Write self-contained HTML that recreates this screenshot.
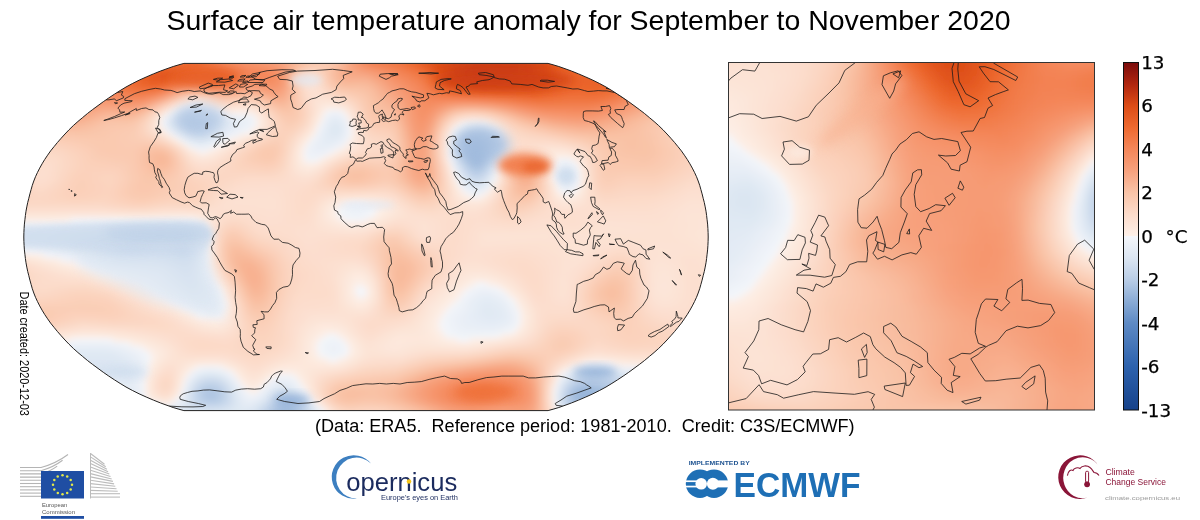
<!DOCTYPE html>
<html><head><meta charset="utf-8"><style>
html,body{margin:0;padding:0;background:#fff;width:1200px;height:520px;overflow:hidden}
svg{position:absolute;left:0;top:0}
.t{font-family:"Liberation Sans",Arial,sans-serif}
.d{font-family:"DejaVu Sans",sans-serif}
</style></head><body>
<svg width="1200" height="520" viewBox="0 0 1200 520">
<defs>
<filter id="gb" x="-5%" y="-5%" width="110%" height="110%"><feGaussianBlur stdDeviation="3"/></filter>
<clipPath id="rob"><path d="M183.9,63.4 L178.9,64.8 L173.2,66.5 L167,68.7 L160.4,71.1 L153.4,73.9 L146.2,77 L139.1,80.2 L132.3,83.6 L126,87 L120.1,90.6 L114.4,94.2 L108.8,97.9 L103.3,101.7 L98,105.6 L92.7,109.5 L87.6,113.4 L82.7,117.5 L77.9,121.5 L73.3,125.6 L69,129.8 L65,134 L61.2,138.2 L57.5,142.4 L54,146.7 L50.6,150.9 L47.6,155.2 L44.7,159.5 L42.1,163.8 L39.7,168.1 L37.5,172.4 L35.5,176.7 L33.8,181 L32.3,185.3 L31.1,189.6 L29.9,193.9 L28.8,198.3 L27.7,202.6 L26.8,206.9 L26,211.2 L25.4,215.5 L24.9,219.8 L24.4,224.1 L24.1,228.4 L23.9,232.7 L23.8,237 L23.9,241.3 L24.1,245.6 L24.4,249.9 L24.9,254.2 L25.4,258.5 L26,262.8 L26.8,267.1 L27.7,271.4 L28.8,275.7 L29.9,280.1 L31.1,284.4 L32.3,288.7 L33.8,293 L35.5,297.3 L37.5,301.6 L39.7,305.9 L42.1,310.2 L44.7,314.5 L47.6,318.8 L50.6,323.1 L54,327.3 L57.5,331.6 L61.2,335.8 L65,340 L69,344.2 L73.3,348.4 L77.9,352.5 L82.7,356.5 L87.6,360.6 L92.7,364.5 L98,368.4 L103.3,372.3 L108.8,376.1 L114.4,379.8 L120.1,383.4 L126,387 L132.3,390.4 L139.1,393.8 L146.2,397 L153.4,400.1 L160.4,402.9 L167,405.3 L173.2,407.5 L178.9,409.2 L183.9,410.6 L548.1,410.6 L553.1,409.2 L558.8,407.5 L565,405.3 L571.6,402.9 L578.6,400.1 L585.8,397 L592.9,393.8 L599.7,390.4 L606,387 L611.9,383.4 L617.6,379.8 L623.2,376.1 L628.7,372.3 L634,368.4 L639.3,364.5 L644.4,360.6 L649.3,356.5 L654.1,352.5 L658.7,348.4 L663,344.2 L667,340 L670.8,335.8 L674.5,331.6 L678,327.3 L681.4,323.1 L684.4,318.8 L687.3,314.5 L689.9,310.2 L692.3,305.9 L694.5,301.6 L696.5,297.3 L698.2,293 L699.7,288.7 L700.9,284.4 L702.1,280.1 L703.2,275.7 L704.3,271.4 L705.2,267.1 L706,262.8 L706.6,258.5 L707.1,254.2 L707.6,249.9 L707.9,245.6 L708.1,241.3 L708.2,237 L708.1,232.7 L707.9,228.4 L707.6,224.1 L707.1,219.8 L706.6,215.5 L706,211.2 L705.2,206.9 L704.3,202.6 L703.2,198.3 L702.1,193.9 L700.9,189.6 L699.7,185.3 L698.2,181 L696.5,176.7 L694.5,172.4 L692.3,168.1 L689.9,163.8 L687.3,159.5 L684.4,155.2 L681.4,150.9 L678,146.7 L674.5,142.4 L670.8,138.2 L667,134 L663,129.8 L658.7,125.6 L654.1,121.5 L649.3,117.5 L644.4,113.4 L639.3,109.5 L634,105.6 L628.7,101.7 L623.2,97.9 L617.6,94.2 L611.9,90.6 L606,87 L599.7,83.6 L592.9,80.2 L585.8,77 L578.6,73.9 L571.6,71.1 L565,68.7 L558.8,66.5 L553.1,64.8 L548.1,63.4Z"/></clipPath>
<clipPath id="eu"><rect x="728.5" y="62.5" width="366" height="347.5"/></clipPath>
<filter id="b3" x="-50%" y="-50%" width="200%" height="200%"><feGaussianBlur stdDeviation="3"/></filter>
<filter id="b4" x="-50%" y="-50%" width="200%" height="200%"><feGaussianBlur stdDeviation="4"/></filter>
<filter id="b5" x="-50%" y="-50%" width="200%" height="200%"><feGaussianBlur stdDeviation="5"/></filter>
<filter id="b6" x="-50%" y="-50%" width="200%" height="200%"><feGaussianBlur stdDeviation="6"/></filter>
<linearGradient id="cbg" x1="0" y1="0" x2="0" y2="1"><stop offset="0" stop-color="#7a0c0c"/>
<stop offset="0.0625" stop-color="#b0260f"/>
<stop offset="0.125" stop-color="#dd4d17"/>
<stop offset="0.1875" stop-color="#ee6a30"/>
<stop offset="0.25" stop-color="#f4875a"/>
<stop offset="0.3125" stop-color="#f7a27e"/>
<stop offset="0.375" stop-color="#f9c4a8"/>
<stop offset="0.4375" stop-color="#fcdccb"/>
<stop offset="0.4999" stop-color="#fdf0e8"/>
<stop offset="0.5001" stop-color="#f4f6fa"/>
<stop offset="0.5625" stop-color="#dce6f2"/>
<stop offset="0.625" stop-color="#b9cde6"/>
<stop offset="0.6875" stop-color="#8aabd5"/>
<stop offset="0.75" stop-color="#5e8ac4"/>
<stop offset="0.875" stop-color="#2d62ad"/>
<stop offset="1" stop-color="#17428a"/></linearGradient>
</defs>
<text class="t" x="166.5" y="29.8" font-size="28.45" fill="#000">Surface air temperature anomaly for September to November 2020</text>
<g clip-path="url(#rob)">
<rect x="0" y="50" width="720" height="370" fill="#fbd5c0"/>
<g filter="url(#gb)"><defs><linearGradient id="w0" gradientUnits="userSpaceOnUse" x1="18" x2="714" y1="0" y2="0"><stop offset=".000" stop-color="#f4875a"/><stop offset=".168" stop-color="#f4875b"/><stop offset=".198" stop-color="#f38050"/><stop offset=".233" stop-color="#ef6e35"/><stop offset=".250" stop-color="#ee692f"/><stop offset=".263" stop-color="#ef6e35"/><stop offset=".293" stop-color="#f48558"/><stop offset=".306" stop-color="#f58d62"/><stop offset=".353" stop-color="#f69971"/><stop offset=".375" stop-color="#f7a17c"/><stop offset=".418" stop-color="#f9c4a8"/><stop offset=".440" stop-color="#facbb2"/><stop offset=".453" stop-color="#fac8ae"/><stop offset=".461" stop-color="#f9c1a5"/><stop offset=".487" stop-color="#f6976f"/><stop offset=".504" stop-color="#f38355"/><stop offset=".513" stop-color="#f27e4e"/><stop offset=".547" stop-color="#f07641"/><stop offset=".565" stop-color="#ee6a30"/><stop offset=".591" stop-color="#e1541d"/><stop offset=".603" stop-color="#dc4c17"/><stop offset=".655" stop-color="#cf4114"/><stop offset=".724" stop-color="#d04115"/><stop offset=".759" stop-color="#dc4c17"/><stop offset=".780" stop-color="#eb642b"/><stop offset=".789" stop-color="#ee6c32"/><stop offset=".802" stop-color="#f0723c"/><stop offset=".823" stop-color="#f17743"/><stop offset=".866" stop-color="#f48759"/><stop offset=".879" stop-color="#f4885c"/><stop offset=".918" stop-color="#f48759"/><stop offset="1" stop-color="#f4875a"/></linearGradient><linearGradient id="w1" gradientUnits="userSpaceOnUse" x1="18" x2="714" y1="0" y2="0"><stop offset=".000" stop-color="#f4875a"/><stop offset=".168" stop-color="#f4875b"/><stop offset=".198" stop-color="#f38050"/><stop offset=".233" stop-color="#ef6e35"/><stop offset=".250" stop-color="#ee692f"/><stop offset=".263" stop-color="#ef6e35"/><stop offset=".293" stop-color="#f48558"/><stop offset=".306" stop-color="#f58d62"/><stop offset=".353" stop-color="#f69971"/><stop offset=".375" stop-color="#f7a17c"/><stop offset=".418" stop-color="#f9c4a8"/><stop offset=".440" stop-color="#facbb2"/><stop offset=".453" stop-color="#fac8ae"/><stop offset=".461" stop-color="#f9c1a5"/><stop offset=".487" stop-color="#f6976f"/><stop offset=".504" stop-color="#f38355"/><stop offset=".513" stop-color="#f27e4e"/><stop offset=".547" stop-color="#f07641"/><stop offset=".565" stop-color="#ee6a30"/><stop offset=".591" stop-color="#e1541d"/><stop offset=".603" stop-color="#dc4c17"/><stop offset=".655" stop-color="#cf4114"/><stop offset=".724" stop-color="#d04115"/><stop offset=".759" stop-color="#dc4c17"/><stop offset=".780" stop-color="#eb642b"/><stop offset=".789" stop-color="#ee6c32"/><stop offset=".802" stop-color="#f0723c"/><stop offset=".823" stop-color="#f17743"/><stop offset=".866" stop-color="#f48759"/><stop offset=".879" stop-color="#f4885c"/><stop offset=".918" stop-color="#f48759"/><stop offset="1" stop-color="#f4875a"/></linearGradient><linearGradient id="w2" gradientUnits="userSpaceOnUse" x1="18" x2="714" y1="0" y2="0"><stop offset=".000" stop-color="#f38252"/><stop offset=".099" stop-color="#f38152"/><stop offset=".164" stop-color="#f17946"/><stop offset=".198" stop-color="#ee692f"/><stop offset=".207" stop-color="#eb652c"/><stop offset=".233" stop-color="#e96229"/><stop offset=".250" stop-color="#ec672d"/><stop offset=".259" stop-color="#ee6a30"/><stop offset=".323" stop-color="#f4875b"/><stop offset=".353" stop-color="#f58e63"/><stop offset=".371" stop-color="#f6956d"/><stop offset=".384" stop-color="#f7a27e"/><stop offset=".401" stop-color="#f9bfa1"/><stop offset=".409" stop-color="#fac9af"/><stop offset=".418" stop-color="#facfb8"/><stop offset=".427" stop-color="#fbd0ba"/><stop offset=".444" stop-color="#fac9b0"/><stop offset=".478" stop-color="#f7a581"/><stop offset=".500" stop-color="#f5946b"/><stop offset=".552" stop-color="#f17a48"/><stop offset=".573" stop-color="#ef6c34"/><stop offset=".603" stop-color="#dd4e18"/><stop offset=".612" stop-color="#d94916"/><stop offset=".634" stop-color="#cf4114"/><stop offset=".655" stop-color="#ca3c14"/><stop offset=".716" stop-color="#cd3e14"/><stop offset=".737" stop-color="#d14215"/><stop offset=".763" stop-color="#dd4d17"/><stop offset=".776" stop-color="#e65c24"/><stop offset=".789" stop-color="#ec662d"/><stop offset=".810" stop-color="#ef6d34"/><stop offset=".828" stop-color="#ef6e36"/><stop offset=".875" stop-color="#f27d4b"/><stop offset=".914" stop-color="#f38355"/><stop offset=".966" stop-color="#f2804f"/><stop offset="1" stop-color="#f38151"/></linearGradient><linearGradient id="w3" gradientUnits="userSpaceOnUse" x1="18" x2="714" y1="0" y2="0"><stop offset=".000" stop-color="#f27e4e"/><stop offset=".073" stop-color="#f38050"/><stop offset=".099" stop-color="#f27e4d"/><stop offset=".155" stop-color="#f0733c"/><stop offset=".172" stop-color="#ee6c32"/><stop offset=".203" stop-color="#e55a22"/><stop offset=".220" stop-color="#e45921"/><stop offset=".250" stop-color="#ee6a30"/><stop offset=".259" stop-color="#ef6f37"/><stop offset=".293" stop-color="#f17742"/><stop offset=".332" stop-color="#f48558"/><stop offset=".358" stop-color="#f4895d"/><stop offset=".366" stop-color="#f58d62"/><stop offset=".379" stop-color="#f69972"/><stop offset=".388" stop-color="#f7a886"/><stop offset=".401" stop-color="#f9c5a9"/><stop offset=".409" stop-color="#fbd0ba"/><stop offset=".414" stop-color="#fbd4c0"/><stop offset=".422" stop-color="#fbd7c4"/><stop offset=".435" stop-color="#fbd2bc"/><stop offset=".461" stop-color="#f8b494"/><stop offset=".474" stop-color="#f7a987"/><stop offset=".513" stop-color="#f69871"/><stop offset=".565" stop-color="#f17a48"/><stop offset=".582" stop-color="#ef6d35"/><stop offset=".603" stop-color="#e0521b"/><stop offset=".612" stop-color="#da4a16"/><stop offset=".634" stop-color="#ce4014"/><stop offset=".651" stop-color="#c93b13"/><stop offset=".681" stop-color="#c83a13"/><stop offset=".716" stop-color="#cd3e14"/><stop offset=".737" stop-color="#d14215"/><stop offset=".763" stop-color="#dd4d17"/><stop offset=".784" stop-color="#e86028"/><stop offset=".797" stop-color="#ec662c"/><stop offset=".845" stop-color="#ee6a30"/><stop offset=".888" stop-color="#f27b49"/><stop offset=".909" stop-color="#f38252"/><stop offset=".927" stop-color="#f38253"/><stop offset=".970" stop-color="#f27b49"/><stop offset="1" stop-color="#f27e4d"/></linearGradient><linearGradient id="w4" gradientUnits="userSpaceOnUse" x1="18" x2="714" y1="0" y2="0"><stop offset=".000" stop-color="#f27d4c"/><stop offset=".086" stop-color="#f27e4d"/><stop offset=".116" stop-color="#f17946"/><stop offset=".142" stop-color="#f0733c"/><stop offset=".164" stop-color="#ee6b31"/><stop offset=".198" stop-color="#e3561f"/><stop offset=".216" stop-color="#e2561f"/><stop offset=".237" stop-color="#ed682e"/><stop offset=".250" stop-color="#f0733d"/><stop offset=".263" stop-color="#f17946"/><stop offset=".289" stop-color="#f17844"/><stop offset=".302" stop-color="#f17a47"/><stop offset=".332" stop-color="#f48659"/><stop offset=".358" stop-color="#f4885b"/><stop offset=".366" stop-color="#f48b5f"/><stop offset=".379" stop-color="#f69870"/><stop offset=".388" stop-color="#f7a986"/><stop offset=".401" stop-color="#fac8ae"/><stop offset=".409" stop-color="#fbd5c1"/><stop offset=".418" stop-color="#fcdccb"/><stop offset=".422" stop-color="#fcddcc"/><stop offset=".431" stop-color="#fcd9c6"/><stop offset=".440" stop-color="#fbd0ba"/><stop offset=".457" stop-color="#f8b99a"/><stop offset=".466" stop-color="#f8b08f"/><stop offset=".474" stop-color="#f8ac8b"/><stop offset=".500" stop-color="#f7a987"/><stop offset=".539" stop-color="#f58e63"/><stop offset=".565" stop-color="#f38151"/><stop offset=".582" stop-color="#f0743f"/><stop offset=".591" stop-color="#ee6a30"/><stop offset=".608" stop-color="#df511b"/><stop offset=".616" stop-color="#d94916"/><stop offset=".634" stop-color="#cf4114"/><stop offset=".655" stop-color="#c93b13"/><stop offset=".698" stop-color="#cc3d14"/><stop offset=".746" stop-color="#d54616"/><stop offset=".763" stop-color="#dd4d17"/><stop offset=".776" stop-color="#e45921"/><stop offset=".793" stop-color="#ea632a"/><stop offset=".832" stop-color="#ea632a"/><stop offset=".858" stop-color="#ed692f"/><stop offset=".901" stop-color="#f27f4f"/><stop offset=".914" stop-color="#f38354"/><stop offset=".922" stop-color="#f38355"/><stop offset=".970" stop-color="#f17b48"/><stop offset="1" stop-color="#f27e4d"/></linearGradient><linearGradient id="w5" gradientUnits="userSpaceOnUse" x1="18" x2="714" y1="0" y2="0"><stop offset=".000" stop-color="#f27d4c"/><stop offset=".095" stop-color="#f27d4c"/><stop offset=".142" stop-color="#f0733d"/><stop offset=".164" stop-color="#ee6a30"/><stop offset=".194" stop-color="#e45921"/><stop offset=".211" stop-color="#e45921"/><stop offset=".224" stop-color="#ea632a"/><stop offset=".250" stop-color="#f38151"/><stop offset=".259" stop-color="#f48557"/><stop offset=".267" stop-color="#f48558"/><stop offset=".297" stop-color="#f27f4e"/><stop offset=".328" stop-color="#f48b5f"/><stop offset=".341" stop-color="#f58c61"/><stop offset=".358" stop-color="#f48a5e"/><stop offset=".371" stop-color="#f58f64"/><stop offset=".379" stop-color="#f69871"/><stop offset=".384" stop-color="#f7a07b"/><stop offset=".397" stop-color="#f9c1a5"/><stop offset=".405" stop-color="#fbd2bc"/><stop offset=".414" stop-color="#fcddcc"/><stop offset=".422" stop-color="#fce0d0"/><stop offset=".427" stop-color="#fcdecf"/><stop offset=".435" stop-color="#fbd8c5"/><stop offset=".461" stop-color="#f8b798"/><stop offset=".474" stop-color="#f8b191"/><stop offset=".496" stop-color="#f8b393"/><stop offset=".504" stop-color="#f8b090"/><stop offset=".543" stop-color="#f59167"/><stop offset=".569" stop-color="#f38456"/><stop offset=".578" stop-color="#f27e4d"/><stop offset=".595" stop-color="#ee6a30"/><stop offset=".612" stop-color="#e0511b"/><stop offset=".621" stop-color="#d94a16"/><stop offset=".638" stop-color="#d14215"/><stop offset=".659" stop-color="#cc3e14"/><stop offset=".681" stop-color="#cd3e14"/><stop offset=".728" stop-color="#d34415"/><stop offset=".759" stop-color="#dc4c17"/><stop offset=".780" stop-color="#e65d25"/><stop offset=".797" stop-color="#ea632a"/><stop offset=".841" stop-color="#ea6229"/><stop offset=".862" stop-color="#ed692f"/><stop offset=".901" stop-color="#f38152"/><stop offset=".918" stop-color="#f48659"/><stop offset=".935" stop-color="#f48557"/><stop offset=".970" stop-color="#f27d4b"/><stop offset="1" stop-color="#f38050"/></linearGradient><linearGradient id="w6" gradientUnits="userSpaceOnUse" x1="18" x2="714" y1="0" y2="0"><stop offset=".000" stop-color="#f27f4e"/><stop offset=".078" stop-color="#f38050"/><stop offset=".108" stop-color="#f27e4d"/><stop offset=".142" stop-color="#f07641"/><stop offset=".181" stop-color="#ea642a"/><stop offset=".194" stop-color="#e85f27"/><stop offset=".207" stop-color="#e96128"/><stop offset=".220" stop-color="#ee6c32"/><stop offset=".241" stop-color="#f4895c"/><stop offset=".254" stop-color="#f5936b"/><stop offset=".267" stop-color="#f5946b"/><stop offset=".289" stop-color="#f48a5e"/><stop offset=".297" stop-color="#f4895c"/><stop offset=".332" stop-color="#f5946c"/><stop offset=".362" stop-color="#f58f65"/><stop offset=".371" stop-color="#f59269"/><stop offset=".375" stop-color="#f6956d"/><stop offset=".384" stop-color="#f7a27d"/><stop offset=".397" stop-color="#f9c3a7"/><stop offset=".409" stop-color="#fcd9c7"/><stop offset=".414" stop-color="#fcdece"/><stop offset=".422" stop-color="#fce1d3"/><stop offset=".435" stop-color="#fcdbc9"/><stop offset=".457" stop-color="#f9c2a5"/><stop offset=".466" stop-color="#f8ba9c"/><stop offset=".474" stop-color="#f8b899"/><stop offset=".491" stop-color="#f8ba9c"/><stop offset=".504" stop-color="#f8b899"/><stop offset=".539" stop-color="#f69972"/><stop offset=".578" stop-color="#f38354"/><stop offset=".599" stop-color="#ee6b31"/><stop offset=".621" stop-color="#de4f19"/><stop offset=".629" stop-color="#da4a16"/><stop offset=".655" stop-color="#d24315"/><stop offset=".733" stop-color="#d84816"/><stop offset=".754" stop-color="#dd4e17"/><stop offset=".784" stop-color="#e96128"/><stop offset=".797" stop-color="#ea642b"/><stop offset=".836" stop-color="#ea6229"/><stop offset=".858" stop-color="#ed682e"/><stop offset=".871" stop-color="#ef6f37"/><stop offset=".901" stop-color="#f48557"/><stop offset=".918" stop-color="#f48a5f"/><stop offset=".940" stop-color="#f4885c"/><stop offset=".970" stop-color="#f38152"/><stop offset="1" stop-color="#f48557"/></linearGradient><linearGradient id="w7" gradientUnits="userSpaceOnUse" x1="18" x2="714" y1="0" y2="0"><stop offset=".000" stop-color="#f38253"/><stop offset=".116" stop-color="#f38152"/><stop offset=".138" stop-color="#f27c4b"/><stop offset=".177" stop-color="#ee6c33"/><stop offset=".194" stop-color="#ee6a30"/><stop offset=".203" stop-color="#ef6d34"/><stop offset=".211" stop-color="#f0733d"/><stop offset=".246" stop-color="#f79f7b"/><stop offset=".259" stop-color="#f7a785"/><stop offset=".267" stop-color="#f7a582"/><stop offset=".284" stop-color="#f69a73"/><stop offset=".297" stop-color="#f6956d"/><stop offset=".306" stop-color="#f6966e"/><stop offset=".332" stop-color="#f7a07b"/><stop offset=".341" stop-color="#f79f7a"/><stop offset=".366" stop-color="#f6966e"/><stop offset=".375" stop-color="#f69a73"/><stop offset=".384" stop-color="#f7a582"/><stop offset=".397" stop-color="#f9c4a8"/><stop offset=".409" stop-color="#fcd9c7"/><stop offset=".414" stop-color="#fcdece"/><stop offset=".422" stop-color="#fce2d4"/><stop offset=".435" stop-color="#fcddcd"/><stop offset=".457" stop-color="#fac8ae"/><stop offset=".466" stop-color="#f9c3a7"/><stop offset=".491" stop-color="#f9c1a4"/><stop offset=".504" stop-color="#f9bd9f"/><stop offset=".513" stop-color="#f8b798"/><stop offset=".534" stop-color="#f7a17d"/><stop offset=".578" stop-color="#f48659"/><stop offset=".595" stop-color="#f17642"/><stop offset=".612" stop-color="#ea642a"/><stop offset=".634" stop-color="#df501a"/><stop offset=".642" stop-color="#dc4c17"/><stop offset=".677" stop-color="#d94a16"/><stop offset=".737" stop-color="#dd4d17"/><stop offset=".784" stop-color="#eb642b"/><stop offset=".832" stop-color="#eb652b"/><stop offset=".849" stop-color="#ed682e"/><stop offset=".862" stop-color="#ef6e35"/><stop offset=".897" stop-color="#f4875a"/><stop offset=".909" stop-color="#f58e63"/><stop offset=".922" stop-color="#f59066"/><stop offset=".970" stop-color="#f4885b"/><stop offset="1" stop-color="#f48b60"/></linearGradient><linearGradient id="w8" gradientUnits="userSpaceOnUse" x1="18" x2="714" y1="0" y2="0"><stop offset=".000" stop-color="#f48659"/><stop offset=".121" stop-color="#f4875a"/><stop offset=".138" stop-color="#f38355"/><stop offset=".164" stop-color="#f17945"/><stop offset=".185" stop-color="#f07641"/><stop offset=".198" stop-color="#f17b48"/><stop offset=".211" stop-color="#f48658"/><stop offset=".228" stop-color="#f69d78"/><stop offset=".241" stop-color="#f8b292"/><stop offset=".254" stop-color="#f9bfa2"/><stop offset=".267" stop-color="#f9bc9e"/><stop offset=".293" stop-color="#f7a682"/><stop offset=".306" stop-color="#f7a582"/><stop offset=".328" stop-color="#f8af8e"/><stop offset=".336" stop-color="#f8af8f"/><stop offset=".362" stop-color="#f79f7a"/><stop offset=".375" stop-color="#f79f7b"/><stop offset=".384" stop-color="#f7a987"/><stop offset=".401" stop-color="#faccb3"/><stop offset=".409" stop-color="#fcd8c6"/><stop offset=".418" stop-color="#fce0d1"/><stop offset=".427" stop-color="#fce2d4"/><stop offset=".440" stop-color="#fcddcd"/><stop offset=".466" stop-color="#facbb2"/><stop offset=".496" stop-color="#f9c5a9"/><stop offset=".509" stop-color="#f9bea1"/><stop offset=".539" stop-color="#f7a37f"/><stop offset=".582" stop-color="#f48659"/><stop offset=".616" stop-color="#ee6b32"/><stop offset=".638" stop-color="#e75f26"/><stop offset=".659" stop-color="#e35820"/><stop offset=".741" stop-color="#e45821"/><stop offset=".793" stop-color="#ee6a30"/><stop offset=".832" stop-color="#ee692f"/><stop offset=".845" stop-color="#ee6c32"/><stop offset=".862" stop-color="#f0733d"/><stop offset=".901" stop-color="#f58f65"/><stop offset=".914" stop-color="#f6956c"/><stop offset=".931" stop-color="#f6966e"/><stop offset=".966" stop-color="#f59066"/><stop offset="1" stop-color="#f5936a"/></linearGradient><linearGradient id="w9" gradientUnits="userSpaceOnUse" x1="18" x2="714" y1="0" y2="0"><stop offset=".000" stop-color="#f48b5f"/><stop offset=".086" stop-color="#f48a5e"/><stop offset=".112" stop-color="#f58e63"/><stop offset=".129" stop-color="#f58d63"/><stop offset=".164" stop-color="#f38253"/><stop offset=".181" stop-color="#f38253"/><stop offset=".194" stop-color="#f4895c"/><stop offset=".207" stop-color="#f6956c"/><stop offset=".216" stop-color="#f7a07b"/><stop offset=".237" stop-color="#f9c6ab"/><stop offset=".246" stop-color="#faceb7"/><stop offset=".254" stop-color="#fbd2bd"/><stop offset=".267" stop-color="#facfb8"/><stop offset=".293" stop-color="#f8ba9c"/><stop offset=".302" stop-color="#f8b899"/><stop offset=".328" stop-color="#f9c2a5"/><stop offset=".336" stop-color="#f9c1a4"/><stop offset=".341" stop-color="#f9bfa2"/><stop offset=".366" stop-color="#f7a885"/><stop offset=".375" stop-color="#f7a784"/><stop offset=".384" stop-color="#f8ae8d"/><stop offset=".397" stop-color="#f9c5a9"/><stop offset=".414" stop-color="#fcdccb"/><stop offset=".427" stop-color="#fce2d4"/><stop offset=".444" stop-color="#fcdfcf"/><stop offset=".466" stop-color="#fbd3be"/><stop offset=".504" stop-color="#f9c4a8"/><stop offset=".556" stop-color="#f69a74"/><stop offset=".578" stop-color="#f58c60"/><stop offset=".608" stop-color="#f27c4a"/><stop offset=".642" stop-color="#ef7039"/><stop offset=".672" stop-color="#ee6b31"/><stop offset=".741" stop-color="#ea642a"/><stop offset=".767" stop-color="#ee692f"/><stop offset=".789" stop-color="#ef6f37"/><stop offset=".832" stop-color="#ef6f37"/><stop offset=".849" stop-color="#f0743e"/><stop offset=".862" stop-color="#f17a47"/><stop offset=".892" stop-color="#f59066"/><stop offset=".914" stop-color="#f69b75"/><stop offset=".940" stop-color="#f69c77"/><stop offset=".974" stop-color="#f69971"/><stop offset="1" stop-color="#f69b75"/></linearGradient><linearGradient id="w10" gradientUnits="userSpaceOnUse" x1="18" x2="714" y1="0" y2="0"><stop offset=".000" stop-color="#f59066"/><stop offset=".082" stop-color="#f58f64"/><stop offset=".125" stop-color="#f6966e"/><stop offset=".159" stop-color="#f58d62"/><stop offset=".172" stop-color="#f58c61"/><stop offset=".181" stop-color="#f59065"/><stop offset=".198" stop-color="#f79e79"/><stop offset=".207" stop-color="#f7aa88"/><stop offset=".224" stop-color="#fac9af"/><stop offset=".237" stop-color="#fcd9c7"/><stop offset=".246" stop-color="#fce0d1"/><stop offset=".254" stop-color="#fce3d5"/><stop offset=".267" stop-color="#fcdfcf"/><stop offset=".289" stop-color="#faceb7"/><stop offset=".297" stop-color="#facbb2"/><stop offset=".328" stop-color="#fad0b9"/><stop offset=".336" stop-color="#facfb8"/><stop offset=".345" stop-color="#facab0"/><stop offset=".366" stop-color="#f8b494"/><stop offset=".375" stop-color="#f8b08f"/><stop offset=".384" stop-color="#f8b494"/><stop offset=".388" stop-color="#f8b99a"/><stop offset=".409" stop-color="#fbd5c1"/><stop offset=".418" stop-color="#fcddcd"/><stop offset=".427" stop-color="#fce2d4"/><stop offset=".448" stop-color="#fce3d5"/><stop offset=".470" stop-color="#fcdac8"/><stop offset=".509" stop-color="#f9c3a6"/><stop offset=".539" stop-color="#f8ad8c"/><stop offset=".565" stop-color="#f6966f"/><stop offset=".586" stop-color="#f48a5d"/><stop offset=".595" stop-color="#f4875b"/><stop offset=".642" stop-color="#f48558"/><stop offset=".677" stop-color="#f38050"/><stop offset=".741" stop-color="#ef7038"/><stop offset=".754" stop-color="#ef7038"/><stop offset=".789" stop-color="#f07540"/><stop offset=".823" stop-color="#f07540"/><stop offset=".836" stop-color="#f17743"/><stop offset=".853" stop-color="#f27e4c"/><stop offset=".897" stop-color="#f69973"/><stop offset=".922" stop-color="#f7a481"/><stop offset=".940" stop-color="#f7a582"/><stop offset=".966" stop-color="#f7a27e"/><stop offset="1" stop-color="#f7a481"/></linearGradient><linearGradient id="w11" gradientUnits="userSpaceOnUse" x1="18" x2="714" y1="0" y2="0"><stop offset=".000" stop-color="#f6966d"/><stop offset=".026" stop-color="#f6966f"/><stop offset=".082" stop-color="#f5946b"/><stop offset=".125" stop-color="#f79e79"/><stop offset=".159" stop-color="#f6976f"/><stop offset=".177" stop-color="#f69a73"/><stop offset=".190" stop-color="#f7a683"/><stop offset=".224" stop-color="#fcdccb"/><stop offset=".237" stop-color="#fde9de"/><stop offset=".246" stop-color="#fdefe6"/><stop offset=".250" stop-color="#f4f6fa"/><stop offset=".259" stop-color="#f4f6f9"/><stop offset=".263" stop-color="#fdefe6"/><stop offset=".293" stop-color="#fcdbc9"/><stop offset=".306" stop-color="#fcd9c6"/><stop offset=".328" stop-color="#fcddcc"/><stop offset=".336" stop-color="#fcdbca"/><stop offset=".349" stop-color="#fbd1bc"/><stop offset=".366" stop-color="#f9c0a3"/><stop offset=".375" stop-color="#f8b99b"/><stop offset=".384" stop-color="#f8ba9b"/><stop offset=".388" stop-color="#f9bd9f"/><stop offset=".418" stop-color="#fcdccb"/><stop offset=".427" stop-color="#fce2d4"/><stop offset=".435" stop-color="#fde6da"/><stop offset=".453" stop-color="#fde8dd"/><stop offset=".474" stop-color="#fcdece"/><stop offset=".504" stop-color="#f9c6ab"/><stop offset=".539" stop-color="#f8b292"/><stop offset=".569" stop-color="#f6956c"/><stop offset=".582" stop-color="#f58d62"/><stop offset=".595" stop-color="#f58d61"/><stop offset=".625" stop-color="#f69770"/><stop offset=".638" stop-color="#f69a73"/><stop offset=".659" stop-color="#f69972"/><stop offset=".681" stop-color="#f5946b"/><stop offset=".728" stop-color="#f38050"/><stop offset=".750" stop-color="#f17b48"/><stop offset=".832" stop-color="#f27e4d"/><stop offset=".853" stop-color="#f48659"/><stop offset=".897" stop-color="#f7a07c"/><stop offset=".918" stop-color="#f8ac8a"/><stop offset=".935" stop-color="#f8af8e"/><stop offset="1" stop-color="#f8af8e"/></linearGradient><linearGradient id="w12" gradientUnits="userSpaceOnUse" x1="18" x2="714" y1="0" y2="0"><stop offset=".000" stop-color="#f69c75"/><stop offset=".026" stop-color="#f69d77"/><stop offset=".078" stop-color="#f69972"/><stop offset=".129" stop-color="#f7a885"/><stop offset=".159" stop-color="#f7a17c"/><stop offset=".172" stop-color="#f7a480"/><stop offset=".185" stop-color="#f8b292"/><stop offset=".211" stop-color="#fcdac9"/><stop offset=".228" stop-color="#fdefe7"/><stop offset=".233" stop-color="#f0f3f9"/><stop offset=".246" stop-color="#e5ecf5"/><stop offset=".254" stop-color="#e4ebf5"/><stop offset=".263" stop-color="#e7edf6"/><stop offset=".276" stop-color="#f1f4f9"/><stop offset=".280" stop-color="#fdefe6"/><stop offset=".297" stop-color="#fce5d8"/><stop offset=".328" stop-color="#fde6da"/><stop offset=".336" stop-color="#fce5d7"/><stop offset=".345" stop-color="#fcdfd0"/><stop offset=".366" stop-color="#fac9af"/><stop offset=".379" stop-color="#f9c0a3"/><stop offset=".388" stop-color="#f9c1a4"/><stop offset=".397" stop-color="#f9c6ab"/><stop offset=".418" stop-color="#fcdac9"/><stop offset=".435" stop-color="#fde8dd"/><stop offset=".448" stop-color="#fdeee5"/><stop offset=".461" stop-color="#fdede4"/><stop offset=".474" stop-color="#fce4d7"/><stop offset=".500" stop-color="#facab1"/><stop offset=".509" stop-color="#f9c5a9"/><stop offset=".539" stop-color="#f8b798"/><stop offset=".565" stop-color="#f69a73"/><stop offset=".582" stop-color="#f58f64"/><stop offset=".591" stop-color="#f59065"/><stop offset=".599" stop-color="#f5946b"/><stop offset=".625" stop-color="#f7aa88"/><stop offset=".634" stop-color="#f8af8e"/><stop offset=".655" stop-color="#f8b393"/><stop offset=".677" stop-color="#f8ab8a"/><stop offset=".724" stop-color="#f59066"/><stop offset=".746" stop-color="#f4885b"/><stop offset=".767" stop-color="#f38556"/><stop offset=".819" stop-color="#f38456"/><stop offset=".849" stop-color="#f58d62"/><stop offset=".905" stop-color="#f8ae8c"/><stop offset=".922" stop-color="#f8b596"/><stop offset=".944" stop-color="#f8b99b"/><stop offset="1" stop-color="#f8ba9c"/></linearGradient><linearGradient id="w13" gradientUnits="userSpaceOnUse" x1="18" x2="714" y1="0" y2="0"><stop offset=".000" stop-color="#f7a27d"/><stop offset=".030" stop-color="#f7a37f"/><stop offset=".078" stop-color="#f79f7a"/><stop offset=".091" stop-color="#f7a17d"/><stop offset=".121" stop-color="#f8af8f"/><stop offset=".129" stop-color="#f8b191"/><stop offset=".155" stop-color="#f8ad8b"/><stop offset=".168" stop-color="#f8af8e"/><stop offset=".172" stop-color="#f8b291"/><stop offset=".181" stop-color="#f9bc9e"/><stop offset=".216" stop-color="#fdede3"/><stop offset=".220" stop-color="#f2f5f9"/><stop offset=".241" stop-color="#d9e4f1"/><stop offset=".254" stop-color="#d4e0ef"/><stop offset=".293" stop-color="#f3f5fa"/><stop offset=".297" stop-color="#fdefe7"/><stop offset=".323" stop-color="#fdefe7"/><stop offset=".336" stop-color="#fdece3"/><stop offset=".349" stop-color="#fce3d5"/><stop offset=".375" stop-color="#fac8ae"/><stop offset=".388" stop-color="#f9c5a9"/><stop offset=".401" stop-color="#facab0"/><stop offset=".440" stop-color="#fdeee5"/><stop offset=".444" stop-color="#f3f5fa"/><stop offset=".457" stop-color="#eef2f8"/><stop offset=".466" stop-color="#f3f5fa"/><stop offset=".470" stop-color="#fdeee5"/><stop offset=".500" stop-color="#facbb3"/><stop offset=".509" stop-color="#f9c6ab"/><stop offset=".530" stop-color="#f9c0a3"/><stop offset=".543" stop-color="#f8b799"/><stop offset=".565" stop-color="#f69c75"/><stop offset=".573" stop-color="#f5946b"/><stop offset=".582" stop-color="#f59066"/><stop offset=".595" stop-color="#f6966e"/><stop offset=".603" stop-color="#f79f7a"/><stop offset=".629" stop-color="#f9c3a7"/><stop offset=".647" stop-color="#facbb2"/><stop offset=".659" stop-color="#facbb2"/><stop offset=".677" stop-color="#f9c5a9"/><stop offset=".716" stop-color="#f7a380"/><stop offset=".737" stop-color="#f6976f"/><stop offset=".754" stop-color="#f59167"/><stop offset=".802" stop-color="#f58c60"/><stop offset=".823" stop-color="#f58d62"/><stop offset=".845" stop-color="#f5946b"/><stop offset=".871" stop-color="#f7a07c"/><stop offset=".905" stop-color="#f8b596"/><stop offset=".927" stop-color="#f9bea1"/><stop offset=".961" stop-color="#f9c4a9"/><stop offset="1" stop-color="#f9c4a8"/></linearGradient><linearGradient id="w14" gradientUnits="userSpaceOnUse" x1="18" x2="714" y1="0" y2="0"><stop offset=".000" stop-color="#f7a987"/><stop offset=".030" stop-color="#f8ab89"/><stop offset=".060" stop-color="#f7a683"/><stop offset=".082" stop-color="#f7a683"/><stop offset=".095" stop-color="#f7aa88"/><stop offset=".125" stop-color="#f8b99b"/><stop offset=".138" stop-color="#f8ba9c"/><stop offset=".159" stop-color="#f8b798"/><stop offset=".168" stop-color="#f8ba9c"/><stop offset=".181" stop-color="#f9c7ad"/><stop offset=".207" stop-color="#fdebe0"/><stop offset=".211" stop-color="#f4f6fa"/><stop offset=".237" stop-color="#cedced"/><stop offset=".250" stop-color="#c5d5ea"/><stop offset=".263" stop-color="#cad9ec"/><stop offset=".280" stop-color="#dee8f3"/><stop offset=".293" stop-color="#e9eff6"/><stop offset=".336" stop-color="#f1f4f9"/><stop offset=".341" stop-color="#fdf0e7"/><stop offset=".349" stop-color="#fde8dd"/><stop offset=".375" stop-color="#facdb5"/><stop offset=".388" stop-color="#f9c7ad"/><stop offset=".401" stop-color="#facab1"/><stop offset=".414" stop-color="#fbd5c0"/><stop offset=".435" stop-color="#fdede4"/><stop offset=".440" stop-color="#f2f5f9"/><stop offset=".453" stop-color="#e8eef6"/><stop offset=".461" stop-color="#e9eff6"/><stop offset=".470" stop-color="#f1f4f9"/><stop offset=".474" stop-color="#fdeee6"/><stop offset=".500" stop-color="#facdb5"/><stop offset=".509" stop-color="#f9c7ad"/><stop offset=".530" stop-color="#f9c4a8"/><stop offset=".539" stop-color="#f9c0a3"/><stop offset=".547" stop-color="#f8b697"/><stop offset=".565" stop-color="#f69d77"/><stop offset=".578" stop-color="#f59369"/><stop offset=".586" stop-color="#f5936a"/><stop offset=".595" stop-color="#f69b74"/><stop offset=".599" stop-color="#f7a07c"/><stop offset=".621" stop-color="#fac9af"/><stop offset=".629" stop-color="#fbd2bd"/><stop offset=".642" stop-color="#fcdbca"/><stop offset=".651" stop-color="#fcddcd"/><stop offset=".659" stop-color="#fcddcd"/><stop offset=".672" stop-color="#fcd9c6"/><stop offset=".694" stop-color="#fac9af"/><stop offset=".724" stop-color="#f8ad8b"/><stop offset=".746" stop-color="#f79f7a"/><stop offset=".767" stop-color="#f69871"/><stop offset=".802" stop-color="#f5946b"/><stop offset=".823" stop-color="#f6966d"/><stop offset=".845" stop-color="#f69c76"/><stop offset=".905" stop-color="#f9bc9e"/><stop offset=".931" stop-color="#f9c6ab"/><stop offset=".970" stop-color="#facbb3"/><stop offset="1" stop-color="#facab0"/></linearGradient><linearGradient id="w15" gradientUnits="userSpaceOnUse" x1="18" x2="714" y1="0" y2="0"><stop offset=".000" stop-color="#f8b08f"/><stop offset=".034" stop-color="#f8b292"/><stop offset=".078" stop-color="#f8ad8c"/><stop offset=".095" stop-color="#f8b291"/><stop offset=".129" stop-color="#f9c1a5"/><stop offset=".164" stop-color="#f9c2a5"/><stop offset=".181" stop-color="#facfb7"/><stop offset=".203" stop-color="#fdebe0"/><stop offset=".207" stop-color="#f4f6fa"/><stop offset=".233" stop-color="#cad9ec"/><stop offset=".241" stop-color="#c0d2e8"/><stop offset=".254" stop-color="#bbcfe7"/><stop offset=".267" stop-color="#c4d5ea"/><stop offset=".293" stop-color="#e2eaf4"/><stop offset=".328" stop-color="#e9eff6"/><stop offset=".341" stop-color="#f1f4f9"/><stop offset=".345" stop-color="#fdefe7"/><stop offset=".375" stop-color="#fbd1ba"/><stop offset=".388" stop-color="#facab1"/><stop offset=".401" stop-color="#faccb4"/><stop offset=".409" stop-color="#fbd2bc"/><stop offset=".435" stop-color="#fdf0e8"/><stop offset=".440" stop-color="#eff2f8"/><stop offset=".448" stop-color="#e6ecf5"/><stop offset=".457" stop-color="#e2eaf4"/><stop offset=".461" stop-color="#e3ebf4"/><stop offset=".474" stop-color="#f2f4f9"/><stop offset=".478" stop-color="#fdece3"/><stop offset=".500" stop-color="#facfb8"/><stop offset=".513" stop-color="#fac8ae"/><stop offset=".539" stop-color="#f9c4a8"/><stop offset=".547" stop-color="#f8ba9c"/><stop offset=".560" stop-color="#f7a581"/><stop offset=".569" stop-color="#f69a73"/><stop offset=".578" stop-color="#f5946b"/><stop offset=".586" stop-color="#f6966e"/><stop offset=".595" stop-color="#f79f7a"/><stop offset=".612" stop-color="#f9c5aa"/><stop offset=".625" stop-color="#fcdac9"/><stop offset=".629" stop-color="#fcdfd0"/><stop offset=".638" stop-color="#fde6da"/><stop offset=".655" stop-color="#fdece2"/><stop offset=".668" stop-color="#fde9de"/><stop offset=".677" stop-color="#fce4d7"/><stop offset=".720" stop-color="#f9bfa2"/><stop offset=".737" stop-color="#f8b292"/><stop offset=".763" stop-color="#f7a581"/><stop offset=".789" stop-color="#f79e78"/><stop offset=".806" stop-color="#f69c77"/><stop offset=".832" stop-color="#f7a07b"/><stop offset=".905" stop-color="#f9c1a4"/><stop offset=".948" stop-color="#faceb7"/><stop offset=".970" stop-color="#fbd1bb"/><stop offset="1" stop-color="#facfb7"/></linearGradient><linearGradient id="w16" gradientUnits="userSpaceOnUse" x1="18" x2="714" y1="0" y2="0"><stop offset=".000" stop-color="#f8b798"/><stop offset=".034" stop-color="#f8b99b"/><stop offset=".078" stop-color="#f8b595"/><stop offset=".095" stop-color="#f8b89a"/><stop offset=".121" stop-color="#f9c4a8"/><stop offset=".134" stop-color="#f9c6ab"/><stop offset=".155" stop-color="#f9c6aa"/><stop offset=".168" stop-color="#fac9af"/><stop offset=".181" stop-color="#fbd3be"/><stop offset=".203" stop-color="#fdece3"/><stop offset=".207" stop-color="#f2f5f9"/><stop offset=".237" stop-color="#c3d4e9"/><stop offset=".246" stop-color="#bacee6"/><stop offset=".254" stop-color="#b7cce5"/><stop offset=".267" stop-color="#c0d2e8"/><stop offset=".293" stop-color="#dee7f3"/><stop offset=".306" stop-color="#e4ebf5"/><stop offset=".323" stop-color="#e7eef6"/><stop offset=".341" stop-color="#f1f4f9"/><stop offset=".345" stop-color="#fdefe7"/><stop offset=".375" stop-color="#fbd3bd"/><stop offset=".384" stop-color="#faceb6"/><stop offset=".392" stop-color="#facdb4"/><stop offset=".409" stop-color="#fbd5c0"/><stop offset=".418" stop-color="#fcdecd"/><stop offset=".431" stop-color="#fdede4"/><stop offset=".435" stop-color="#f1f4f9"/><stop offset=".453" stop-color="#dfe8f3"/><stop offset=".466" stop-color="#e3ebf4"/><stop offset=".474" stop-color="#eff2f8"/><stop offset=".478" stop-color="#fdefe6"/><stop offset=".500" stop-color="#fbd2bc"/><stop offset=".513" stop-color="#facbb2"/><stop offset=".530" stop-color="#facab1"/><stop offset=".539" stop-color="#f9c7ad"/><stop offset=".547" stop-color="#f9bea1"/><stop offset=".565" stop-color="#f7a07c"/><stop offset=".578" stop-color="#f6966d"/><stop offset=".586" stop-color="#f69871"/><stop offset=".595" stop-color="#f7a480"/><stop offset=".608" stop-color="#f9c5a9"/><stop offset=".621" stop-color="#fcdece"/><stop offset=".634" stop-color="#fdeee5"/><stop offset=".638" stop-color="#f2f5f9"/><stop offset=".651" stop-color="#eaf0f7"/><stop offset=".659" stop-color="#eaeff7"/><stop offset=".672" stop-color="#f1f4f9"/><stop offset=".677" stop-color="#fdf0e7"/><stop offset=".707" stop-color="#fbd3be"/><stop offset=".720" stop-color="#facab0"/><stop offset=".767" stop-color="#f8b08f"/><stop offset=".802" stop-color="#f7a683"/><stop offset=".832" stop-color="#f7a986"/><stop offset=".905" stop-color="#f9c4a8"/><stop offset=".953" stop-color="#fbd2bd"/><stop offset=".978" stop-color="#fbd4c0"/><stop offset="1" stop-color="#fbd2bc"/></linearGradient><linearGradient id="w17" gradientUnits="userSpaceOnUse" x1="18" x2="714" y1="0" y2="0"><stop offset=".000" stop-color="#f9bd9f"/><stop offset=".030" stop-color="#f9c0a4"/><stop offset=".082" stop-color="#f9bc9e"/><stop offset=".125" stop-color="#f9c7ad"/><stop offset=".164" stop-color="#facab1"/><stop offset=".172" stop-color="#faceb6"/><stop offset=".181" stop-color="#fbd4c0"/><stop offset=".207" stop-color="#fdefe7"/><stop offset=".211" stop-color="#eff3f8"/><stop offset=".233" stop-color="#cedced"/><stop offset=".246" stop-color="#bed1e8"/><stop offset=".259" stop-color="#bbcfe7"/><stop offset=".272" stop-color="#c5d6ea"/><stop offset=".293" stop-color="#dee7f3"/><stop offset=".336" stop-color="#f1f4f9"/><stop offset=".341" stop-color="#fdf0e8"/><stop offset=".371" stop-color="#fbd6c2"/><stop offset=".388" stop-color="#facfb8"/><stop offset=".401" stop-color="#fbd3bd"/><stop offset=".418" stop-color="#fce1d3"/><stop offset=".427" stop-color="#fdebe1"/><stop offset=".431" stop-color="#f4f6fa"/><stop offset=".448" stop-color="#e0e9f3"/><stop offset=".457" stop-color="#dde7f2"/><stop offset=".466" stop-color="#e2eaf4"/><stop offset=".478" stop-color="#f4f6fa"/><stop offset=".483" stop-color="#fdeae0"/><stop offset=".500" stop-color="#fbd5c0"/><stop offset=".513" stop-color="#faceb7"/><stop offset=".539" stop-color="#facab1"/><stop offset=".547" stop-color="#f9c2a5"/><stop offset=".565" stop-color="#f7a27e"/><stop offset=".573" stop-color="#f69973"/><stop offset=".578" stop-color="#f69870"/><stop offset=".586" stop-color="#f69b74"/><stop offset=".595" stop-color="#f7a986"/><stop offset=".612" stop-color="#fbd4c0"/><stop offset=".625" stop-color="#fdece2"/><stop offset=".629" stop-color="#f2f5f9"/><stop offset=".642" stop-color="#e2eaf4"/><stop offset=".655" stop-color="#dce6f2"/><stop offset=".668" stop-color="#e1e9f4"/><stop offset=".685" stop-color="#f4f6fa"/><stop offset=".690" stop-color="#fdece2"/><stop offset=".707" stop-color="#fcdbc9"/><stop offset=".720" stop-color="#fbd1bb"/><stop offset=".776" stop-color="#f8b99a"/><stop offset=".810" stop-color="#f8b08f"/><stop offset=".841" stop-color="#f8b393"/><stop offset=".888" stop-color="#f9c0a3"/><stop offset=".957" stop-color="#fbd5c1"/><stop offset=".974" stop-color="#fbd6c3"/><stop offset="1" stop-color="#fbd3be"/></linearGradient><linearGradient id="w18" gradientUnits="userSpaceOnUse" x1="18" x2="714" y1="0" y2="0"><stop offset=".000" stop-color="#f9c2a6"/><stop offset=".030" stop-color="#f9c6ab"/><stop offset=".091" stop-color="#f9c3a7"/><stop offset=".164" stop-color="#faccb3"/><stop offset=".177" stop-color="#fbd1bb"/><stop offset=".198" stop-color="#fce2d3"/><stop offset=".211" stop-color="#fdeee5"/><stop offset=".216" stop-color="#f1f4f9"/><stop offset=".246" stop-color="#c8d7eb"/><stop offset=".259" stop-color="#c2d3e9"/><stop offset=".267" stop-color="#c6d6eb"/><stop offset=".297" stop-color="#e4ebf5"/><stop offset=".332" stop-color="#f4f6fa"/><stop offset=".336" stop-color="#fdeee5"/><stop offset=".371" stop-color="#fbd4c0"/><stop offset=".384" stop-color="#fbd1ba"/><stop offset=".397" stop-color="#fbd4c0"/><stop offset=".414" stop-color="#fce2d3"/><stop offset=".427" stop-color="#fdefe7"/><stop offset=".431" stop-color="#f0f3f9"/><stop offset=".444" stop-color="#e2eaf4"/><stop offset=".457" stop-color="#dde7f2"/><stop offset=".466" stop-color="#e2eaf4"/><stop offset=".478" stop-color="#f3f6fa"/><stop offset=".483" stop-color="#fdebe1"/><stop offset=".500" stop-color="#fbd8c5"/><stop offset=".513" stop-color="#fbd2bc"/><stop offset=".530" stop-color="#fbd0ba"/><stop offset=".539" stop-color="#facdb5"/><stop offset=".547" stop-color="#f9c5a9"/><stop offset=".565" stop-color="#f7a581"/><stop offset=".573" stop-color="#f69b75"/><stop offset=".578" stop-color="#f69a73"/><stop offset=".586" stop-color="#f69d78"/><stop offset=".595" stop-color="#f8ad8c"/><stop offset=".603" stop-color="#f9c6aa"/><stop offset=".612" stop-color="#fcdac8"/><stop offset=".621" stop-color="#fdebe0"/><stop offset=".625" stop-color="#f1f4f9"/><stop offset=".642" stop-color="#d6e2f0"/><stop offset=".655" stop-color="#ccdbed"/><stop offset=".668" stop-color="#d3e0ef"/><stop offset=".690" stop-color="#f2f4f9"/><stop offset=".694" stop-color="#fdede3"/><stop offset=".707" stop-color="#fcdfd0"/><stop offset=".720" stop-color="#fbd7c3"/><stop offset=".793" stop-color="#f9bea1"/><stop offset=".810" stop-color="#f8ba9c"/><stop offset=".845" stop-color="#f8bb9c"/><stop offset=".897" stop-color="#f9c3a7"/><stop offset=".966" stop-color="#fbd7c4"/><stop offset="1" stop-color="#fbd3be"/></linearGradient><linearGradient id="w19" gradientUnits="userSpaceOnUse" x1="18" x2="714" y1="0" y2="0"><stop offset=".000" stop-color="#f9c6ab"/><stop offset=".030" stop-color="#facab1"/><stop offset=".091" stop-color="#f9c7ac"/><stop offset=".112" stop-color="#f9c8ad"/><stop offset=".168" stop-color="#facdb5"/><stop offset=".185" stop-color="#fbd3be"/><stop offset=".207" stop-color="#fce2d3"/><stop offset=".220" stop-color="#fdeee6"/><stop offset=".224" stop-color="#f1f4f9"/><stop offset=".250" stop-color="#d0ddee"/><stop offset=".259" stop-color="#ccdbed"/><stop offset=".267" stop-color="#cfddee"/><stop offset=".293" stop-color="#e6edf5"/><stop offset=".315" stop-color="#f3f5fa"/><stop offset=".319" stop-color="#fdf0e7"/><stop offset=".336" stop-color="#fde8dc"/><stop offset=".366" stop-color="#fbd4bf"/><stop offset=".379" stop-color="#fbd1ba"/><stop offset=".392" stop-color="#fbd5c1"/><stop offset=".414" stop-color="#fde7da"/><stop offset=".422" stop-color="#fdefe6"/><stop offset=".427" stop-color="#f1f4f9"/><stop offset=".440" stop-color="#e4ecf5"/><stop offset=".457" stop-color="#dfe8f3"/><stop offset=".470" stop-color="#e9eff6"/><stop offset=".478" stop-color="#f4f6f9"/><stop offset=".483" stop-color="#fdebe1"/><stop offset=".496" stop-color="#fcdece"/><stop offset=".504" stop-color="#fbd8c5"/><stop offset=".530" stop-color="#fbd3be"/><stop offset=".539" stop-color="#facfb8"/><stop offset=".547" stop-color="#f9c6ac"/><stop offset=".565" stop-color="#f7a784"/><stop offset=".573" stop-color="#f69d78"/><stop offset=".578" stop-color="#f69c76"/><stop offset=".586" stop-color="#f7a07b"/><stop offset=".591" stop-color="#f7a784"/><stop offset=".612" stop-color="#fcdece"/><stop offset=".621" stop-color="#fdefe7"/><stop offset=".625" stop-color="#ebf0f7"/><stop offset=".638" stop-color="#d1deee"/><stop offset=".647" stop-color="#c4d5ea"/><stop offset=".651" stop-color="#c0d2e8"/><stop offset=".659" stop-color="#bfd1e8"/><stop offset=".668" stop-color="#c6d7eb"/><stop offset=".694" stop-color="#f3f5fa"/><stop offset=".698" stop-color="#fdece2"/><stop offset=".703" stop-color="#fde7da"/><stop offset=".720" stop-color="#fcdbc9"/><stop offset=".750" stop-color="#fbd5c1"/><stop offset=".793" stop-color="#fac8ae"/><stop offset=".828" stop-color="#f9c1a4"/><stop offset=".888" stop-color="#f9c2a5"/><stop offset=".909" stop-color="#f9c6ab"/><stop offset=".953" stop-color="#fbd4c0"/><stop offset=".970" stop-color="#fbd7c4"/><stop offset="1" stop-color="#fbd3be"/></linearGradient><linearGradient id="w20" gradientUnits="userSpaceOnUse" x1="18" x2="714" y1="0" y2="0"><stop offset=".000" stop-color="#fac9b0"/><stop offset=".034" stop-color="#faceb7"/><stop offset=".052" stop-color="#faceb7"/><stop offset=".095" stop-color="#facab0"/><stop offset=".134" stop-color="#fac9af"/><stop offset=".185" stop-color="#facfb8"/><stop offset=".198" stop-color="#fbd3be"/><stop offset=".211" stop-color="#fcdccb"/><stop offset=".228" stop-color="#fdeee5"/><stop offset=".233" stop-color="#f1f4f9"/><stop offset=".246" stop-color="#e1eaf4"/><stop offset=".263" stop-color="#d9e4f1"/><stop offset=".276" stop-color="#dfe8f3"/><stop offset=".302" stop-color="#f2f5f9"/><stop offset=".306" stop-color="#fdefe7"/><stop offset=".366" stop-color="#fad0b9"/><stop offset=".375" stop-color="#facfb8"/><stop offset=".388" stop-color="#fbd5c0"/><stop offset=".409" stop-color="#fde7db"/><stop offset=".418" stop-color="#fdefe7"/><stop offset=".422" stop-color="#f1f4f9"/><stop offset=".444" stop-color="#e2eaf4"/><stop offset=".461" stop-color="#e5ecf5"/><stop offset=".474" stop-color="#f1f4f9"/><stop offset=".478" stop-color="#fdefe6"/><stop offset=".491" stop-color="#fce2d4"/><stop offset=".504" stop-color="#fcdbc9"/><stop offset=".530" stop-color="#fbd6c2"/><stop offset=".539" stop-color="#fbd1bb"/><stop offset=".547" stop-color="#f9c8ae"/><stop offset=".569" stop-color="#f7a37f"/><stop offset=".578" stop-color="#f79e78"/><stop offset=".586" stop-color="#f7a27e"/><stop offset=".591" stop-color="#f7aa88"/><stop offset=".616" stop-color="#fdeadf"/><stop offset=".621" stop-color="#f1f4f9"/><stop offset=".642" stop-color="#c0d2e9"/><stop offset=".651" stop-color="#b5cae4"/><stop offset=".659" stop-color="#b2c8e4"/><stop offset=".668" stop-color="#bccfe7"/><stop offset=".694" stop-color="#f0f3f9"/><stop offset=".698" stop-color="#fdeee5"/><stop offset=".711" stop-color="#fce1d2"/><stop offset=".724" stop-color="#fcdccb"/><stop offset=".767" stop-color="#fcd8c6"/><stop offset=".823" stop-color="#f9c8ad"/><stop offset=".853" stop-color="#f9c3a6"/><stop offset=".888" stop-color="#f9c2a5"/><stop offset=".909" stop-color="#f9c5aa"/><stop offset=".966" stop-color="#fbd6c2"/><stop offset=".978" stop-color="#fbd6c2"/><stop offset=".991" stop-color="#fbd2bc"/><stop offset="1" stop-color="#fbd2bc"/></linearGradient><linearGradient id="w21" gradientUnits="userSpaceOnUse" x1="18" x2="714" y1="0" y2="0"><stop offset=".000" stop-color="#faccb4"/><stop offset=".047" stop-color="#fbd2bd"/><stop offset=".116" stop-color="#fac9af"/><stop offset=".164" stop-color="#facbb3"/><stop offset=".198" stop-color="#facbb2"/><stop offset=".211" stop-color="#fbd1bb"/><stop offset=".233" stop-color="#fde9dd"/><stop offset=".237" stop-color="#fdeee5"/><stop offset=".241" stop-color="#f1f4f9"/><stop offset=".254" stop-color="#e5ecf5"/><stop offset=".267" stop-color="#e3ebf4"/><stop offset=".293" stop-color="#f3f6fa"/><stop offset=".297" stop-color="#fdeee5"/><stop offset=".302" stop-color="#fdebe1"/><stop offset=".353" stop-color="#fad0b9"/><stop offset=".371" stop-color="#faccb4"/><stop offset=".388" stop-color="#fbd6c2"/><stop offset=".414" stop-color="#fdefe7"/><stop offset=".418" stop-color="#f1f4f9"/><stop offset=".427" stop-color="#eaeff7"/><stop offset=".440" stop-color="#e5ecf5"/><stop offset=".453" stop-color="#e6edf5"/><stop offset=".470" stop-color="#f1f4f9"/><stop offset=".474" stop-color="#fdefe7"/><stop offset=".496" stop-color="#fcdfd0"/><stop offset=".509" stop-color="#fcdbc9"/><stop offset=".526" stop-color="#fcd8c6"/><stop offset=".539" stop-color="#fbd2bc"/><stop offset=".543" stop-color="#faceb7"/><stop offset=".552" stop-color="#f9c3a6"/><stop offset=".569" stop-color="#f7a481"/><stop offset=".578" stop-color="#f79f7a"/><stop offset=".586" stop-color="#f7a581"/><stop offset=".591" stop-color="#f8ac8b"/><stop offset=".616" stop-color="#fdece2"/><stop offset=".621" stop-color="#eef2f8"/><stop offset=".634" stop-color="#cddced"/><stop offset=".647" stop-color="#b1c7e3"/><stop offset=".655" stop-color="#a7c0e0"/><stop offset=".659" stop-color="#a8c0e0"/><stop offset=".668" stop-color="#b3c9e4"/><stop offset=".685" stop-color="#dde7f2"/><stop offset=".694" stop-color="#eef2f8"/><stop offset=".698" stop-color="#fdefe7"/><stop offset=".707" stop-color="#fce5d8"/><stop offset=".720" stop-color="#fcdece"/><stop offset=".733" stop-color="#fcddcc"/><stop offset=".759" stop-color="#fcdfd0"/><stop offset=".780" stop-color="#fcddcc"/><stop offset=".836" stop-color="#fac8ae"/><stop offset=".875" stop-color="#f9c2a5"/><stop offset=".901" stop-color="#f9c3a6"/><stop offset=".953" stop-color="#fbd2bd"/><stop offset=".970" stop-color="#fbd5c1"/><stop offset="1" stop-color="#fbd1bb"/></linearGradient><linearGradient id="w22" gradientUnits="userSpaceOnUse" x1="18" x2="714" y1="0" y2="0"><stop offset=".000" stop-color="#facfb7"/><stop offset=".009" stop-color="#facfb7"/><stop offset=".034" stop-color="#fbd5c1"/><stop offset=".056" stop-color="#fbd5c1"/><stop offset=".121" stop-color="#fac9af"/><stop offset=".164" stop-color="#facbb2"/><stop offset=".194" stop-color="#f9c4a8"/><stop offset=".203" stop-color="#f9c4a8"/><stop offset=".211" stop-color="#f9c7ad"/><stop offset=".220" stop-color="#facfb8"/><stop offset=".246" stop-color="#fdeee5"/><stop offset=".250" stop-color="#f2f5f9"/><stop offset=".263" stop-color="#ecf0f7"/><stop offset=".280" stop-color="#f1f4f9"/><stop offset=".284" stop-color="#fdf0e8"/><stop offset=".306" stop-color="#fce3d5"/><stop offset=".345" stop-color="#facfb7"/><stop offset=".353" stop-color="#facbb2"/><stop offset=".366" stop-color="#facab0"/><stop offset=".375" stop-color="#faccb4"/><stop offset=".388" stop-color="#fbd8c4"/><stop offset=".409" stop-color="#fdeee6"/><stop offset=".414" stop-color="#f2f4f9"/><stop offset=".422" stop-color="#ebf0f7"/><stop offset=".435" stop-color="#e7edf6"/><stop offset=".444" stop-color="#e8eef6"/><stop offset=".461" stop-color="#f1f4f9"/><stop offset=".466" stop-color="#f9f3f1"/><stop offset=".470" stop-color="#fdede4"/><stop offset=".491" stop-color="#fce0d1"/><stop offset=".500" stop-color="#fcddcc"/><stop offset=".522" stop-color="#fcdac8"/><stop offset=".539" stop-color="#fbd2bd"/><stop offset=".552" stop-color="#f9c3a7"/><stop offset=".565" stop-color="#f8ac8a"/><stop offset=".573" stop-color="#f7a27e"/><stop offset=".578" stop-color="#f7a07c"/><stop offset=".582" stop-color="#f7a27d"/><stop offset=".586" stop-color="#f7a683"/><stop offset=".595" stop-color="#f8b899"/><stop offset=".616" stop-color="#fdece3"/><stop offset=".621" stop-color="#edf2f8"/><stop offset=".647" stop-color="#abc3e1"/><stop offset=".655" stop-color="#a0bbdd"/><stop offset=".659" stop-color="#a0bbdd"/><stop offset=".668" stop-color="#acc4e1"/><stop offset=".685" stop-color="#dbe5f2"/><stop offset=".694" stop-color="#edf1f8"/><stop offset=".698" stop-color="#fdefe7"/><stop offset=".707" stop-color="#fce5d7"/><stop offset=".720" stop-color="#fcddcd"/><stop offset=".733" stop-color="#fcddcc"/><stop offset=".767" stop-color="#fce4d6"/><stop offset=".789" stop-color="#fce1d3"/><stop offset=".802" stop-color="#fcdccc"/><stop offset=".832" stop-color="#faccb4"/><stop offset=".849" stop-color="#f9c7ac"/><stop offset=".879" stop-color="#f9c2a5"/><stop offset=".909" stop-color="#f9c4a8"/><stop offset=".966" stop-color="#fbd4bf"/><stop offset="1" stop-color="#fbd0ba"/></linearGradient><linearGradient id="w23" gradientUnits="userSpaceOnUse" x1="18" x2="714" y1="0" y2="0"><stop offset=".000" stop-color="#fbd1bb"/><stop offset=".009" stop-color="#fbd1bb"/><stop offset=".022" stop-color="#fbd6c2"/><stop offset=".039" stop-color="#fcd8c6"/><stop offset=".056" stop-color="#fbd8c5"/><stop offset=".125" stop-color="#fac9b0"/><stop offset=".168" stop-color="#fac9b0"/><stop offset=".198" stop-color="#f9bd9f"/><stop offset=".207" stop-color="#f9bd9f"/><stop offset=".220" stop-color="#f9c7ad"/><stop offset=".246" stop-color="#fde7db"/><stop offset=".259" stop-color="#fdefe7"/><stop offset=".263" stop-color="#f4f6fa"/><stop offset=".267" stop-color="#f4f6fa"/><stop offset=".272" stop-color="#fdf0e7"/><stop offset=".284" stop-color="#fdeae0"/><stop offset=".345" stop-color="#facbb2"/><stop offset=".362" stop-color="#f9c8ad"/><stop offset=".375" stop-color="#faccb4"/><stop offset=".384" stop-color="#fbd4bf"/><stop offset=".409" stop-color="#fdf0e8"/><stop offset=".414" stop-color="#f0f3f9"/><stop offset=".422" stop-color="#ebf0f7"/><stop offset=".435" stop-color="#eaeff7"/><stop offset=".453" stop-color="#f3f5fa"/><stop offset=".457" stop-color="#fdefe6"/><stop offset=".470" stop-color="#fde7db"/><stop offset=".500" stop-color="#fcdbc9"/><stop offset=".526" stop-color="#fbd8c5"/><stop offset=".539" stop-color="#fbd1bc"/><stop offset=".552" stop-color="#f9c3a6"/><stop offset=".565" stop-color="#f8ac8a"/><stop offset=".573" stop-color="#f7a27e"/><stop offset=".578" stop-color="#f7a17d"/><stop offset=".582" stop-color="#f7a27e"/><stop offset=".591" stop-color="#f8ae8d"/><stop offset=".599" stop-color="#f9c5a9"/><stop offset=".616" stop-color="#fdece2"/><stop offset=".621" stop-color="#eef2f8"/><stop offset=".642" stop-color="#b3c9e4"/><stop offset=".651" stop-color="#a1bcdd"/><stop offset=".655" stop-color="#9db9dc"/><stop offset=".664" stop-color="#a0bbdd"/><stop offset=".672" stop-color="#b4cae4"/><stop offset=".685" stop-color="#dae5f1"/><stop offset=".694" stop-color="#eef2f8"/><stop offset=".698" stop-color="#fdeee6"/><stop offset=".707" stop-color="#fce3d5"/><stop offset=".716" stop-color="#fcddcc"/><stop offset=".724" stop-color="#fcdac8"/><stop offset=".767" stop-color="#fde7dc"/><stop offset=".784" stop-color="#fde9de"/><stop offset=".806" stop-color="#fce0d1"/><stop offset=".836" stop-color="#faccb4"/><stop offset=".853" stop-color="#f9c7ac"/><stop offset=".875" stop-color="#f9c3a7"/><stop offset=".901" stop-color="#f9c3a6"/><stop offset=".914" stop-color="#f9c5a9"/><stop offset=".966" stop-color="#fbd3be"/><stop offset="1" stop-color="#fbd0ba"/></linearGradient><linearGradient id="w24" gradientUnits="userSpaceOnUse" x1="18" x2="714" y1="0" y2="0"><stop offset=".000" stop-color="#fbd3be"/><stop offset=".009" stop-color="#fbd3be"/><stop offset=".034" stop-color="#fcdbc9"/><stop offset=".056" stop-color="#fcdac8"/><stop offset=".116" stop-color="#faccb3"/><stop offset=".164" stop-color="#facab1"/><stop offset=".172" stop-color="#f9c8ae"/><stop offset=".194" stop-color="#f8bb9d"/><stop offset=".207" stop-color="#f8b899"/><stop offset=".211" stop-color="#f8ba9b"/><stop offset=".220" stop-color="#f9c2a6"/><stop offset=".237" stop-color="#fbd8c5"/><stop offset=".250" stop-color="#fce5d8"/><stop offset=".267" stop-color="#fdeae0"/><stop offset=".280" stop-color="#fde7db"/><stop offset=".332" stop-color="#facfb7"/><stop offset=".358" stop-color="#f9c8ad"/><stop offset=".366" stop-color="#fac9af"/><stop offset=".379" stop-color="#fbd1ba"/><stop offset=".409" stop-color="#fdf0e8"/><stop offset=".414" stop-color="#f1f4f9"/><stop offset=".422" stop-color="#edf1f8"/><stop offset=".440" stop-color="#f1f4f9"/><stop offset=".444" stop-color="#faf2ee"/><stop offset=".448" stop-color="#fdede4"/><stop offset=".483" stop-color="#fcdbc9"/><stop offset=".500" stop-color="#fbd7c3"/><stop offset=".522" stop-color="#fbd6c3"/><stop offset=".534" stop-color="#fbd3bd"/><stop offset=".547" stop-color="#f9c7ad"/><stop offset=".569" stop-color="#f7a683"/><stop offset=".578" stop-color="#f7a17d"/><stop offset=".582" stop-color="#f7a27e"/><stop offset=".586" stop-color="#f7a784"/><stop offset=".595" stop-color="#f8b899"/><stop offset=".616" stop-color="#fdeae0"/><stop offset=".621" stop-color="#f0f3f9"/><stop offset=".629" stop-color="#dae5f1"/><stop offset=".647" stop-color="#aac2e0"/><stop offset=".651" stop-color="#a1bcdd"/><stop offset=".659" stop-color="#9cb8dc"/><stop offset=".668" stop-color="#a8c1e0"/><stop offset=".685" stop-color="#dbe5f2"/><stop offset=".694" stop-color="#eff3f8"/><stop offset=".698" stop-color="#fdede3"/><stop offset=".707" stop-color="#fce1d2"/><stop offset=".716" stop-color="#fcd9c7"/><stop offset=".728" stop-color="#fbd6c2"/><stop offset=".737" stop-color="#fcd9c6"/><stop offset=".772" stop-color="#fdece3"/><stop offset=".789" stop-color="#fdeee5"/><stop offset=".806" stop-color="#fce5d8"/><stop offset=".832" stop-color="#fad0b9"/><stop offset=".853" stop-color="#f9c8ad"/><stop offset=".866" stop-color="#f9c6aa"/><stop offset=".905" stop-color="#f9c4a8"/><stop offset=".966" stop-color="#fbd3be"/><stop offset="1" stop-color="#fbd1bb"/></linearGradient><linearGradient id="w25" gradientUnits="userSpaceOnUse" x1="18" x2="714" y1="0" y2="0"><stop offset=".000" stop-color="#fbd5c0"/><stop offset=".009" stop-color="#fbd5c0"/><stop offset=".017" stop-color="#fcd9c7"/><stop offset=".034" stop-color="#fcddcc"/><stop offset=".052" stop-color="#fcdccb"/><stop offset=".103" stop-color="#facfb8"/><stop offset=".168" stop-color="#fac9b0"/><stop offset=".194" stop-color="#f8bb9c"/><stop offset=".207" stop-color="#f8b798"/><stop offset=".216" stop-color="#f8bb9d"/><stop offset=".246" stop-color="#fcddcc"/><stop offset=".254" stop-color="#fce3d5"/><stop offset=".263" stop-color="#fce5d9"/><stop offset=".280" stop-color="#fce3d5"/><stop offset=".336" stop-color="#facdb5"/><stop offset=".362" stop-color="#facab0"/><stop offset=".375" stop-color="#facfb8"/><stop offset=".409" stop-color="#fdefe6"/><stop offset=".414" stop-color="#f3f5fa"/><stop offset=".422" stop-color="#f0f4f9"/><stop offset=".431" stop-color="#f3f5fa"/><stop offset=".435" stop-color="#fdefe7"/><stop offset=".466" stop-color="#fcdcca"/><stop offset=".478" stop-color="#fbd5c1"/><stop offset=".491" stop-color="#fbd2bc"/><stop offset=".522" stop-color="#fbd3be"/><stop offset=".534" stop-color="#fbd0ba"/><stop offset=".547" stop-color="#f9c6ab"/><stop offset=".565" stop-color="#f8ab89"/><stop offset=".573" stop-color="#f7a27e"/><stop offset=".578" stop-color="#f7a17d"/><stop offset=".586" stop-color="#f7a683"/><stop offset=".595" stop-color="#f8b797"/><stop offset=".616" stop-color="#fde8dd"/><stop offset=".621" stop-color="#f3f5fa"/><stop offset=".647" stop-color="#aec5e2"/><stop offset=".651" stop-color="#a5bedf"/><stop offset=".659" stop-color="#9fbadc"/><stop offset=".664" stop-color="#a2bcde"/><stop offset=".668" stop-color="#aac2e1"/><stop offset=".685" stop-color="#dde7f2"/><stop offset=".694" stop-color="#f1f4f9"/><stop offset=".698" stop-color="#fdebe0"/><stop offset=".711" stop-color="#fcd9c6"/><stop offset=".716" stop-color="#fbd5c1"/><stop offset=".724" stop-color="#fbd1bb"/><stop offset=".733" stop-color="#fbd2bc"/><stop offset=".746" stop-color="#fcdac7"/><stop offset=".772" stop-color="#fdefe7"/><stop offset=".776" stop-color="#f2f5f9"/><stop offset=".784" stop-color="#eff3f8"/><stop offset=".793" stop-color="#f1f4f9"/><stop offset=".797" stop-color="#faf2ef"/><stop offset=".802" stop-color="#fdede4"/><stop offset=".828" stop-color="#fbd4c0"/><stop offset=".836" stop-color="#faceb7"/><stop offset=".853" stop-color="#fac8ae"/><stop offset=".905" stop-color="#f9c5aa"/><stop offset=".974" stop-color="#fbd4c0"/><stop offset="1" stop-color="#fbd2bd"/></linearGradient><linearGradient id="w26" gradientUnits="userSpaceOnUse" x1="18" x2="714" y1="0" y2="0"><stop offset=".000" stop-color="#fbd6c2"/><stop offset=".009" stop-color="#fbd6c2"/><stop offset=".026" stop-color="#fcddcd"/><stop offset=".043" stop-color="#fcdece"/><stop offset=".099" stop-color="#fbd1ba"/><stop offset=".155" stop-color="#facdb5"/><stop offset=".172" stop-color="#f9c8ae"/><stop offset=".194" stop-color="#f9bc9e"/><stop offset=".207" stop-color="#f8b99a"/><stop offset=".216" stop-color="#f9bd9f"/><stop offset=".224" stop-color="#f9c5a9"/><stop offset=".246" stop-color="#fcdac8"/><stop offset=".259" stop-color="#fce0d1"/><stop offset=".276" stop-color="#fce0d1"/><stop offset=".315" stop-color="#fbd4bf"/><stop offset=".358" stop-color="#faccb4"/><stop offset=".375" stop-color="#fbd1bb"/><stop offset=".405" stop-color="#fdeadf"/><stop offset=".422" stop-color="#fdefe7"/><stop offset=".431" stop-color="#fdece3"/><stop offset=".461" stop-color="#fbd6c3"/><stop offset=".478" stop-color="#faceb6"/><stop offset=".491" stop-color="#faccb3"/><stop offset=".517" stop-color="#facfb8"/><stop offset=".534" stop-color="#facdb6"/><stop offset=".547" stop-color="#f9c4a8"/><stop offset=".569" stop-color="#f7a683"/><stop offset=".578" stop-color="#f7a17d"/><stop offset=".586" stop-color="#f7a683"/><stop offset=".595" stop-color="#f8b596"/><stop offset=".621" stop-color="#fdeee6"/><stop offset=".625" stop-color="#ecf0f7"/><stop offset=".647" stop-color="#b4cae4"/><stop offset=".651" stop-color="#abc3e1"/><stop offset=".659" stop-color="#a4bede"/><stop offset=".664" stop-color="#a7c0e0"/><stop offset=".668" stop-color="#afc6e2"/><stop offset=".690" stop-color="#eaeff7"/><stop offset=".694" stop-color="#faf2ee"/><stop offset=".698" stop-color="#fde8dc"/><stop offset=".707" stop-color="#fcdac8"/><stop offset=".716" stop-color="#fad0b9"/><stop offset=".724" stop-color="#facbb3"/><stop offset=".733" stop-color="#faccb3"/><stop offset=".746" stop-color="#fbd4c0"/><stop offset=".767" stop-color="#fdede4"/><stop offset=".772" stop-color="#f3f5fa"/><stop offset=".784" stop-color="#e9eff6"/><stop offset=".793" stop-color="#ebf0f7"/><stop offset=".802" stop-color="#f3f5fa"/><stop offset=".806" stop-color="#fdede4"/><stop offset=".828" stop-color="#fbd5c1"/><stop offset=".836" stop-color="#facfb7"/><stop offset=".849" stop-color="#facab0"/><stop offset=".901" stop-color="#f9c7ac"/><stop offset=".922" stop-color="#facab0"/><stop offset=".970" stop-color="#fbd5c1"/><stop offset="1" stop-color="#fbd4bf"/></linearGradient><linearGradient id="w27" gradientUnits="userSpaceOnUse" x1="18" x2="714" y1="0" y2="0"><stop offset=".000" stop-color="#fbd7c4"/><stop offset=".009" stop-color="#fbd7c4"/><stop offset=".022" stop-color="#fcddcd"/><stop offset=".043" stop-color="#fcdfcf"/><stop offset=".095" stop-color="#fbd1bb"/><stop offset=".147" stop-color="#facfb9"/><stop offset=".164" stop-color="#facbb3"/><stop offset=".194" stop-color="#f9bea1"/><stop offset=".207" stop-color="#f9bd9f"/><stop offset=".216" stop-color="#f9c0a3"/><stop offset=".246" stop-color="#fbd7c4"/><stop offset=".259" stop-color="#fcddcd"/><stop offset=".267" stop-color="#fcdece"/><stop offset=".319" stop-color="#fbd4bf"/><stop offset=".362" stop-color="#fbd0ba"/><stop offset=".375" stop-color="#fbd4bf"/><stop offset=".405" stop-color="#fde8dc"/><stop offset=".418" stop-color="#fdebe1"/><stop offset=".431" stop-color="#fde7db"/><stop offset=".457" stop-color="#fbd3bd"/><stop offset=".478" stop-color="#f9c8ad"/><stop offset=".496" stop-color="#f9c7ac"/><stop offset=".522" stop-color="#faccb4"/><stop offset=".539" stop-color="#fac9b0"/><stop offset=".547" stop-color="#f9c3a6"/><stop offset=".569" stop-color="#f7a683"/><stop offset=".578" stop-color="#f7a27d"/><stop offset=".586" stop-color="#f7a683"/><stop offset=".595" stop-color="#f8b494"/><stop offset=".621" stop-color="#fdebe1"/><stop offset=".625" stop-color="#f0f3f9"/><stop offset=".647" stop-color="#bccfe7"/><stop offset=".655" stop-color="#aec5e2"/><stop offset=".659" stop-color="#acc4e1"/><stop offset=".668" stop-color="#b6cbe5"/><stop offset=".690" stop-color="#edf1f8"/><stop offset=".694" stop-color="#fdede4"/><stop offset=".711" stop-color="#fad0b9"/><stop offset=".720" stop-color="#f9c8ad"/><stop offset=".728" stop-color="#f9c5a9"/><stop offset=".737" stop-color="#f9c7ad"/><stop offset=".746" stop-color="#facfb8"/><stop offset=".767" stop-color="#fdede4"/><stop offset=".772" stop-color="#f1f4f9"/><stop offset=".780" stop-color="#e8eef6"/><stop offset=".789" stop-color="#e5ecf5"/><stop offset=".802" stop-color="#eef2f8"/><stop offset=".806" stop-color="#f6f5f6"/><stop offset=".810" stop-color="#fdebe1"/><stop offset=".819" stop-color="#fce0d1"/><stop offset=".832" stop-color="#fbd2bc"/><stop offset=".845" stop-color="#facbb2"/><stop offset=".901" stop-color="#fac9af"/><stop offset=".931" stop-color="#facdb5"/><stop offset=".970" stop-color="#fbd6c3"/><stop offset="1" stop-color="#fbd6c2"/></linearGradient><linearGradient id="w28" gradientUnits="userSpaceOnUse" x1="18" x2="714" y1="0" y2="0"><stop offset=".000" stop-color="#fbd7c4"/><stop offset=".009" stop-color="#fbd7c4"/><stop offset=".022" stop-color="#fcdece"/><stop offset=".039" stop-color="#fcdfd0"/><stop offset=".086" stop-color="#fbd2bc"/><stop offset=".138" stop-color="#fbd2bd"/><stop offset=".194" stop-color="#f9c2a5"/><stop offset=".207" stop-color="#f9c1a4"/><stop offset=".224" stop-color="#fac8ae"/><stop offset=".254" stop-color="#fcd9c7"/><stop offset=".272" stop-color="#fcdbc9"/><stop offset=".306" stop-color="#fbd6c2"/><stop offset=".362" stop-color="#fbd4c0"/><stop offset=".379" stop-color="#fcd9c6"/><stop offset=".401" stop-color="#fce3d6"/><stop offset=".418" stop-color="#fde7db"/><stop offset=".435" stop-color="#fcdfd0"/><stop offset=".461" stop-color="#facab1"/><stop offset=".478" stop-color="#f9c3a7"/><stop offset=".496" stop-color="#f9c3a6"/><stop offset=".526" stop-color="#facab1"/><stop offset=".539" stop-color="#fac8ae"/><stop offset=".547" stop-color="#f9c2a6"/><stop offset=".565" stop-color="#f8ac8a"/><stop offset=".578" stop-color="#f7a37f"/><stop offset=".586" stop-color="#f7a684"/><stop offset=".595" stop-color="#f8b393"/><stop offset=".625" stop-color="#fdf0e8"/><stop offset=".629" stop-color="#ebf0f7"/><stop offset=".647" stop-color="#c4d5ea"/><stop offset=".655" stop-color="#b8cde6"/><stop offset=".659" stop-color="#b6cbe5"/><stop offset=".668" stop-color="#bed1e8"/><stop offset=".672" stop-color="#c6d7eb"/><stop offset=".690" stop-color="#f1f4f9"/><stop offset=".694" stop-color="#fdeadf"/><stop offset=".711" stop-color="#faccb3"/><stop offset=".720" stop-color="#f9c2a6"/><stop offset=".728" stop-color="#f9bea0"/><stop offset=".737" stop-color="#f9c1a4"/><stop offset=".746" stop-color="#facab1"/><stop offset=".767" stop-color="#fdede3"/><stop offset=".772" stop-color="#f1f4f9"/><stop offset=".780" stop-color="#e5ecf5"/><stop offset=".789" stop-color="#e1eaf4"/><stop offset=".797" stop-color="#e6edf5"/><stop offset=".806" stop-color="#f1f4f9"/><stop offset=".810" stop-color="#fdede3"/><stop offset=".828" stop-color="#fbd6c3"/><stop offset=".836" stop-color="#facfb8"/><stop offset=".849" stop-color="#facbb2"/><stop offset=".918" stop-color="#facdb4"/><stop offset=".974" stop-color="#fcd8c6"/><stop offset="1" stop-color="#fcd8c6"/></linearGradient><linearGradient id="w29" gradientUnits="userSpaceOnUse" x1="18" x2="714" y1="0" y2="0"><stop offset=".000" stop-color="#fbd8c4"/><stop offset=".009" stop-color="#fbd8c4"/><stop offset=".017" stop-color="#fcddcc"/><stop offset=".034" stop-color="#fcdfd0"/><stop offset=".047" stop-color="#fcddcd"/><stop offset=".082" stop-color="#fbd2bc"/><stop offset=".095" stop-color="#fbd0ba"/><stop offset=".125" stop-color="#fbd4c0"/><stop offset=".138" stop-color="#fbd4bf"/><stop offset=".185" stop-color="#f9c6aa"/><stop offset=".203" stop-color="#f9c5a9"/><stop offset=".216" stop-color="#f9c7ad"/><stop offset=".241" stop-color="#fbd2bd"/><stop offset=".263" stop-color="#fbd8c5"/><stop offset=".297" stop-color="#fbd7c3"/><stop offset=".328" stop-color="#fcd9c7"/><stop offset=".366" stop-color="#fcd9c6"/><stop offset=".414" stop-color="#fce3d6"/><stop offset=".431" stop-color="#fcdece"/><stop offset=".457" stop-color="#facab1"/><stop offset=".474" stop-color="#f9c2a5"/><stop offset=".491" stop-color="#f9c0a3"/><stop offset=".517" stop-color="#fac8ae"/><stop offset=".530" stop-color="#facab1"/><stop offset=".539" stop-color="#fac8ae"/><stop offset=".547" stop-color="#f9c3a7"/><stop offset=".569" stop-color="#f7aa88"/><stop offset=".578" stop-color="#f7a582"/><stop offset=".586" stop-color="#f7a886"/><stop offset=".595" stop-color="#f8b494"/><stop offset=".625" stop-color="#fdece3"/><stop offset=".629" stop-color="#f0f3f9"/><stop offset=".651" stop-color="#c6d6eb"/><stop offset=".659" stop-color="#c0d2e9"/><stop offset=".668" stop-color="#c7d7eb"/><stop offset=".685" stop-color="#ecf0f7"/><stop offset=".690" stop-color="#fdefe7"/><stop offset=".711" stop-color="#fac8ae"/><stop offset=".720" stop-color="#f9bd9f"/><stop offset=".728" stop-color="#f8b899"/><stop offset=".737" stop-color="#f8bb9d"/><stop offset=".746" stop-color="#f9c6ab"/><stop offset=".767" stop-color="#fdece2"/><stop offset=".772" stop-color="#f1f4f9"/><stop offset=".780" stop-color="#e5ecf5"/><stop offset=".789" stop-color="#e0e9f3"/><stop offset=".793" stop-color="#e1eaf4"/><stop offset=".806" stop-color="#f0f3f9"/><stop offset=".810" stop-color="#fdeee5"/><stop offset=".828" stop-color="#fbd7c3"/><stop offset=".836" stop-color="#facfb9"/><stop offset=".845" stop-color="#faccb4"/><stop offset=".875" stop-color="#facfb8"/><stop offset=".914" stop-color="#faceb7"/><stop offset=".978" stop-color="#fcdac9"/><stop offset="1" stop-color="#fcdac9"/></linearGradient><linearGradient id="w30" gradientUnits="userSpaceOnUse" x1="18" x2="714" y1="0" y2="0"><stop offset=".000" stop-color="#fbd7c4"/><stop offset=".009" stop-color="#fbd7c4"/><stop offset=".022" stop-color="#fcddcd"/><stop offset=".034" stop-color="#fcdecf"/><stop offset=".052" stop-color="#fcdbca"/><stop offset=".078" stop-color="#fbd2bc"/><stop offset=".091" stop-color="#fad0b9"/><stop offset=".129" stop-color="#fbd5c1"/><stop offset=".142" stop-color="#fbd3be"/><stop offset=".181" stop-color="#f9c7ac"/><stop offset=".198" stop-color="#f9c7ac"/><stop offset=".263" stop-color="#fbd6c2"/><stop offset=".302" stop-color="#fcd8c5"/><stop offset=".336" stop-color="#fcdccc"/><stop offset=".375" stop-color="#fcdccb"/><stop offset=".414" stop-color="#fce0d1"/><stop offset=".427" stop-color="#fcddcc"/><stop offset=".457" stop-color="#facab1"/><stop offset=".478" stop-color="#f9c3a6"/><stop offset=".491" stop-color="#f9c3a6"/><stop offset=".522" stop-color="#facbb2"/><stop offset=".534" stop-color="#facbb3"/><stop offset=".547" stop-color="#f9c5aa"/><stop offset=".569" stop-color="#f8ae8d"/><stop offset=".578" stop-color="#f7a987"/><stop offset=".582" stop-color="#f7aa87"/><stop offset=".595" stop-color="#f8b696"/><stop offset=".629" stop-color="#fdf0e8"/><stop offset=".634" stop-color="#ecf1f7"/><stop offset=".651" stop-color="#d0deee"/><stop offset=".659" stop-color="#cbdaec"/><stop offset=".668" stop-color="#d1deee"/><stop offset=".685" stop-color="#f1f4f9"/><stop offset=".690" stop-color="#fdebe1"/><stop offset=".707" stop-color="#faccb4"/><stop offset=".720" stop-color="#f8ba9b"/><stop offset=".728" stop-color="#f8b495"/><stop offset=".737" stop-color="#f8b899"/><stop offset=".750" stop-color="#facab1"/><stop offset=".767" stop-color="#fdeae0"/><stop offset=".772" stop-color="#f3f5fa"/><stop offset=".780" stop-color="#e6edf5"/><stop offset=".789" stop-color="#e1e9f4"/><stop offset=".797" stop-color="#e5ecf5"/><stop offset=".806" stop-color="#f0f4f9"/><stop offset=".810" stop-color="#fdeee5"/><stop offset=".828" stop-color="#fbd7c4"/><stop offset=".836" stop-color="#fbd0ba"/><stop offset=".845" stop-color="#faceb6"/><stop offset=".875" stop-color="#fbd1bb"/><stop offset=".914" stop-color="#fbd1ba"/><stop offset=".974" stop-color="#fcdccb"/><stop offset="1" stop-color="#fcdccb"/></linearGradient><linearGradient id="w31" gradientUnits="userSpaceOnUse" x1="18" x2="714" y1="0" y2="0"><stop offset=".000" stop-color="#fbd6c3"/><stop offset=".009" stop-color="#fbd6c3"/><stop offset=".017" stop-color="#fcdbc9"/><stop offset=".030" stop-color="#fcddcd"/><stop offset=".043" stop-color="#fcdccb"/><stop offset=".069" stop-color="#fbd3be"/><stop offset=".091" stop-color="#facfb8"/><stop offset=".134" stop-color="#fbd4c0"/><stop offset=".172" stop-color="#fac8ae"/><stop offset=".194" stop-color="#f9c8ad"/><stop offset=".328" stop-color="#fcdece"/><stop offset=".405" stop-color="#fcdecf"/><stop offset=".418" stop-color="#fcddcd"/><stop offset=".457" stop-color="#facdb5"/><stop offset=".478" stop-color="#fac8ae"/><stop offset=".491" stop-color="#fac8ae"/><stop offset=".526" stop-color="#facfb9"/><stop offset=".534" stop-color="#facfb8"/><stop offset=".552" stop-color="#f9c6ab"/><stop offset=".565" stop-color="#f8b899"/><stop offset=".573" stop-color="#f8b191"/><stop offset=".582" stop-color="#f8af8e"/><stop offset=".591" stop-color="#f8b495"/><stop offset=".603" stop-color="#f9c6ab"/><stop offset=".629" stop-color="#fdede3"/><stop offset=".634" stop-color="#f1f4f9"/><stop offset=".647" stop-color="#dfe8f3"/><stop offset=".659" stop-color="#d7e2f0"/><stop offset=".668" stop-color="#dce6f2"/><stop offset=".681" stop-color="#eef2f8"/><stop offset=".685" stop-color="#fdeee5"/><stop offset=".707" stop-color="#facab1"/><stop offset=".720" stop-color="#f8b99a"/><stop offset=".728" stop-color="#f8b494"/><stop offset=".737" stop-color="#f8b798"/><stop offset=".750" stop-color="#facab0"/><stop offset=".772" stop-color="#fdefe7"/><stop offset=".776" stop-color="#eef2f8"/><stop offset=".784" stop-color="#e5ecf5"/><stop offset=".789" stop-color="#e4ebf5"/><stop offset=".797" stop-color="#e8eef6"/><stop offset=".806" stop-color="#f2f5f9"/><stop offset=".810" stop-color="#fdede3"/><stop offset=".828" stop-color="#fcd8c5"/><stop offset=".836" stop-color="#fbd2bc"/><stop offset=".849" stop-color="#facfb8"/><stop offset=".875" stop-color="#fbd3be"/><stop offset=".918" stop-color="#fbd3be"/><stop offset=".974" stop-color="#fcddcd"/><stop offset="1" stop-color="#fcdecd"/></linearGradient><linearGradient id="w32" gradientUnits="userSpaceOnUse" x1="18" x2="714" y1="0" y2="0"><stop offset=".000" stop-color="#fbd5c1"/><stop offset=".009" stop-color="#fbd5c1"/><stop offset=".022" stop-color="#fcdac9"/><stop offset=".034" stop-color="#fcdbca"/><stop offset=".086" stop-color="#facfb8"/><stop offset=".134" stop-color="#fbd4bf"/><stop offset=".168" stop-color="#fac9af"/><stop offset=".185" stop-color="#f9c7ad"/><stop offset=".259" stop-color="#fbd2bc"/><stop offset=".315" stop-color="#fcdece"/><stop offset=".366" stop-color="#fcdfd0"/><stop offset=".405" stop-color="#fcddcd"/><stop offset=".474" stop-color="#fbd0ba"/><stop offset=".500" stop-color="#fbd1bb"/><stop offset=".522" stop-color="#fbd5c1"/><stop offset=".534" stop-color="#fbd4bf"/><stop offset=".552" stop-color="#facbb2"/><stop offset=".573" stop-color="#f8b99a"/><stop offset=".582" stop-color="#f8b697"/><stop offset=".591" stop-color="#f8ba9c"/><stop offset=".603" stop-color="#fac8ae"/><stop offset=".634" stop-color="#fdefe6"/><stop offset=".638" stop-color="#f0f3f9"/><stop offset=".655" stop-color="#e1eaf4"/><stop offset=".664" stop-color="#e2eaf4"/><stop offset=".677" stop-color="#eef2f8"/><stop offset=".681" stop-color="#fdefe7"/><stop offset=".707" stop-color="#fac9af"/><stop offset=".720" stop-color="#f8ba9c"/><stop offset=".728" stop-color="#f8b797"/><stop offset=".737" stop-color="#f8ba9c"/><stop offset=".746" stop-color="#f9c5a9"/><stop offset=".772" stop-color="#fdede3"/><stop offset=".776" stop-color="#f2f5f9"/><stop offset=".789" stop-color="#e8eef6"/><stop offset=".802" stop-color="#f0f3f9"/><stop offset=".806" stop-color="#fdf0e7"/><stop offset=".828" stop-color="#fcd9c6"/><stop offset=".836" stop-color="#fbd3be"/><stop offset=".845" stop-color="#fbd1bc"/><stop offset=".871" stop-color="#fbd5c1"/><stop offset=".914" stop-color="#fbd5c1"/><stop offset=".966" stop-color="#fcdece"/><stop offset="1" stop-color="#fcdfcf"/></linearGradient><linearGradient id="w33" gradientUnits="userSpaceOnUse" x1="18" x2="714" y1="0" y2="0"><stop offset=".000" stop-color="#fbd5c0"/><stop offset=".034" stop-color="#fcd9c7"/><stop offset=".086" stop-color="#facfb8"/><stop offset=".129" stop-color="#fbd3bf"/><stop offset=".168" stop-color="#fac9af"/><stop offset=".185" stop-color="#fac8ae"/><stop offset=".216" stop-color="#facdb6"/><stop offset=".254" stop-color="#fbd1ba"/><stop offset=".293" stop-color="#fcdccb"/><stop offset=".323" stop-color="#fce0d1"/><stop offset=".371" stop-color="#fce0d1"/><stop offset=".422" stop-color="#fcdac8"/><stop offset=".478" stop-color="#fcdac7"/><stop offset=".522" stop-color="#fcdccb"/><stop offset=".539" stop-color="#fcd8c6"/><stop offset=".573" stop-color="#f9c1a4"/><stop offset=".582" stop-color="#f9bea1"/><stop offset=".591" stop-color="#f9c1a4"/><stop offset=".603" stop-color="#facbb2"/><stop offset=".638" stop-color="#fdefe7"/><stop offset=".642" stop-color="#f1f4f9"/><stop offset=".659" stop-color="#e9eff6"/><stop offset=".672" stop-color="#f1f4f9"/><stop offset=".677" stop-color="#fdefe6"/><stop offset=".703" stop-color="#faceb6"/><stop offset=".711" stop-color="#f9c5a9"/><stop offset=".724" stop-color="#f8bb9d"/><stop offset=".737" stop-color="#f9bfa1"/><stop offset=".750" stop-color="#faccb4"/><stop offset=".759" stop-color="#fcd9c7"/><stop offset=".776" stop-color="#fdeee5"/><stop offset=".780" stop-color="#f2f5f9"/><stop offset=".789" stop-color="#eef2f8"/><stop offset=".797" stop-color="#f1f4f9"/><stop offset=".802" stop-color="#faf2ee"/><stop offset=".806" stop-color="#fdede3"/><stop offset=".819" stop-color="#fce1d2"/><stop offset=".832" stop-color="#fbd7c4"/><stop offset=".845" stop-color="#fbd4bf"/><stop offset=".875" stop-color="#fbd7c4"/><stop offset=".914" stop-color="#fbd7c4"/><stop offset=".966" stop-color="#fcdfd0"/><stop offset="1" stop-color="#fcdfd0"/></linearGradient><linearGradient id="w34" gradientUnits="userSpaceOnUse" x1="18" x2="714" y1="0" y2="0"><stop offset=".000" stop-color="#fbd4c0"/><stop offset=".034" stop-color="#fbd8c5"/><stop offset=".082" stop-color="#fbd0ba"/><stop offset=".129" stop-color="#fbd4bf"/><stop offset=".164" stop-color="#facbb2"/><stop offset=".185" stop-color="#facab0"/><stop offset=".216" stop-color="#facfb8"/><stop offset=".259" stop-color="#fbd2bc"/><stop offset=".293" stop-color="#fcddcd"/><stop offset=".310" stop-color="#fce0d1"/><stop offset=".366" stop-color="#fce1d2"/><stop offset=".418" stop-color="#fcdac8"/><stop offset=".470" stop-color="#fce2d4"/><stop offset=".509" stop-color="#fce3d5"/><stop offset=".534" stop-color="#fcdfd0"/><stop offset=".547" stop-color="#fcd9c7"/><stop offset=".569" stop-color="#facab1"/><stop offset=".586" stop-color="#f9c6ab"/><stop offset=".603" stop-color="#faceb7"/><stop offset=".629" stop-color="#fce5d8"/><stop offset=".647" stop-color="#fdf0e8"/><stop offset=".651" stop-color="#f2f5f9"/><stop offset=".664" stop-color="#f3f5fa"/><stop offset=".668" stop-color="#fdefe7"/><stop offset=".690" stop-color="#fcdccc"/><stop offset=".707" stop-color="#facab0"/><stop offset=".724" stop-color="#f9c1a4"/><stop offset=".733" stop-color="#f9c2a6"/><stop offset=".741" stop-color="#f9c7ad"/><stop offset=".750" stop-color="#facfb8"/><stop offset=".772" stop-color="#fde7db"/><stop offset=".780" stop-color="#fdede4"/><stop offset=".789" stop-color="#fdf0e8"/><stop offset=".802" stop-color="#fdece2"/><stop offset=".823" stop-color="#fcdecd"/><stop offset=".841" stop-color="#fbd7c3"/><stop offset=".875" stop-color="#fcd9c7"/><stop offset=".914" stop-color="#fcdac7"/><stop offset=".970" stop-color="#fce1d2"/><stop offset="1" stop-color="#fce0d1"/></linearGradient><linearGradient id="w35" gradientUnits="userSpaceOnUse" x1="18" x2="714" y1="0" y2="0"><stop offset=".000" stop-color="#fbd5c1"/><stop offset=".026" stop-color="#fbd8c5"/><stop offset=".082" stop-color="#fbd3bd"/><stop offset=".125" stop-color="#fbd5c1"/><stop offset=".177" stop-color="#faccb3"/><stop offset=".216" stop-color="#fbd2bc"/><stop offset=".246" stop-color="#fbd2bc"/><stop offset=".259" stop-color="#fbd4bf"/><stop offset=".293" stop-color="#fcdfcf"/><stop offset=".310" stop-color="#fce1d2"/><stop offset=".371" stop-color="#fce1d2"/><stop offset=".414" stop-color="#fcdac8"/><stop offset=".427" stop-color="#fcdccb"/><stop offset=".461" stop-color="#fde8dc"/><stop offset=".496" stop-color="#fdeae0"/><stop offset=".517" stop-color="#fde8dd"/><stop offset=".539" stop-color="#fce2d4"/><stop offset=".573" stop-color="#faceb7"/><stop offset=".586" stop-color="#faccb4"/><stop offset=".603" stop-color="#fbd2bc"/><stop offset=".638" stop-color="#fde7dc"/><stop offset=".655" stop-color="#fdece3"/><stop offset=".668" stop-color="#fdeadf"/><stop offset=".677" stop-color="#fce4d7"/><stop offset=".707" stop-color="#facbb2"/><stop offset=".724" stop-color="#f9c6ab"/><stop offset=".737" stop-color="#facab0"/><stop offset=".772" stop-color="#fce4d7"/><stop offset=".789" stop-color="#fdebe0"/><stop offset=".797" stop-color="#fde9df"/><stop offset=".828" stop-color="#fcdccb"/><stop offset=".841" stop-color="#fcd9c7"/><stop offset=".905" stop-color="#fcdbc9"/><stop offset=".966" stop-color="#fce1d3"/><stop offset="1" stop-color="#fce1d2"/></linearGradient><linearGradient id="w36" gradientUnits="userSpaceOnUse" x1="18" x2="714" y1="0" y2="0"><stop offset=".000" stop-color="#fbd8c5"/><stop offset=".121" stop-color="#fbd8c5"/><stop offset=".168" stop-color="#fbd0ba"/><stop offset=".181" stop-color="#fbd1ba"/><stop offset=".216" stop-color="#fbd6c2"/><stop offset=".250" stop-color="#fbd6c2"/><stop offset=".302" stop-color="#fce1d2"/><stop offset=".371" stop-color="#fce1d2"/><stop offset=".414" stop-color="#fcdbc9"/><stop offset=".427" stop-color="#fcdecd"/><stop offset=".457" stop-color="#fdece2"/><stop offset=".470" stop-color="#fdefe7"/><stop offset=".474" stop-color="#f4f6fa"/><stop offset=".496" stop-color="#f4f6fa"/><stop offset=".500" stop-color="#fbf1ec"/><stop offset=".504" stop-color="#fdefe7"/><stop offset=".526" stop-color="#fdeae0"/><stop offset=".578" stop-color="#fbd3bd"/><stop offset=".595" stop-color="#fbd3bd"/><stop offset=".634" stop-color="#fce3d5"/><stop offset=".659" stop-color="#fde7db"/><stop offset=".672" stop-color="#fce3d5"/><stop offset=".698" stop-color="#fbd1bb"/><stop offset=".716" stop-color="#facbb2"/><stop offset=".733" stop-color="#facdb5"/><stop offset=".759" stop-color="#fcdbca"/><stop offset=".784" stop-color="#fce6d9"/><stop offset=".802" stop-color="#fce4d7"/><stop offset=".841" stop-color="#fcdcca"/><stop offset=".914" stop-color="#fcddcc"/><stop offset=".970" stop-color="#fce3d5"/><stop offset="1" stop-color="#fce1d3"/></linearGradient><linearGradient id="w37" gradientUnits="userSpaceOnUse" x1="18" x2="714" y1="0" y2="0"><stop offset=".000" stop-color="#fcdccb"/><stop offset=".116" stop-color="#fcdccc"/><stop offset=".164" stop-color="#fbd7c4"/><stop offset=".181" stop-color="#fbd7c4"/><stop offset=".207" stop-color="#fcdbca"/><stop offset=".250" stop-color="#fcdcca"/><stop offset=".293" stop-color="#fce0d1"/><stop offset=".371" stop-color="#fce1d2"/><stop offset=".409" stop-color="#fcdbc9"/><stop offset=".427" stop-color="#fcdfcf"/><stop offset=".457" stop-color="#fdefe6"/><stop offset=".461" stop-color="#f3f6fa"/><stop offset=".478" stop-color="#eef2f8"/><stop offset=".513" stop-color="#f3f6fa"/><stop offset=".517" stop-color="#fdefe7"/><stop offset=".573" stop-color="#fcd9c6"/><stop offset=".591" stop-color="#fbd7c3"/><stop offset=".642" stop-color="#fce3d4"/><stop offset=".655" stop-color="#fce3d6"/><stop offset=".672" stop-color="#fcdfd0"/><stop offset=".703" stop-color="#fbd1ba"/><stop offset=".711" stop-color="#facfb8"/><stop offset=".724" stop-color="#fad0b9"/><stop offset=".772" stop-color="#fce0d1"/><stop offset=".784" stop-color="#fce2d4"/><stop offset=".832" stop-color="#fcdecd"/><stop offset=".901" stop-color="#fcdecd"/><stop offset=".974" stop-color="#fce3d6"/><stop offset="1" stop-color="#fce2d4"/></linearGradient><linearGradient id="w38" gradientUnits="userSpaceOnUse" x1="18" x2="714" y1="0" y2="0"><stop offset=".000" stop-color="#fce1d2"/><stop offset=".125" stop-color="#fce2d4"/><stop offset=".181" stop-color="#fce0d0"/><stop offset=".228" stop-color="#fce3d6"/><stop offset=".306" stop-color="#fcdfcf"/><stop offset=".366" stop-color="#fce1d2"/><stop offset=".409" stop-color="#fcdcca"/><stop offset=".427" stop-color="#fce0d0"/><stop offset=".448" stop-color="#fdebe1"/><stop offset=".457" stop-color="#fcf0e9"/><stop offset=".461" stop-color="#f2f5f9"/><stop offset=".487" stop-color="#ecf1f7"/><stop offset=".513" stop-color="#f3f5fa"/><stop offset=".517" stop-color="#fdf0e7"/><stop offset=".565" stop-color="#fcdece"/><stop offset=".595" stop-color="#fcdbc9"/><stop offset=".655" stop-color="#fce1d2"/><stop offset=".668" stop-color="#fcdfcf"/><stop offset=".707" stop-color="#fbd3bd"/><stop offset=".720" stop-color="#fbd3be"/><stop offset=".754" stop-color="#fcddcc"/><stop offset=".776" stop-color="#fcdfd0"/><stop offset=".909" stop-color="#fcdfcf"/><stop offset=".961" stop-color="#fce3d6"/><stop offset="1" stop-color="#fce3d5"/></linearGradient><linearGradient id="w39" gradientUnits="userSpaceOnUse" x1="18" x2="714" y1="0" y2="0"><stop offset=".000" stop-color="#fde7db"/><stop offset=".034" stop-color="#fde7da"/><stop offset=".103" stop-color="#fde9df"/><stop offset=".177" stop-color="#fde9dd"/><stop offset=".241" stop-color="#fdece2"/><stop offset=".263" stop-color="#fde7dc"/><stop offset=".297" stop-color="#fcdecd"/><stop offset=".375" stop-color="#fce0d1"/><stop offset=".397" stop-color="#fcddcc"/><stop offset=".414" stop-color="#fcddcc"/><stop offset=".427" stop-color="#fce0d1"/><stop offset=".457" stop-color="#fdefe7"/><stop offset=".461" stop-color="#f3f5fa"/><stop offset=".478" stop-color="#eef2f8"/><stop offset=".491" stop-color="#eef2f8"/><stop offset=".509" stop-color="#f3f5fa"/><stop offset=".513" stop-color="#fdefe7"/><stop offset=".547" stop-color="#fce3d4"/><stop offset=".595" stop-color="#fcdecd"/><stop offset=".655" stop-color="#fcdfd0"/><stop offset=".672" stop-color="#fcddcd"/><stop offset=".703" stop-color="#fbd6c2"/><stop offset=".763" stop-color="#fcdfcf"/><stop offset=".922" stop-color="#fce0d1"/><stop offset=".970" stop-color="#fce4d7"/><stop offset="1" stop-color="#fce3d6"/></linearGradient><linearGradient id="w40" gradientUnits="userSpaceOnUse" x1="18" x2="714" y1="0" y2="0"><stop offset=".000" stop-color="#fdeee5"/><stop offset=".034" stop-color="#fdede4"/><stop offset=".073" stop-color="#fdf0e8"/><stop offset=".078" stop-color="#f4f6fa"/><stop offset=".224" stop-color="#edf2f8"/><stop offset=".237" stop-color="#edf1f8"/><stop offset=".254" stop-color="#f2f5f9"/><stop offset=".263" stop-color="#fdeee5"/><stop offset=".276" stop-color="#fce6d9"/><stop offset=".297" stop-color="#fcdbca"/><stop offset=".315" stop-color="#fcdac8"/><stop offset=".358" stop-color="#fce0d1"/><stop offset=".397" stop-color="#fcddcd"/><stop offset=".418" stop-color="#fcdece"/><stop offset=".466" stop-color="#fdefe7"/><stop offset=".470" stop-color="#f4f6fa"/><stop offset=".496" stop-color="#f3f5fa"/><stop offset=".504" stop-color="#fdefe6"/><stop offset=".530" stop-color="#fce5d7"/><stop offset=".547" stop-color="#fce0d1"/><stop offset=".582" stop-color="#fce1d2"/><stop offset=".625" stop-color="#fcddcc"/><stop offset=".664" stop-color="#fcdfcf"/><stop offset=".707" stop-color="#fcd9c7"/><stop offset=".750" stop-color="#fcdfd0"/><stop offset=".793" stop-color="#fcdece"/><stop offset=".845" stop-color="#fce1d3"/><stop offset=".927" stop-color="#fce1d2"/><stop offset=".970" stop-color="#fce4d7"/><stop offset="1" stop-color="#fce4d7"/></linearGradient><linearGradient id="w41" gradientUnits="userSpaceOnUse" x1="18" x2="714" y1="0" y2="0"><stop offset=".000" stop-color="#eff3f8"/><stop offset=".039" stop-color="#eff3f8"/><stop offset=".095" stop-color="#e9eff6"/><stop offset=".237" stop-color="#e1e9f4"/><stop offset=".250" stop-color="#e5ecf5"/><stop offset=".267" stop-color="#f4f6fa"/><stop offset=".272" stop-color="#fdede3"/><stop offset=".289" stop-color="#fcdecd"/><stop offset=".306" stop-color="#fbd6c3"/><stop offset=".315" stop-color="#fbd7c3"/><stop offset=".332" stop-color="#fcdccb"/><stop offset=".358" stop-color="#fcdfd0"/><stop offset=".418" stop-color="#fcdfcf"/><stop offset=".478" stop-color="#fdede4"/><stop offset=".504" stop-color="#fdeae0"/><stop offset=".526" stop-color="#fce2d3"/><stop offset=".543" stop-color="#fcddcd"/><stop offset=".582" stop-color="#fce2d4"/><stop offset=".621" stop-color="#fcddcc"/><stop offset=".664" stop-color="#fcdfd0"/><stop offset=".711" stop-color="#fcddcc"/><stop offset=".750" stop-color="#fce1d2"/><stop offset=".802" stop-color="#fcdfcf"/><stop offset=".845" stop-color="#fce2d4"/><stop offset=".918" stop-color="#fce1d2"/><stop offset="1" stop-color="#fce5d8"/></linearGradient><linearGradient id="w42" gradientUnits="userSpaceOnUse" x1="18" x2="714" y1="0" y2="0"><stop offset=".000" stop-color="#e8eef6"/><stop offset=".034" stop-color="#e8eef6"/><stop offset=".177" stop-color="#d7e3f0"/><stop offset=".207" stop-color="#d7e2f0"/><stop offset=".233" stop-color="#d2dfef"/><stop offset=".246" stop-color="#d6e2f0"/><stop offset=".259" stop-color="#e2eaf4"/><stop offset=".272" stop-color="#f4f6f9"/><stop offset=".276" stop-color="#fdebe1"/><stop offset=".280" stop-color="#fce6d9"/><stop offset=".293" stop-color="#fcd8c5"/><stop offset=".306" stop-color="#fbd2bd"/><stop offset=".315" stop-color="#fbd3be"/><stop offset=".345" stop-color="#fcddcd"/><stop offset=".414" stop-color="#fcdfcf"/><stop offset=".478" stop-color="#fde8dd"/><stop offset=".500" stop-color="#fde6da"/><stop offset=".543" stop-color="#fcd9c6"/><stop offset=".582" stop-color="#fce2d4"/><stop offset=".629" stop-color="#fcdccb"/><stop offset=".664" stop-color="#fce0d1"/><stop offset=".711" stop-color="#fcdfcf"/><stop offset=".754" stop-color="#fce1d3"/><stop offset=".797" stop-color="#fce0d0"/><stop offset=".853" stop-color="#fce3d5"/><stop offset=".935" stop-color="#fce2d3"/><stop offset="1" stop-color="#fce5d9"/></linearGradient><linearGradient id="w43" gradientUnits="userSpaceOnUse" x1="18" x2="714" y1="0" y2="0"><stop offset=".000" stop-color="#e3ebf4"/><stop offset=".060" stop-color="#dfe8f3"/><stop offset=".125" stop-color="#d4e0ef"/><stop offset=".164" stop-color="#cad9ec"/><stop offset=".203" stop-color="#cad9ec"/><stop offset=".237" stop-color="#c4d5ea"/><stop offset=".250" stop-color="#ccdbed"/><stop offset=".272" stop-color="#f0f4f9"/><stop offset=".276" stop-color="#fdede3"/><stop offset=".284" stop-color="#fce0d1"/><stop offset=".297" stop-color="#fbd2bc"/><stop offset=".306" stop-color="#faceb7"/><stop offset=".315" stop-color="#facfb8"/><stop offset=".336" stop-color="#fcd9c6"/><stop offset=".353" stop-color="#fcddcc"/><stop offset=".478" stop-color="#fce3d6"/><stop offset=".500" stop-color="#fce1d3"/><stop offset=".526" stop-color="#fbd7c3"/><stop offset=".543" stop-color="#fbd4bf"/><stop offset=".582" stop-color="#fce2d4"/><stop offset=".629" stop-color="#fcdccb"/><stop offset=".668" stop-color="#fce2d3"/><stop offset=".935" stop-color="#fce2d3"/><stop offset="1" stop-color="#fce6d9"/></linearGradient><linearGradient id="w44" gradientUnits="userSpaceOnUse" x1="18" x2="714" y1="0" y2="0"><stop offset=".000" stop-color="#e1e9f4"/><stop offset=".047" stop-color="#dde7f2"/><stop offset=".125" stop-color="#cbdaec"/><stop offset=".159" stop-color="#c0d2e9"/><stop offset=".203" stop-color="#c0d2e8"/><stop offset=".237" stop-color="#b9cde6"/><stop offset=".250" stop-color="#c2d4e9"/><stop offset=".272" stop-color="#eef2f8"/><stop offset=".276" stop-color="#fdeee5"/><stop offset=".293" stop-color="#fbd3be"/><stop offset=".302" stop-color="#faccb3"/><stop offset=".306" stop-color="#facab1"/><stop offset=".315" stop-color="#facbb2"/><stop offset=".336" stop-color="#fbd6c2"/><stop offset=".349" stop-color="#fcdac8"/><stop offset=".414" stop-color="#fce0d1"/><stop offset=".491" stop-color="#fcdfcf"/><stop offset=".504" stop-color="#fcdbca"/><stop offset=".526" stop-color="#fbd1bb"/><stop offset=".539" stop-color="#facfb7"/><stop offset=".552" stop-color="#fbd2bc"/><stop offset=".569" stop-color="#fcdccb"/><stop offset=".582" stop-color="#fce0d2"/><stop offset=".595" stop-color="#fce1d2"/><stop offset=".629" stop-color="#fcdccb"/><stop offset=".672" stop-color="#fce3d5"/><stop offset=".940" stop-color="#fce2d3"/><stop offset="1" stop-color="#fde6da"/></linearGradient><linearGradient id="w45" gradientUnits="userSpaceOnUse" x1="18" x2="714" y1="0" y2="0"><stop offset=".000" stop-color="#e2eaf4"/><stop offset=".034" stop-color="#dfe8f3"/><stop offset=".065" stop-color="#d8e3f1"/><stop offset=".164" stop-color="#b9cde6"/><stop offset=".207" stop-color="#bacee6"/><stop offset=".233" stop-color="#b0c7e3"/><stop offset=".241" stop-color="#b2c8e4"/><stop offset=".250" stop-color="#bccfe7"/><stop offset=".254" stop-color="#c3d4e9"/><stop offset=".272" stop-color="#ecf1f7"/><stop offset=".276" stop-color="#fdefe6"/><stop offset=".293" stop-color="#fbd1bb"/><stop offset=".306" stop-color="#f9c7ac"/><stop offset=".319" stop-color="#fac9af"/><stop offset=".341" stop-color="#fbd4bf"/><stop offset=".353" stop-color="#fbd8c5"/><stop offset=".418" stop-color="#fce0d1"/><stop offset=".496" stop-color="#fcdbc9"/><stop offset=".530" stop-color="#faccb3"/><stop offset=".539" stop-color="#facab1"/><stop offset=".547" stop-color="#faccb4"/><stop offset=".578" stop-color="#fcddcc"/><stop offset=".591" stop-color="#fcdfd0"/><stop offset=".629" stop-color="#fcdccb"/><stop offset=".672" stop-color="#fce3d5"/><stop offset=".871" stop-color="#fce1d2"/><stop offset=".948" stop-color="#fce2d3"/><stop offset="1" stop-color="#fce6d9"/></linearGradient><linearGradient id="w46" gradientUnits="userSpaceOnUse" x1="18" x2="714" y1="0" y2="0"><stop offset=".000" stop-color="#e6edf5"/><stop offset=".060" stop-color="#dce6f2"/><stop offset=".159" stop-color="#b8cde6"/><stop offset=".177" stop-color="#b6cbe5"/><stop offset=".207" stop-color="#b9cde6"/><stop offset=".228" stop-color="#afc6e2"/><stop offset=".237" stop-color="#aec5e2"/><stop offset=".246" stop-color="#b3c9e4"/><stop offset=".254" stop-color="#c1d3e9"/><stop offset=".272" stop-color="#ecf0f7"/><stop offset=".276" stop-color="#fdefe6"/><stop offset=".293" stop-color="#facfb8"/><stop offset=".302" stop-color="#f9c6ab"/><stop offset=".310" stop-color="#f9c3a7"/><stop offset=".319" stop-color="#f9c5a9"/><stop offset=".349" stop-color="#fbd3be"/><stop offset=".414" stop-color="#fcdfd0"/><stop offset=".491" stop-color="#fcdac8"/><stop offset=".504" stop-color="#fbd6c2"/><stop offset=".526" stop-color="#facab1"/><stop offset=".543" stop-color="#f9c8ad"/><stop offset=".586" stop-color="#fcdccb"/><stop offset=".629" stop-color="#fcdccb"/><stop offset=".668" stop-color="#fce2d4"/><stop offset=".741" stop-color="#fce1d2"/><stop offset=".815" stop-color="#fce3d5"/><stop offset=".875" stop-color="#fce0d0"/><stop offset=".909" stop-color="#fce2d4"/><stop offset=".961" stop-color="#fce2d3"/><stop offset="1" stop-color="#fce5d9"/></linearGradient><linearGradient id="w47" gradientUnits="userSpaceOnUse" x1="18" x2="714" y1="0" y2="0"><stop offset=".000" stop-color="#ecf1f7"/><stop offset=".026" stop-color="#e9eef6"/><stop offset=".073" stop-color="#dde7f2"/><stop offset=".155" stop-color="#bbcfe7"/><stop offset=".177" stop-color="#b9cde6"/><stop offset=".203" stop-color="#bccfe7"/><stop offset=".216" stop-color="#b9cde6"/><stop offset=".233" stop-color="#afc6e3"/><stop offset=".241" stop-color="#b1c7e3"/><stop offset=".250" stop-color="#bacee6"/><stop offset=".259" stop-color="#cbdaec"/><stop offset=".272" stop-color="#ecf1f7"/><stop offset=".276" stop-color="#fdeee6"/><stop offset=".293" stop-color="#faceb7"/><stop offset=".302" stop-color="#f9c4a8"/><stop offset=".310" stop-color="#f9bfa2"/><stop offset=".319" stop-color="#f9c0a3"/><stop offset=".341" stop-color="#facbb3"/><stop offset=".371" stop-color="#fbd5c2"/><stop offset=".409" stop-color="#fcdecf"/><stop offset=".431" stop-color="#fcdecf"/><stop offset=".491" stop-color="#fcd9c7"/><stop offset=".530" stop-color="#f9c7ac"/><stop offset=".543" stop-color="#f9c5a9"/><stop offset=".552" stop-color="#f9c7ac"/><stop offset=".586" stop-color="#fcd8c6"/><stop offset=".664" stop-color="#fce1d3"/><stop offset=".728" stop-color="#fce0d0"/><stop offset=".815" stop-color="#fce3d5"/><stop offset=".871" stop-color="#fcddcd"/><stop offset=".909" stop-color="#fce2d4"/><stop offset=".970" stop-color="#fce2d3"/><stop offset="1" stop-color="#fce5d8"/></linearGradient><linearGradient id="w48" gradientUnits="userSpaceOnUse" x1="18" x2="714" y1="0" y2="0"><stop offset=".000" stop-color="#f4f6fa"/><stop offset=".013" stop-color="#f3f5fa"/><stop offset=".082" stop-color="#e0e8f3"/><stop offset=".151" stop-color="#c1d3e9"/><stop offset=".207" stop-color="#c0d2e8"/><stop offset=".237" stop-color="#b4cae4"/><stop offset=".241" stop-color="#b5cae5"/><stop offset=".254" stop-color="#c4d5ea"/><stop offset=".272" stop-color="#edf1f8"/><stop offset=".276" stop-color="#fdeee5"/><stop offset=".293" stop-color="#faceb6"/><stop offset=".306" stop-color="#f9bfa1"/><stop offset=".315" stop-color="#f8bb9d"/><stop offset=".328" stop-color="#f9bfa2"/><stop offset=".345" stop-color="#fac9af"/><stop offset=".379" stop-color="#fbd6c3"/><stop offset=".401" stop-color="#fcdccc"/><stop offset=".422" stop-color="#fcdecf"/><stop offset=".487" stop-color="#fcdbca"/><stop offset=".509" stop-color="#fbd3be"/><stop offset=".534" stop-color="#f9c4a8"/><stop offset=".547" stop-color="#f9c2a6"/><stop offset=".595" stop-color="#fbd7c4"/><stop offset=".659" stop-color="#fce0d2"/><stop offset=".724" stop-color="#fcdece"/><stop offset=".784" stop-color="#fce3d5"/><stop offset=".815" stop-color="#fce3d5"/><stop offset=".866" stop-color="#fcdbc9"/><stop offset=".918" stop-color="#fce3d5"/><stop offset=".978" stop-color="#fce2d3"/><stop offset="1" stop-color="#fce4d7"/></linearGradient><linearGradient id="w49" gradientUnits="userSpaceOnUse" x1="18" x2="714" y1="0" y2="0"><stop offset=".000" stop-color="#fdeadf"/><stop offset=".009" stop-color="#fdeadf"/><stop offset=".034" stop-color="#fdf0e8"/><stop offset=".039" stop-color="#f3f5fa"/><stop offset=".086" stop-color="#e5ecf5"/><stop offset=".142" stop-color="#cbdaec"/><stop offset=".164" stop-color="#c6d6eb"/><stop offset=".203" stop-color="#c7d7eb"/><stop offset=".233" stop-color="#bbcfe7"/><stop offset=".241" stop-color="#bbcfe7"/><stop offset=".250" stop-color="#c2d3e9"/><stop offset=".254" stop-color="#c8d8eb"/><stop offset=".272" stop-color="#eef2f8"/><stop offset=".276" stop-color="#fdeee4"/><stop offset=".293" stop-color="#faceb7"/><stop offset=".306" stop-color="#f9bea0"/><stop offset=".315" stop-color="#f8b99a"/><stop offset=".332" stop-color="#f9bc9e"/><stop offset=".384" stop-color="#fbd6c3"/><stop offset=".397" stop-color="#fcdac9"/><stop offset=".422" stop-color="#fcdece"/><stop offset=".491" stop-color="#fcdccb"/><stop offset=".509" stop-color="#fbd4c0"/><stop offset=".530" stop-color="#f9c6aa"/><stop offset=".547" stop-color="#f9bfa2"/><stop offset=".556" stop-color="#f9c2a5"/><stop offset=".595" stop-color="#fbd4c0"/><stop offset=".612" stop-color="#fcdac8"/><stop offset=".651" stop-color="#fce0d1"/><stop offset=".720" stop-color="#fcddcc"/><stop offset=".806" stop-color="#fce3d5"/><stop offset=".832" stop-color="#fcdfd0"/><stop offset=".853" stop-color="#fcd9c7"/><stop offset=".871" stop-color="#fbd8c5"/><stop offset=".909" stop-color="#fce2d4"/><stop offset=".978" stop-color="#fce1d2"/><stop offset="1" stop-color="#fce3d6"/></linearGradient><linearGradient id="w50" gradientUnits="userSpaceOnUse" x1="18" x2="714" y1="0" y2="0"><stop offset=".000" stop-color="#fce3d6"/><stop offset=".013" stop-color="#fce5d7"/><stop offset=".056" stop-color="#fdefe7"/><stop offset=".060" stop-color="#faf2ee"/><stop offset=".065" stop-color="#f3f5fa"/><stop offset=".147" stop-color="#d2dfef"/><stop offset=".207" stop-color="#cedced"/><stop offset=".237" stop-color="#c1d3e9"/><stop offset=".250" stop-color="#c6d7eb"/><stop offset=".272" stop-color="#eef2f8"/><stop offset=".276" stop-color="#fdeee5"/><stop offset=".297" stop-color="#fac9af"/><stop offset=".310" stop-color="#f8ba9c"/><stop offset=".323" stop-color="#f8b696"/><stop offset=".332" stop-color="#f8b798"/><stop offset=".345" stop-color="#f9bea1"/><stop offset=".384" stop-color="#fbd5c1"/><stop offset=".401" stop-color="#fcdac9"/><stop offset=".422" stop-color="#fcddcd"/><stop offset=".478" stop-color="#fce0d0"/><stop offset=".491" stop-color="#fcdecf"/><stop offset=".509" stop-color="#fbd6c3"/><stop offset=".534" stop-color="#f9c3a6"/><stop offset=".547" stop-color="#f9bd9f"/><stop offset=".560" stop-color="#f9c0a3"/><stop offset=".616" stop-color="#fcdbca"/><stop offset=".642" stop-color="#fce0d1"/><stop offset=".659" stop-color="#fce1d2"/><stop offset=".707" stop-color="#fcdccb"/><stop offset=".733" stop-color="#fcdccb"/><stop offset=".797" stop-color="#fce3d5"/><stop offset=".823" stop-color="#fce0d1"/><stop offset=".858" stop-color="#fbd5c1"/><stop offset=".866" stop-color="#fbd5c0"/><stop offset=".918" stop-color="#fce3d6"/><stop offset=".966" stop-color="#fce0d1"/><stop offset="1" stop-color="#fce3d5"/></linearGradient><linearGradient id="w51" gradientUnits="userSpaceOnUse" x1="18" x2="714" y1="0" y2="0"><stop offset=".000" stop-color="#fcdece"/><stop offset=".009" stop-color="#fcdece"/><stop offset=".082" stop-color="#fdf0e8"/><stop offset=".086" stop-color="#f3f5fa"/><stop offset=".134" stop-color="#dfe8f3"/><stop offset=".159" stop-color="#d9e4f1"/><stop offset=".198" stop-color="#d7e2f0"/><stop offset=".237" stop-color="#c7d7eb"/><stop offset=".250" stop-color="#cbdaec"/><stop offset=".272" stop-color="#eef2f8"/><stop offset=".276" stop-color="#fdeee6"/><stop offset=".293" stop-color="#fbd2bc"/><stop offset=".302" stop-color="#f9c6ab"/><stop offset=".310" stop-color="#f8bb9d"/><stop offset=".319" stop-color="#f8b595"/><stop offset=".332" stop-color="#f8b393"/><stop offset=".345" stop-color="#f8b99b"/><stop offset=".375" stop-color="#facfb9"/><stop offset=".397" stop-color="#fcd8c6"/><stop offset=".414" stop-color="#fcdccb"/><stop offset=".478" stop-color="#fce2d4"/><stop offset=".491" stop-color="#fce1d3"/><stop offset=".504" stop-color="#fcdccc"/><stop offset=".534" stop-color="#f9c3a6"/><stop offset=".547" stop-color="#f8bb9d"/><stop offset=".560" stop-color="#f9bd9f"/><stop offset=".612" stop-color="#fcdac8"/><stop offset=".642" stop-color="#fce1d3"/><stop offset=".664" stop-color="#fce1d3"/><stop offset=".707" stop-color="#fcdcca"/><stop offset=".728" stop-color="#fcdbc9"/><stop offset=".784" stop-color="#fce2d4"/><stop offset=".802" stop-color="#fce2d4"/><stop offset=".819" stop-color="#fcdfd0"/><stop offset=".858" stop-color="#fbd2bc"/><stop offset=".866" stop-color="#fbd1bb"/><stop offset=".879" stop-color="#fbd4c0"/><stop offset=".905" stop-color="#fce1d2"/><stop offset=".922" stop-color="#fce4d7"/><stop offset=".966" stop-color="#fce0d1"/><stop offset="1" stop-color="#fce2d4"/></linearGradient><linearGradient id="w52" gradientUnits="userSpaceOnUse" x1="18" x2="714" y1="0" y2="0"><stop offset=".000" stop-color="#fcdac8"/><stop offset=".009" stop-color="#fcdac8"/><stop offset=".099" stop-color="#fdf0e8"/><stop offset=".103" stop-color="#f3f5fa"/><stop offset=".134" stop-color="#e6edf5"/><stop offset=".207" stop-color="#dbe5f2"/><stop offset=".241" stop-color="#cbdaec"/><stop offset=".254" stop-color="#d3dfef"/><stop offset=".272" stop-color="#edf1f8"/><stop offset=".276" stop-color="#fdf0e8"/><stop offset=".297" stop-color="#facfb8"/><stop offset=".306" stop-color="#f9c4a8"/><stop offset=".319" stop-color="#f8b696"/><stop offset=".332" stop-color="#f8b190"/><stop offset=".345" stop-color="#f8b696"/><stop offset=".371" stop-color="#facbb3"/><stop offset=".388" stop-color="#fbd5c1"/><stop offset=".405" stop-color="#fcdac8"/><stop offset=".440" stop-color="#fcdecd"/><stop offset=".483" stop-color="#fce5d8"/><stop offset=".496" stop-color="#fce3d6"/><stop offset=".509" stop-color="#fcdccc"/><stop offset=".534" stop-color="#f9c3a6"/><stop offset=".547" stop-color="#f8ba9b"/><stop offset=".560" stop-color="#f8bb9d"/><stop offset=".621" stop-color="#fcdece"/><stop offset=".642" stop-color="#fce3d5"/><stop offset=".668" stop-color="#fce3d5"/><stop offset=".728" stop-color="#fcdac8"/><stop offset=".780" stop-color="#fce1d3"/><stop offset=".802" stop-color="#fce1d3"/><stop offset=".828" stop-color="#fcdac9"/><stop offset=".858" stop-color="#faceb7"/><stop offset=".875" stop-color="#fbd0ba"/><stop offset=".905" stop-color="#fce0d2"/><stop offset=".918" stop-color="#fce4d7"/><stop offset=".935" stop-color="#fce4d7"/><stop offset=".970" stop-color="#fce0d0"/><stop offset="1" stop-color="#fce2d3"/></linearGradient><linearGradient id="w53" gradientUnits="userSpaceOnUse" x1="18" x2="714" y1="0" y2="0"><stop offset=".000" stop-color="#fbd7c4"/><stop offset=".009" stop-color="#fbd7c4"/><stop offset=".022" stop-color="#fcdccb"/><stop offset=".091" stop-color="#fde8dc"/><stop offset=".112" stop-color="#fdefe6"/><stop offset=".116" stop-color="#faf2ee"/><stop offset=".121" stop-color="#f2f5f9"/><stop offset=".164" stop-color="#e6edf5"/><stop offset=".207" stop-color="#dfe8f3"/><stop offset=".237" stop-color="#cfddee"/><stop offset=".246" stop-color="#cfddee"/><stop offset=".254" stop-color="#d4e1ef"/><stop offset=".276" stop-color="#f2f4f9"/><stop offset=".280" stop-color="#fdece3"/><stop offset=".306" stop-color="#fac8ae"/><stop offset=".319" stop-color="#f8b899"/><stop offset=".328" stop-color="#f8b291"/><stop offset=".336" stop-color="#f8b08f"/><stop offset=".349" stop-color="#f8b697"/><stop offset=".366" stop-color="#f9c7ac"/><stop offset=".388" stop-color="#fbd4c0"/><stop offset=".401" stop-color="#fcd8c6"/><stop offset=".457" stop-color="#fce0d1"/><stop offset=".483" stop-color="#fde8dc"/><stop offset=".496" stop-color="#fde7db"/><stop offset=".504" stop-color="#fce3d5"/><stop offset=".539" stop-color="#f9bea1"/><stop offset=".547" stop-color="#f8b99a"/><stop offset=".565" stop-color="#f9bda0"/><stop offset=".582" stop-color="#facab0"/><stop offset=".616" stop-color="#fcddcd"/><stop offset=".642" stop-color="#fce5d8"/><stop offset=".668" stop-color="#fce5d9"/><stop offset=".728" stop-color="#fcdac8"/><stop offset=".746" stop-color="#fcdbc9"/><stop offset=".784" stop-color="#fce2d4"/><stop offset=".797" stop-color="#fce1d3"/><stop offset=".819" stop-color="#fcdbca"/><stop offset=".841" stop-color="#fbd1ba"/><stop offset=".858" stop-color="#facbb2"/><stop offset=".875" stop-color="#faceb6"/><stop offset=".897" stop-color="#fcdccb"/><stop offset=".914" stop-color="#fce4d6"/><stop offset=".931" stop-color="#fce5d8"/><stop offset=".966" stop-color="#fce0d0"/><stop offset="1" stop-color="#fce2d3"/></linearGradient><linearGradient id="w54" gradientUnits="userSpaceOnUse" x1="18" x2="714" y1="0" y2="0"><stop offset=".000" stop-color="#fbd6c3"/><stop offset=".099" stop-color="#fce5d8"/><stop offset=".134" stop-color="#fdf0e7"/><stop offset=".138" stop-color="#f3f6fa"/><stop offset=".207" stop-color="#e2eaf4"/><stop offset=".241" stop-color="#d1deee"/><stop offset=".254" stop-color="#d5e1f0"/><stop offset=".276" stop-color="#eef2f8"/><stop offset=".280" stop-color="#fdf0e8"/><stop offset=".315" stop-color="#f9c2a5"/><stop offset=".328" stop-color="#f8b393"/><stop offset=".341" stop-color="#f8b08f"/><stop offset=".349" stop-color="#f8b595"/><stop offset=".375" stop-color="#facdb5"/><stop offset=".388" stop-color="#fbd4c0"/><stop offset=".401" stop-color="#fcd8c6"/><stop offset=".448" stop-color="#fcdece"/><stop offset=".487" stop-color="#fdebe1"/><stop offset=".496" stop-color="#fdeae0"/><stop offset=".509" stop-color="#fce2d4"/><stop offset=".539" stop-color="#f9bea1"/><stop offset=".547" stop-color="#f8b99a"/><stop offset=".556" stop-color="#f8ba9b"/><stop offset=".565" stop-color="#f9bfa1"/><stop offset=".591" stop-color="#fbd1bc"/><stop offset=".612" stop-color="#fcddcd"/><stop offset=".629" stop-color="#fce3d6"/><stop offset=".655" stop-color="#fde9de"/><stop offset=".677" stop-color="#fde8dc"/><stop offset=".724" stop-color="#fcdcca"/><stop offset=".737" stop-color="#fcdac8"/><stop offset=".776" stop-color="#fce1d3"/><stop offset=".797" stop-color="#fce1d2"/><stop offset=".810" stop-color="#fcddcc"/><stop offset=".845" stop-color="#facbb2"/><stop offset=".862" stop-color="#f9c8ad"/><stop offset=".875" stop-color="#faccb3"/><stop offset=".892" stop-color="#fcd8c6"/><stop offset=".914" stop-color="#fce4d7"/><stop offset=".931" stop-color="#fce5d9"/><stop offset=".970" stop-color="#fcdfcf"/><stop offset="1" stop-color="#fce2d3"/></linearGradient><linearGradient id="w55" gradientUnits="userSpaceOnUse" x1="18" x2="714" y1="0" y2="0"><stop offset=".000" stop-color="#fbd6c3"/><stop offset=".009" stop-color="#fbd6c3"/><stop offset=".030" stop-color="#fcdccb"/><stop offset=".095" stop-color="#fce0d0"/><stop offset=".155" stop-color="#fdf0e8"/><stop offset=".159" stop-color="#f3f5fa"/><stop offset=".198" stop-color="#e8eef6"/><stop offset=".246" stop-color="#d3e0ef"/><stop offset=".259" stop-color="#d9e4f1"/><stop offset=".280" stop-color="#f0f3f9"/><stop offset=".284" stop-color="#fdeee6"/><stop offset=".319" stop-color="#f9c0a3"/><stop offset=".328" stop-color="#f8b596"/><stop offset=".336" stop-color="#f8b08f"/><stop offset=".341" stop-color="#f8b08f"/><stop offset=".349" stop-color="#f8b494"/><stop offset=".366" stop-color="#f9c6aa"/><stop offset=".375" stop-color="#facdb5"/><stop offset=".388" stop-color="#fbd4c0"/><stop offset=".414" stop-color="#fcdac9"/><stop offset=".448" stop-color="#fcdecd"/><stop offset=".483" stop-color="#fdece3"/><stop offset=".491" stop-color="#fdeee5"/><stop offset=".504" stop-color="#fde9de"/><stop offset=".513" stop-color="#fce1d2"/><stop offset=".539" stop-color="#f9bfa2"/><stop offset=".547" stop-color="#f8b99b"/><stop offset=".560" stop-color="#f9bda0"/><stop offset=".582" stop-color="#facfb8"/><stop offset=".608" stop-color="#fcddcd"/><stop offset=".647" stop-color="#fdeae0"/><stop offset=".659" stop-color="#fdede3"/><stop offset=".685" stop-color="#fde9df"/><stop offset=".733" stop-color="#fcdbc9"/><stop offset=".741" stop-color="#fcdac8"/><stop offset=".780" stop-color="#fce2d4"/><stop offset=".793" stop-color="#fce1d3"/><stop offset=".815" stop-color="#fcd8c6"/><stop offset=".845" stop-color="#f9c7ad"/><stop offset=".858" stop-color="#f9c5a9"/><stop offset=".875" stop-color="#facab1"/><stop offset=".897" stop-color="#fcdbca"/><stop offset=".914" stop-color="#fce4d7"/><stop offset=".931" stop-color="#fce6d9"/><stop offset=".970" stop-color="#fcdfcf"/><stop offset="1" stop-color="#fce2d3"/></linearGradient><linearGradient id="w56" gradientUnits="userSpaceOnUse" x1="18" x2="714" y1="0" y2="0"><stop offset=".000" stop-color="#fbd7c4"/><stop offset=".039" stop-color="#fcdccb"/><stop offset=".095" stop-color="#fcdcca"/><stop offset=".134" stop-color="#fce4d7"/><stop offset=".168" stop-color="#fdefe6"/><stop offset=".177" stop-color="#f3f5fa"/><stop offset=".246" stop-color="#d5e1f0"/><stop offset=".254" stop-color="#d6e2f0"/><stop offset=".267" stop-color="#dfe8f3"/><stop offset=".284" stop-color="#f1f4f9"/><stop offset=".289" stop-color="#fdeee5"/><stop offset=".323" stop-color="#f9bfa1"/><stop offset=".332" stop-color="#f8b495"/><stop offset=".341" stop-color="#f8b191"/><stop offset=".353" stop-color="#f8b899"/><stop offset=".375" stop-color="#facdb5"/><stop offset=".392" stop-color="#fbd6c3"/><stop offset=".405" stop-color="#fcdac8"/><stop offset=".453" stop-color="#fcdece"/><stop offset=".491" stop-color="#fcf0e9"/><stop offset=".504" stop-color="#fdebe1"/><stop offset=".513" stop-color="#fce3d5"/><stop offset=".530" stop-color="#facab1"/><stop offset=".539" stop-color="#f9c0a3"/><stop offset=".547" stop-color="#f8bb9c"/><stop offset=".560" stop-color="#f9c0a3"/><stop offset=".582" stop-color="#fbd2bd"/><stop offset=".595" stop-color="#fcdac9"/><stop offset=".655" stop-color="#fdf0e7"/><stop offset=".659" stop-color="#f4f6fa"/><stop offset=".672" stop-color="#f4f6fa"/><stop offset=".677" stop-color="#fdf0e8"/><stop offset=".733" stop-color="#fcdccb"/><stop offset=".746" stop-color="#fcdbc9"/><stop offset=".780" stop-color="#fce2d4"/><stop offset=".793" stop-color="#fce1d3"/><stop offset=".806" stop-color="#fcdccb"/><stop offset=".832" stop-color="#facab1"/><stop offset=".853" stop-color="#f9c2a6"/><stop offset=".862" stop-color="#f9c3a6"/><stop offset=".871" stop-color="#f9c6ab"/><stop offset=".897" stop-color="#fcdbca"/><stop offset=".918" stop-color="#fce5d9"/><stop offset=".935" stop-color="#fce5d9"/><stop offset=".970" stop-color="#fcdfcf"/><stop offset="1" stop-color="#fce2d4"/></linearGradient><linearGradient id="w57" gradientUnits="userSpaceOnUse" x1="18" x2="714" y1="0" y2="0"><stop offset=".000" stop-color="#fbd8c4"/><stop offset=".034" stop-color="#fcdbca"/><stop offset=".095" stop-color="#fbd8c4"/><stop offset=".129" stop-color="#fcdece"/><stop offset=".181" stop-color="#fdefe7"/><stop offset=".185" stop-color="#f3f6fa"/><stop offset=".250" stop-color="#d7e3f0"/><stop offset=".263" stop-color="#dbe5f2"/><stop offset=".276" stop-color="#e4ebf5"/><stop offset=".289" stop-color="#f2f5f9"/><stop offset=".293" stop-color="#fdede3"/><stop offset=".306" stop-color="#fcdccc"/><stop offset=".319" stop-color="#fac9af"/><stop offset=".332" stop-color="#f8b899"/><stop offset=".341" stop-color="#f8b393"/><stop offset=".353" stop-color="#f8b99a"/><stop offset=".371" stop-color="#facab0"/><stop offset=".388" stop-color="#fbd5c1"/><stop offset=".409" stop-color="#fcdbc9"/><stop offset=".448" stop-color="#fcddcc"/><stop offset=".461" stop-color="#fce2d3"/><stop offset=".483" stop-color="#fdefe6"/><stop offset=".487" stop-color="#f4f6fa"/><stop offset=".496" stop-color="#f3f5fa"/><stop offset=".500" stop-color="#fdf0e8"/><stop offset=".513" stop-color="#fce4d7"/><stop offset=".534" stop-color="#f9c6ab"/><stop offset=".547" stop-color="#f9bd9f"/><stop offset=".556" stop-color="#f9c0a3"/><stop offset=".591" stop-color="#fcdccb"/><stop offset=".642" stop-color="#fdeee6"/><stop offset=".647" stop-color="#faf2ed"/><stop offset=".651" stop-color="#f2f5f9"/><stop offset=".668" stop-color="#eef2f8"/><stop offset=".690" stop-color="#f4f6fa"/><stop offset=".694" stop-color="#fdefe6"/><stop offset=".724" stop-color="#fce0d1"/><stop offset=".737" stop-color="#fcdccb"/><stop offset=".746" stop-color="#fcdbc9"/><stop offset=".772" stop-color="#fce1d2"/><stop offset=".789" stop-color="#fce2d4"/><stop offset=".802" stop-color="#fcddcd"/><stop offset=".836" stop-color="#f9c6aa"/><stop offset=".853" stop-color="#f9c0a2"/><stop offset=".871" stop-color="#f9c5aa"/><stop offset=".901" stop-color="#fcdece"/><stop offset=".918" stop-color="#fce5d9"/><stop offset=".935" stop-color="#fce5d9"/><stop offset=".970" stop-color="#fcdfcf"/><stop offset="1" stop-color="#fce2d4"/></linearGradient><linearGradient id="w58" gradientUnits="userSpaceOnUse" x1="18" x2="714" y1="0" y2="0"><stop offset=".000" stop-color="#fbd8c5"/><stop offset=".039" stop-color="#fcdac8"/><stop offset=".073" stop-color="#fbd5c1"/><stop offset=".103" stop-color="#fbd5c0"/><stop offset=".129" stop-color="#fcdac7"/><stop offset=".190" stop-color="#fdefe6"/><stop offset=".194" stop-color="#f4f6fa"/><stop offset=".250" stop-color="#dae5f1"/><stop offset=".272" stop-color="#dfe8f3"/><stop offset=".293" stop-color="#f4f6fa"/><stop offset=".297" stop-color="#fdebe1"/><stop offset=".323" stop-color="#f9c7ac"/><stop offset=".336" stop-color="#f8b798"/><stop offset=".345" stop-color="#f8b696"/><stop offset=".353" stop-color="#f8ba9c"/><stop offset=".366" stop-color="#f9c7ac"/><stop offset=".388" stop-color="#fbd6c2"/><stop offset=".409" stop-color="#fcdbca"/><stop offset=".440" stop-color="#fcdbca"/><stop offset=".453" stop-color="#fcdecd"/><stop offset=".461" stop-color="#fce1d3"/><stop offset=".483" stop-color="#fdefe7"/><stop offset=".487" stop-color="#f3f5fa"/><stop offset=".500" stop-color="#f4f6fa"/><stop offset=".504" stop-color="#fdeee5"/><stop offset=".513" stop-color="#fce5d8"/><stop offset=".530" stop-color="#facdb5"/><stop offset=".539" stop-color="#f9c4a8"/><stop offset=".547" stop-color="#f9c0a3"/><stop offset=".556" stop-color="#f9c4a7"/><stop offset=".586" stop-color="#fcddcc"/><stop offset=".638" stop-color="#fdefe6"/><stop offset=".642" stop-color="#f3f5fa"/><stop offset=".668" stop-color="#eaeff7"/><stop offset=".685" stop-color="#edf1f8"/><stop offset=".698" stop-color="#f3f5fa"/><stop offset=".703" stop-color="#fdefe6"/><stop offset=".724" stop-color="#fce3d4"/><stop offset=".741" stop-color="#fcdccb"/><stop offset=".750" stop-color="#fcdcca"/><stop offset=".780" stop-color="#fce2d4"/><stop offset=".793" stop-color="#fce1d2"/><stop offset=".806" stop-color="#fcdac8"/><stop offset=".836" stop-color="#f9c4a8"/><stop offset=".849" stop-color="#f9bfa1"/><stop offset=".858" stop-color="#f9bfa1"/><stop offset=".866" stop-color="#f9c2a6"/><stop offset=".897" stop-color="#fcdbc9"/><stop offset=".914" stop-color="#fce4d7"/><stop offset=".931" stop-color="#fce6d9"/><stop offset=".970" stop-color="#fcdfcf"/><stop offset="1" stop-color="#fce2d4"/></linearGradient><linearGradient id="w59" gradientUnits="userSpaceOnUse" x1="18" x2="714" y1="0" y2="0"><stop offset=".000" stop-color="#fbd7c3"/><stop offset=".034" stop-color="#fbd8c5"/><stop offset=".086" stop-color="#fbd2bc"/><stop offset=".121" stop-color="#fbd3be"/><stop offset=".142" stop-color="#fcd9c7"/><stop offset=".198" stop-color="#fdeee6"/><stop offset=".203" stop-color="#f5f6f9"/><stop offset=".228" stop-color="#e6edf5"/><stop offset=".254" stop-color="#dde7f2"/><stop offset=".276" stop-color="#e1eaf4"/><stop offset=".293" stop-color="#f1f4f9"/><stop offset=".297" stop-color="#fdeee6"/><stop offset=".323" stop-color="#facab1"/><stop offset=".332" stop-color="#f9bfa2"/><stop offset=".341" stop-color="#f8b99a"/><stop offset=".353" stop-color="#f9bd9f"/><stop offset=".375" stop-color="#facfb8"/><stop offset=".397" stop-color="#fcdac8"/><stop offset=".409" stop-color="#fcdccb"/><stop offset=".440" stop-color="#fcdcca"/><stop offset=".457" stop-color="#fcdfcf"/><stop offset=".487" stop-color="#fdf0e8"/><stop offset=".491" stop-color="#f3f5fa"/><stop offset=".496" stop-color="#f3f5fa"/><stop offset=".500" stop-color="#fdf0e7"/><stop offset=".513" stop-color="#fce5d8"/><stop offset=".534" stop-color="#facab0"/><stop offset=".547" stop-color="#f9c4a7"/><stop offset=".560" stop-color="#facab0"/><stop offset=".586" stop-color="#fcdfd0"/><stop offset=".634" stop-color="#fdefe7"/><stop offset=".638" stop-color="#f3f5fa"/><stop offset=".668" stop-color="#e6edf5"/><stop offset=".681" stop-color="#e7eef6"/><stop offset=".703" stop-color="#f1f4f9"/><stop offset=".707" stop-color="#fdf0e8"/><stop offset=".737" stop-color="#fcdece"/><stop offset=".750" stop-color="#fcdccb"/><stop offset=".780" stop-color="#fce2d4"/><stop offset=".789" stop-color="#fce1d3"/><stop offset=".797" stop-color="#fcdecf"/><stop offset=".832" stop-color="#f9c6ab"/><stop offset=".853" stop-color="#f9bfa1"/><stop offset=".871" stop-color="#f9c5aa"/><stop offset=".901" stop-color="#fcddcd"/><stop offset=".914" stop-color="#fce3d6"/><stop offset=".931" stop-color="#fce5d8"/><stop offset=".970" stop-color="#fcdfcf"/><stop offset="1" stop-color="#fce2d4"/></linearGradient><linearGradient id="w60" gradientUnits="userSpaceOnUse" x1="18" x2="714" y1="0" y2="0"><stop offset=".000" stop-color="#fbd5c0"/><stop offset=".030" stop-color="#fbd5c1"/><stop offset=".091" stop-color="#fad0b9"/><stop offset=".129" stop-color="#fbd2bc"/><stop offset=".211" stop-color="#fdefe7"/><stop offset=".216" stop-color="#f3f5fa"/><stop offset=".246" stop-color="#e3ebf4"/><stop offset=".259" stop-color="#e0e9f3"/><stop offset=".276" stop-color="#e2eaf4"/><stop offset=".293" stop-color="#eff3f8"/><stop offset=".297" stop-color="#f7f4f4"/><stop offset=".302" stop-color="#fdebe1"/><stop offset=".323" stop-color="#facdb5"/><stop offset=".336" stop-color="#f9bfa2"/><stop offset=".345" stop-color="#f9bc9e"/><stop offset=".353" stop-color="#f9c0a3"/><stop offset=".379" stop-color="#fbd3be"/><stop offset=".392" stop-color="#fcd9c7"/><stop offset=".409" stop-color="#fcddcc"/><stop offset=".453" stop-color="#fcdecd"/><stop offset=".483" stop-color="#fdece3"/><stop offset=".491" stop-color="#fdefe6"/><stop offset=".504" stop-color="#fdebe1"/><stop offset=".517" stop-color="#fcdfd0"/><stop offset=".534" stop-color="#faccb3"/><stop offset=".547" stop-color="#f9c7ac"/><stop offset=".560" stop-color="#facdb5"/><stop offset=".582" stop-color="#fcdfd0"/><stop offset=".629" stop-color="#fdf0e7"/><stop offset=".634" stop-color="#f3f5fa"/><stop offset=".655" stop-color="#e7eef6"/><stop offset=".677" stop-color="#e3ebf4"/><stop offset=".694" stop-color="#e8eef6"/><stop offset=".711" stop-color="#f4f6fa"/><stop offset=".716" stop-color="#fdede4"/><stop offset=".741" stop-color="#fcdece"/><stop offset=".754" stop-color="#fcddcc"/><stop offset=".780" stop-color="#fce1d3"/><stop offset=".789" stop-color="#fce1d2"/><stop offset=".802" stop-color="#fcdccb"/><stop offset=".828" stop-color="#facab0"/><stop offset=".849" stop-color="#f9c1a4"/><stop offset=".862" stop-color="#f9c2a6"/><stop offset=".875" stop-color="#fac9af"/><stop offset=".901" stop-color="#fcddcc"/><stop offset=".914" stop-color="#fce2d4"/><stop offset=".931" stop-color="#fce4d7"/><stop offset=".970" stop-color="#fcdfcf"/><stop offset="1" stop-color="#fce2d3"/></linearGradient><linearGradient id="w61" gradientUnits="userSpaceOnUse" x1="18" x2="714" y1="0" y2="0"><stop offset=".000" stop-color="#fbd2bd"/><stop offset=".099" stop-color="#facfb7"/><stop offset=".134" stop-color="#fbd0ba"/><stop offset=".203" stop-color="#fde7db"/><stop offset=".220" stop-color="#fdeee6"/><stop offset=".224" stop-color="#f4f6fa"/><stop offset=".263" stop-color="#e3ebf4"/><stop offset=".280" stop-color="#e5ecf5"/><stop offset=".297" stop-color="#f3f5fa"/><stop offset=".302" stop-color="#fdece3"/><stop offset=".328" stop-color="#facbb2"/><stop offset=".336" stop-color="#f9c3a7"/><stop offset=".345" stop-color="#f9c0a3"/><stop offset=".358" stop-color="#f9c5aa"/><stop offset=".384" stop-color="#fbd6c3"/><stop offset=".401" stop-color="#fcdccc"/><stop offset=".453" stop-color="#fcdece"/><stop offset=".491" stop-color="#fdece2"/><stop offset=".504" stop-color="#fde8dd"/><stop offset=".517" stop-color="#fcdfcf"/><stop offset=".534" stop-color="#faceb7"/><stop offset=".547" stop-color="#facbb2"/><stop offset=".556" stop-color="#faceb7"/><stop offset=".586" stop-color="#fce3d6"/><stop offset=".621" stop-color="#fdefe6"/><stop offset=".625" stop-color="#f7f4f3"/><stop offset=".629" stop-color="#f2f5f9"/><stop offset=".651" stop-color="#e7eef6"/><stop offset=".672" stop-color="#e1eaf4"/><stop offset=".694" stop-color="#e5ecf5"/><stop offset=".711" stop-color="#f0f4f9"/><stop offset=".716" stop-color="#f8f3f1"/><stop offset=".720" stop-color="#fdede4"/><stop offset=".741" stop-color="#fcdfd0"/><stop offset=".759" stop-color="#fcddcd"/><stop offset=".789" stop-color="#fce0d1"/><stop offset=".802" stop-color="#fcdccb"/><stop offset=".836" stop-color="#f9c8ad"/><stop offset=".849" stop-color="#f9c4a8"/><stop offset=".866" stop-color="#f9c6ab"/><stop offset=".905" stop-color="#fcdece"/><stop offset=".918" stop-color="#fce2d4"/><stop offset=".935" stop-color="#fce3d5"/><stop offset=".970" stop-color="#fcdfcf"/><stop offset="1" stop-color="#fce1d2"/></linearGradient><linearGradient id="w62" gradientUnits="userSpaceOnUse" x1="18" x2="714" y1="0" y2="0"><stop offset=".000" stop-color="#fad0b9"/><stop offset=".034" stop-color="#faceb6"/><stop offset=".116" stop-color="#faceb6"/><stop offset=".138" stop-color="#fad0b9"/><stop offset=".220" stop-color="#fde9de"/><stop offset=".233" stop-color="#fdefe7"/><stop offset=".237" stop-color="#f3f5fa"/><stop offset=".254" stop-color="#eaf0f7"/><stop offset=".267" stop-color="#e7edf6"/><stop offset=".284" stop-color="#e9eff6"/><stop offset=".297" stop-color="#f3f6fa"/><stop offset=".302" stop-color="#fdede3"/><stop offset=".323" stop-color="#fbd2bd"/><stop offset=".336" stop-color="#f9c6ab"/><stop offset=".345" stop-color="#f9c4a8"/><stop offset=".358" stop-color="#f9c8ad"/><stop offset=".379" stop-color="#fbd5c1"/><stop offset=".401" stop-color="#fcddcd"/><stop offset=".457" stop-color="#fce0d0"/><stop offset=".487" stop-color="#fde8dc"/><stop offset=".500" stop-color="#fde7db"/><stop offset=".534" stop-color="#fbd1bb"/><stop offset=".547" stop-color="#facfb8"/><stop offset=".556" stop-color="#fbd2bc"/><stop offset=".586" stop-color="#fce5d8"/><stop offset=".616" stop-color="#fdefe7"/><stop offset=".621" stop-color="#f3f6fa"/><stop offset=".672" stop-color="#e0e9f3"/><stop offset=".694" stop-color="#e3ebf4"/><stop offset=".716" stop-color="#f1f4f9"/><stop offset=".720" stop-color="#fdefe7"/><stop offset=".746" stop-color="#fcdfcf"/><stop offset=".793" stop-color="#fcdece"/><stop offset=".832" stop-color="#faccb4"/><stop offset=".853" stop-color="#f9c7ac"/><stop offset=".871" stop-color="#facab0"/><stop offset=".901" stop-color="#fcdac9"/><stop offset=".914" stop-color="#fcdfd0"/><stop offset=".927" stop-color="#fce1d3"/><stop offset=".966" stop-color="#fcdfcf"/><stop offset="1" stop-color="#fce0d2"/></linearGradient><linearGradient id="w63" gradientUnits="userSpaceOnUse" x1="18" x2="714" y1="0" y2="0"><stop offset=".000" stop-color="#faceb6"/><stop offset=".043" stop-color="#faccb3"/><stop offset=".078" stop-color="#facfb9"/><stop offset=".125" stop-color="#facfb7"/><stop offset=".147" stop-color="#fbd1bb"/><stop offset=".220" stop-color="#fce4d7"/><stop offset=".246" stop-color="#fdf0e8"/><stop offset=".250" stop-color="#f2f5f9"/><stop offset=".272" stop-color="#ebf0f7"/><stop offset=".284" stop-color="#ecf1f7"/><stop offset=".293" stop-color="#f1f4f9"/><stop offset=".297" stop-color="#fdf0e8"/><stop offset=".310" stop-color="#fce3d6"/><stop offset=".328" stop-color="#fad0b9"/><stop offset=".336" stop-color="#fac9b0"/><stop offset=".345" stop-color="#f9c7ac"/><stop offset=".353" stop-color="#fac8ae"/><stop offset=".392" stop-color="#fcdccb"/><stop offset=".414" stop-color="#fce0d1"/><stop offset=".453" stop-color="#fce0d1"/><stop offset=".496" stop-color="#fce4d7"/><stop offset=".513" stop-color="#fcdecf"/><stop offset=".530" stop-color="#fbd6c2"/><stop offset=".547" stop-color="#fbd3be"/><stop offset=".612" stop-color="#fdf0e8"/><stop offset=".616" stop-color="#f3f5fa"/><stop offset=".672" stop-color="#e0e9f3"/><stop offset=".698" stop-color="#e3ebf4"/><stop offset=".720" stop-color="#f3f5fa"/><stop offset=".724" stop-color="#fdeee4"/><stop offset=".746" stop-color="#fce0d0"/><stop offset=".759" stop-color="#fcddcc"/><stop offset=".784" stop-color="#fcdece"/><stop offset=".802" stop-color="#fcdbca"/><stop offset=".836" stop-color="#faceb6"/><stop offset=".853" stop-color="#facab1"/><stop offset=".871" stop-color="#faccb3"/><stop offset=".905" stop-color="#fcdbca"/><stop offset=".922" stop-color="#fcdfd0"/><stop offset="1" stop-color="#fce0d0"/></linearGradient><linearGradient id="w64" gradientUnits="userSpaceOnUse" x1="18" x2="714" y1="0" y2="0"><stop offset=".000" stop-color="#facdb5"/><stop offset=".030" stop-color="#facab0"/><stop offset=".082" stop-color="#fbd1bc"/><stop offset=".134" stop-color="#fbd0ba"/><stop offset=".194" stop-color="#fcdac7"/><stop offset=".220" stop-color="#fce0d1"/><stop offset=".254" stop-color="#fdefe6"/><stop offset=".259" stop-color="#f4f6fa"/><stop offset=".276" stop-color="#eff3f8"/><stop offset=".293" stop-color="#f4f6fa"/><stop offset=".297" stop-color="#fdeee5"/><stop offset=".332" stop-color="#faceb7"/><stop offset=".345" stop-color="#facab0"/><stop offset=".358" stop-color="#faccb4"/><stop offset=".392" stop-color="#fcdccc"/><stop offset=".427" stop-color="#fce2d4"/><stop offset=".478" stop-color="#fce2d4"/><stop offset=".500" stop-color="#fce0d1"/><stop offset=".534" stop-color="#fbd7c4"/><stop offset=".552" stop-color="#fcd9c6"/><stop offset=".608" stop-color="#fdefe7"/><stop offset=".612" stop-color="#f3f5fa"/><stop offset=".651" stop-color="#e5ecf5"/><stop offset=".677" stop-color="#e0e9f3"/><stop offset=".694" stop-color="#e1eaf4"/><stop offset=".707" stop-color="#e7eef6"/><stop offset=".720" stop-color="#f2f5f9"/><stop offset=".724" stop-color="#fdefe6"/><stop offset=".746" stop-color="#fce0d1"/><stop offset=".763" stop-color="#fcdccb"/><stop offset=".797" stop-color="#fcdbca"/><stop offset=".858" stop-color="#facdb5"/><stop offset=".875" stop-color="#faceb7"/><stop offset=".914" stop-color="#fcdccb"/><stop offset=".927" stop-color="#fcdece"/><stop offset="1" stop-color="#fcdfcf"/></linearGradient><linearGradient id="w65" gradientUnits="userSpaceOnUse" x1="18" x2="714" y1="0" y2="0"><stop offset=".000" stop-color="#facdb6"/><stop offset=".030" stop-color="#facab1"/><stop offset=".091" stop-color="#fbd6c2"/><stop offset=".138" stop-color="#fbd3be"/><stop offset=".198" stop-color="#fcd8c5"/><stop offset=".224" stop-color="#fcdece"/><stop offset=".263" stop-color="#fdede4"/><stop offset=".284" stop-color="#fdf0e8"/><stop offset=".302" stop-color="#fde9de"/><stop offset=".332" stop-color="#fbd1ba"/><stop offset=".349" stop-color="#faccb4"/><stop offset=".362" stop-color="#fad0b9"/><stop offset=".384" stop-color="#fcdac8"/><stop offset=".422" stop-color="#fce3d6"/><stop offset=".457" stop-color="#fce4d7"/><stop offset=".522" stop-color="#fcdbc9"/><stop offset=".556" stop-color="#fcddcd"/><stop offset=".578" stop-color="#fce4d6"/><stop offset=".603" stop-color="#fdeee6"/><stop offset=".608" stop-color="#f5f5f8"/><stop offset=".612" stop-color="#f2f5f9"/><stop offset=".629" stop-color="#ebf0f7"/><stop offset=".677" stop-color="#e2eaf4"/><stop offset=".703" stop-color="#e5ecf5"/><stop offset=".720" stop-color="#f2f4f9"/><stop offset=".724" stop-color="#fdefe6"/><stop offset=".746" stop-color="#fce0d1"/><stop offset=".754" stop-color="#fcddcc"/><stop offset=".767" stop-color="#fcdac8"/><stop offset=".810" stop-color="#fcd8c6"/><stop offset=".862" stop-color="#facfb8"/><stop offset=".884" stop-color="#fbd1bb"/><stop offset=".905" stop-color="#fbd8c5"/><stop offset=".931" stop-color="#fcdccc"/><stop offset="1" stop-color="#fcddcd"/></linearGradient><linearGradient id="w66" gradientUnits="userSpaceOnUse" x1="18" x2="714" y1="0" y2="0"><stop offset=".000" stop-color="#fbd1ba"/><stop offset=".034" stop-color="#faceb6"/><stop offset=".082" stop-color="#fcd9c7"/><stop offset=".095" stop-color="#fcdbc9"/><stop offset=".138" stop-color="#fbd7c4"/><stop offset=".203" stop-color="#fcd8c5"/><stop offset=".220" stop-color="#fcdbc9"/><stop offset=".267" stop-color="#fde9df"/><stop offset=".284" stop-color="#fdece2"/><stop offset=".293" stop-color="#fdeae0"/><stop offset=".306" stop-color="#fce4d7"/><stop offset=".336" stop-color="#fbd0ba"/><stop offset=".349" stop-color="#faceb7"/><stop offset=".366" stop-color="#fbd3bd"/><stop offset=".397" stop-color="#fcdecf"/><stop offset=".435" stop-color="#fde7db"/><stop offset=".448" stop-color="#fde7dc"/><stop offset=".466" stop-color="#fce5d8"/><stop offset=".504" stop-color="#fcdbca"/><stop offset=".526" stop-color="#fcdccb"/><stop offset=".565" stop-color="#fce2d3"/><stop offset=".603" stop-color="#fdefe6"/><stop offset=".608" stop-color="#f4f6fa"/><stop offset=".642" stop-color="#e8eef6"/><stop offset=".681" stop-color="#e4ebf5"/><stop offset=".703" stop-color="#e7eef6"/><stop offset=".720" stop-color="#f3f5fa"/><stop offset=".724" stop-color="#fdeee5"/><stop offset=".737" stop-color="#fce5d8"/><stop offset=".754" stop-color="#fcdccb"/><stop offset=".776" stop-color="#fbd7c4"/><stop offset=".823" stop-color="#fbd8c5"/><stop offset=".862" stop-color="#fbd1ba"/><stop offset=".875" stop-color="#fbd0ba"/><stop offset=".931" stop-color="#fcdac9"/><stop offset="1" stop-color="#fcdccb"/></linearGradient><linearGradient id="w67" gradientUnits="userSpaceOnUse" x1="18" x2="714" y1="0" y2="0"><stop offset=".000" stop-color="#fbd6c2"/><stop offset=".030" stop-color="#fbd3be"/><stop offset=".095" stop-color="#fce0d1"/><stop offset=".211" stop-color="#fcdac7"/><stop offset=".241" stop-color="#fcdece"/><stop offset=".267" stop-color="#fce5d8"/><stop offset=".289" stop-color="#fde7db"/><stop offset=".306" stop-color="#fce2d4"/><stop offset=".336" stop-color="#fbd2bc"/><stop offset=".353" stop-color="#fbd0ba"/><stop offset=".422" stop-color="#fde7db"/><stop offset=".440" stop-color="#fdeae0"/><stop offset=".461" stop-color="#fde9de"/><stop offset=".504" stop-color="#fcdbca"/><stop offset=".578" stop-color="#fce6d9"/><stop offset=".603" stop-color="#fdefe6"/><stop offset=".608" stop-color="#f4f6fa"/><stop offset=".638" stop-color="#eaf0f7"/><stop offset=".668" stop-color="#e8eef6"/><stop offset=".690" stop-color="#e8eef6"/><stop offset=".716" stop-color="#f2f5f9"/><stop offset=".720" stop-color="#fdefe7"/><stop offset=".741" stop-color="#fce2d3"/><stop offset=".763" stop-color="#fbd7c4"/><stop offset=".780" stop-color="#fbd4bf"/><stop offset=".832" stop-color="#fbd8c5"/><stop offset=".875" stop-color="#fbd1ba"/><stop offset=".948" stop-color="#fcdac8"/><stop offset="1" stop-color="#fcdac8"/></linearGradient><linearGradient id="w68" gradientUnits="userSpaceOnUse" x1="18" x2="714" y1="0" y2="0"><stop offset=".000" stop-color="#fcddcd"/><stop offset=".034" stop-color="#fcdcca"/><stop offset=".091" stop-color="#fce5d9"/><stop offset=".121" stop-color="#fce5d8"/><stop offset=".211" stop-color="#fcdcca"/><stop offset=".246" stop-color="#fcddcc"/><stop offset=".280" stop-color="#fce3d5"/><stop offset=".293" stop-color="#fce3d5"/><stop offset=".310" stop-color="#fcdece"/><stop offset=".328" stop-color="#fbd6c2"/><stop offset=".349" stop-color="#fbd1bb"/><stop offset=".366" stop-color="#fbd4bf"/><stop offset=".414" stop-color="#fce5d9"/><stop offset=".444" stop-color="#fdeee5"/><stop offset=".461" stop-color="#fdece3"/><stop offset=".487" stop-color="#fce1d2"/><stop offset=".509" stop-color="#fcddcc"/><stop offset=".547" stop-color="#fce5d8"/><stop offset=".573" stop-color="#fce6d9"/><stop offset=".591" stop-color="#fde9de"/><stop offset=".608" stop-color="#fdf0e7"/><stop offset=".612" stop-color="#f3f5fa"/><stop offset=".638" stop-color="#ecf1f7"/><stop offset=".681" stop-color="#ecf1f7"/><stop offset=".711" stop-color="#f4f6fa"/><stop offset=".716" stop-color="#fdeee6"/><stop offset=".720" stop-color="#fdece2"/><stop offset=".763" stop-color="#fbd5c1"/><stop offset=".780" stop-color="#fbd1bb"/><stop offset=".793" stop-color="#fbd1bc"/><stop offset=".823" stop-color="#fbd8c5"/><stop offset=".871" stop-color="#fbd1bb"/><stop offset=".888" stop-color="#fbd1bb"/><stop offset=".944" stop-color="#fbd8c5"/><stop offset="1" stop-color="#fbd8c5"/></linearGradient><linearGradient id="w69" gradientUnits="userSpaceOnUse" x1="18" x2="714" y1="0" y2="0"><stop offset=".000" stop-color="#fce5d8"/><stop offset=".030" stop-color="#fce3d5"/><stop offset=".091" stop-color="#fdece2"/><stop offset=".116" stop-color="#fdece2"/><stop offset=".237" stop-color="#fcdbca"/><stop offset=".293" stop-color="#fcdfd0"/><stop offset=".306" stop-color="#fcddcd"/><stop offset=".336" stop-color="#fbd4bf"/><stop offset=".353" stop-color="#fbd3bd"/><stop offset=".384" stop-color="#fcdac8"/><stop offset=".440" stop-color="#fdf0e8"/><stop offset=".444" stop-color="#f3f6fa"/><stop offset=".457" stop-color="#f3f6fa"/><stop offset=".461" stop-color="#fdf0e8"/><stop offset=".491" stop-color="#fce1d3"/><stop offset=".504" stop-color="#fcdece"/><stop offset=".547" stop-color="#fde7db"/><stop offset=".573" stop-color="#fde7da"/><stop offset=".595" stop-color="#fdeadf"/><stop offset=".612" stop-color="#fdefe7"/><stop offset=".616" stop-color="#f3f6fa"/><stop offset=".642" stop-color="#eff3f8"/><stop offset=".690" stop-color="#f3f6fa"/><stop offset=".698" stop-color="#fdefe7"/><stop offset=".720" stop-color="#fde8dd"/><stop offset=".763" stop-color="#fbd3be"/><stop offset=".780" stop-color="#faceb7"/><stop offset=".797" stop-color="#fad0b9"/><stop offset=".828" stop-color="#fbd8c5"/><stop offset=".875" stop-color="#fbd1bb"/><stop offset=".944" stop-color="#fbd6c3"/><stop offset="1" stop-color="#fbd7c3"/></linearGradient><linearGradient id="w70" gradientUnits="userSpaceOnUse" x1="18" x2="714" y1="0" y2="0"><stop offset=".000" stop-color="#fdece3"/><stop offset=".034" stop-color="#fdebe1"/><stop offset=".073" stop-color="#fdf0e8"/><stop offset=".078" stop-color="#f4f6fa"/><stop offset=".134" stop-color="#f4f6fa"/><stop offset=".138" stop-color="#fdf0e7"/><stop offset=".233" stop-color="#fcdccb"/><stop offset=".259" stop-color="#fcd9c7"/><stop offset=".297" stop-color="#fcdccc"/><stop offset=".341" stop-color="#fbd4bf"/><stop offset=".358" stop-color="#fbd4bf"/><stop offset=".384" stop-color="#fcdac8"/><stop offset=".431" stop-color="#fdefe7"/><stop offset=".435" stop-color="#f3f6fa"/><stop offset=".453" stop-color="#eff3f8"/><stop offset=".466" stop-color="#f3f5fa"/><stop offset=".470" stop-color="#fdefe7"/><stop offset=".491" stop-color="#fce4d6"/><stop offset=".504" stop-color="#fce0d1"/><stop offset=".543" stop-color="#fde8dc"/><stop offset=".578" stop-color="#fde7da"/><stop offset=".595" stop-color="#fde9dd"/><stop offset=".629" stop-color="#fdf0e8"/><stop offset=".634" stop-color="#f4f6fa"/><stop offset=".647" stop-color="#f4f6fa"/><stop offset=".651" stop-color="#fdf0e8"/><stop offset=".690" stop-color="#fdebe1"/><stop offset=".716" stop-color="#fce5d8"/><stop offset=".741" stop-color="#fcdccb"/><stop offset=".767" stop-color="#fad0b9"/><stop offset=".784" stop-color="#faccb4"/><stop offset=".832" stop-color="#fcd9c6"/><stop offset=".875" stop-color="#fbd2bc"/><stop offset=".944" stop-color="#fbd6c2"/><stop offset="1" stop-color="#fbd6c2"/></linearGradient><linearGradient id="w71" gradientUnits="userSpaceOnUse" x1="18" x2="714" y1="0" y2="0"><stop offset=".000" stop-color="#eff3f8"/><stop offset=".043" stop-color="#f0f3f9"/><stop offset=".091" stop-color="#ebf0f7"/><stop offset=".125" stop-color="#ebf0f7"/><stop offset=".159" stop-color="#f3f6fa"/><stop offset=".164" stop-color="#fdf0e7"/><stop offset=".246" stop-color="#fcdac8"/><stop offset=".267" stop-color="#fcd9c6"/><stop offset=".302" stop-color="#fcdac9"/><stop offset=".345" stop-color="#fbd5c0"/><stop offset=".366" stop-color="#fbd6c2"/><stop offset=".397" stop-color="#fce0d0"/><stop offset=".427" stop-color="#fdeee5"/><stop offset=".431" stop-color="#f6f5f6"/><stop offset=".435" stop-color="#f2f5f9"/><stop offset=".448" stop-color="#edf2f8"/><stop offset=".457" stop-color="#edf1f8"/><stop offset=".470" stop-color="#f2f5f9"/><stop offset=".474" stop-color="#fdefe7"/><stop offset=".496" stop-color="#fce4d6"/><stop offset=".504" stop-color="#fce2d4"/><stop offset=".543" stop-color="#fde8dd"/><stop offset=".586" stop-color="#fce6d9"/><stop offset=".621" stop-color="#fdebe1"/><stop offset=".655" stop-color="#fdebe1"/><stop offset=".733" stop-color="#fcdbca"/><stop offset=".767" stop-color="#facfb7"/><stop offset=".780" stop-color="#faccb3"/><stop offset=".793" stop-color="#facdb5"/><stop offset=".819" stop-color="#fbd7c4"/><stop offset=".832" stop-color="#fcdac8"/><stop offset=".884" stop-color="#fbd3be"/><stop offset=".948" stop-color="#fbd6c3"/><stop offset="1" stop-color="#fbd6c3"/></linearGradient><linearGradient id="w72" gradientUnits="userSpaceOnUse" x1="18" x2="714" y1="0" y2="0"><stop offset=".000" stop-color="#e7eef6"/><stop offset=".125" stop-color="#e5ecf5"/><stop offset=".147" stop-color="#e9eff6"/><stop offset=".177" stop-color="#f4f6fa"/><stop offset=".181" stop-color="#fdefe7"/><stop offset=".241" stop-color="#fcdccb"/><stop offset=".263" stop-color="#fcd9c6"/><stop offset=".306" stop-color="#fcdac8"/><stop offset=".336" stop-color="#fbd6c2"/><stop offset=".371" stop-color="#fcd8c5"/><stop offset=".397" stop-color="#fce0d1"/><stop offset=".427" stop-color="#fdeee6"/><stop offset=".431" stop-color="#f4f6fa"/><stop offset=".448" stop-color="#ecf1f7"/><stop offset=".461" stop-color="#edf1f8"/><stop offset=".474" stop-color="#f4f6fa"/><stop offset=".478" stop-color="#fdeee5"/><stop offset=".496" stop-color="#fce5d8"/><stop offset=".504" stop-color="#fce3d5"/><stop offset=".539" stop-color="#fde7dc"/><stop offset=".578" stop-color="#fce4d6"/><stop offset=".647" stop-color="#fde6da"/><stop offset=".703" stop-color="#fcdac8"/><stop offset=".746" stop-color="#fbd4bf"/><stop offset=".776" stop-color="#facdb4"/><stop offset=".789" stop-color="#facdb5"/><stop offset=".815" stop-color="#fbd8c5"/><stop offset=".832" stop-color="#fcdccc"/><stop offset=".875" stop-color="#fbd7c3"/><stop offset="1" stop-color="#fcd8c5"/></linearGradient><linearGradient id="w73" gradientUnits="userSpaceOnUse" x1="18" x2="714" y1="0" y2="0"><stop offset=".000" stop-color="#e1eaf4"/><stop offset=".134" stop-color="#e1eaf4"/><stop offset=".185" stop-color="#f3f5fa"/><stop offset=".190" stop-color="#fdefe7"/><stop offset=".233" stop-color="#fce0d0"/><stop offset=".250" stop-color="#fcdccb"/><stop offset=".293" stop-color="#fcdccb"/><stop offset=".332" stop-color="#fbd7c4"/><stop offset=".353" stop-color="#fbd7c4"/><stop offset=".371" stop-color="#fcdac8"/><stop offset=".405" stop-color="#fce4d7"/><stop offset=".427" stop-color="#fdeee5"/><stop offset=".431" stop-color="#f6f4f5"/><stop offset=".435" stop-color="#f2f5f9"/><stop offset=".453" stop-color="#ecf1f7"/><stop offset=".461" stop-color="#edf2f8"/><stop offset=".474" stop-color="#f4f6fa"/><stop offset=".478" stop-color="#fdeee5"/><stop offset=".504" stop-color="#fce3d5"/><stop offset=".543" stop-color="#fde6da"/><stop offset=".591" stop-color="#fce0d0"/><stop offset=".642" stop-color="#fce0d1"/><stop offset=".664" stop-color="#fcddcc"/><stop offset=".698" stop-color="#fbd2bc"/><stop offset=".716" stop-color="#fad0b9"/><stop offset=".750" stop-color="#fbd0ba"/><stop offset=".780" stop-color="#faceb7"/><stop offset=".793" stop-color="#fbd2bc"/><stop offset=".815" stop-color="#fcdccb"/><stop offset=".832" stop-color="#fce0d1"/><stop offset=".875" stop-color="#fcdbc9"/><stop offset="1" stop-color="#fcdcca"/></linearGradient><linearGradient id="w74" gradientUnits="userSpaceOnUse" x1="18" x2="714" y1="0" y2="0"><stop offset=".000" stop-color="#dde7f2"/><stop offset=".138" stop-color="#dfe8f3"/><stop offset=".159" stop-color="#e4ecf5"/><stop offset=".190" stop-color="#f4f6fa"/><stop offset=".194" stop-color="#fdeee5"/><stop offset=".224" stop-color="#fce2d4"/><stop offset=".241" stop-color="#fce0d0"/><stop offset=".293" stop-color="#fcdfd0"/><stop offset=".332" stop-color="#fcd9c6"/><stop offset=".349" stop-color="#fcd9c6"/><stop offset=".401" stop-color="#fce4d6"/><stop offset=".431" stop-color="#fdefe6"/><stop offset=".435" stop-color="#f4f6fa"/><stop offset=".453" stop-color="#eff3f8"/><stop offset=".470" stop-color="#f3f6fa"/><stop offset=".474" stop-color="#fdefe6"/><stop offset=".500" stop-color="#fce3d5"/><stop offset=".517" stop-color="#fce2d3"/><stop offset=".543" stop-color="#fce3d6"/><stop offset=".595" stop-color="#fcdac8"/><stop offset=".642" stop-color="#fbd8c5"/><stop offset=".707" stop-color="#f9c8ad"/><stop offset=".776" stop-color="#fbd1bb"/><stop offset=".815" stop-color="#fce2d3"/><stop offset=".832" stop-color="#fce5d9"/><stop offset=".884" stop-color="#fce0d0"/><stop offset="1" stop-color="#fce0d1"/></linearGradient><linearGradient id="w75" gradientUnits="userSpaceOnUse" x1="18" x2="714" y1="0" y2="0"><stop offset=".000" stop-color="#dce6f2"/><stop offset=".142" stop-color="#dee7f3"/><stop offset=".159" stop-color="#e2eaf4"/><stop offset=".177" stop-color="#eaf0f7"/><stop offset=".190" stop-color="#f4f6fa"/><stop offset=".194" stop-color="#fdeee5"/><stop offset=".216" stop-color="#fce4d6"/><stop offset=".233" stop-color="#fce2d3"/><stop offset=".280" stop-color="#fce5d9"/><stop offset=".297" stop-color="#fce3d6"/><stop offset=".323" stop-color="#fcdccb"/><stop offset=".345" stop-color="#fcdac8"/><stop offset=".409" stop-color="#fde7da"/><stop offset=".444" stop-color="#fdf0e7"/><stop offset=".448" stop-color="#f4f6fa"/><stop offset=".457" stop-color="#f4f6fa"/><stop offset=".461" stop-color="#fdf0e8"/><stop offset=".496" stop-color="#fce2d3"/><stop offset=".513" stop-color="#fcdfcf"/><stop offset=".552" stop-color="#fcdfcf"/><stop offset=".586" stop-color="#fbd5c0"/><stop offset=".651" stop-color="#faccb4"/><stop offset=".703" stop-color="#f9bd9f"/><stop offset=".716" stop-color="#f9bea0"/><stop offset=".733" stop-color="#f9c4a8"/><stop offset=".767" stop-color="#fbd2bc"/><stop offset=".810" stop-color="#fde7db"/><stop offset=".832" stop-color="#fdece3"/><stop offset=".884" stop-color="#fce6d9"/><stop offset="1" stop-color="#fde6da"/></linearGradient><linearGradient id="w76" gradientUnits="userSpaceOnUse" x1="18" x2="714" y1="0" y2="0"><stop offset=".000" stop-color="#dce6f2"/><stop offset=".147" stop-color="#dee7f3"/><stop offset=".168" stop-color="#e4ebf5"/><stop offset=".185" stop-color="#f1f4f9"/><stop offset=".190" stop-color="#fdf0e7"/><stop offset=".207" stop-color="#fce4d7"/><stop offset=".216" stop-color="#fce1d3"/><stop offset=".228" stop-color="#fce2d3"/><stop offset=".259" stop-color="#fdeae0"/><stop offset=".280" stop-color="#fdece3"/><stop offset=".293" stop-color="#fdeae0"/><stop offset=".319" stop-color="#fce0d1"/><stop offset=".336" stop-color="#fcdccb"/><stop offset=".345" stop-color="#fcdccb"/><stop offset=".384" stop-color="#fde6da"/><stop offset=".414" stop-color="#fde7db"/><stop offset=".453" stop-color="#fdece2"/><stop offset=".466" stop-color="#fdeadf"/><stop offset=".496" stop-color="#fcdece"/><stop offset=".547" stop-color="#fcdac9"/><stop offset=".591" stop-color="#faccb4"/><stop offset=".638" stop-color="#f9c4a8"/><stop offset=".685" stop-color="#f8b393"/><stop offset=".703" stop-color="#f8b08f"/><stop offset=".716" stop-color="#f8b292"/><stop offset=".728" stop-color="#f8b99a"/><stop offset=".750" stop-color="#fac8ae"/><stop offset=".780" stop-color="#fcdecf"/><stop offset=".810" stop-color="#fdefe7"/><stop offset=".815" stop-color="#f3f5fa"/><stop offset=".828" stop-color="#eff3f8"/><stop offset=".853" stop-color="#f3f5fa"/><stop offset=".858" stop-color="#fdf0e8"/><stop offset=".875" stop-color="#fdede4"/><stop offset="1" stop-color="#fdede4"/></linearGradient><linearGradient id="w77" gradientUnits="userSpaceOnUse" x1="18" x2="714" y1="0" y2="0"><stop offset=".000" stop-color="#dee7f3"/><stop offset=".155" stop-color="#dfe8f3"/><stop offset=".172" stop-color="#e6edf5"/><stop offset=".185" stop-color="#f2f5f9"/><stop offset=".190" stop-color="#fdeee5"/><stop offset=".207" stop-color="#fce2d3"/><stop offset=".220" stop-color="#fcdfcf"/><stop offset=".233" stop-color="#fce3d6"/><stop offset=".254" stop-color="#fdf0e7"/><stop offset=".259" stop-color="#f3f5fa"/><stop offset=".272" stop-color="#eff3f8"/><stop offset=".293" stop-color="#f2f5f9"/><stop offset=".297" stop-color="#fdf0e8"/><stop offset=".328" stop-color="#fce0d0"/><stop offset=".345" stop-color="#fcdece"/><stop offset=".379" stop-color="#fdeadf"/><stop offset=".397" stop-color="#fde9df"/><stop offset=".418" stop-color="#fde7da"/><stop offset=".453" stop-color="#fde6da"/><stop offset=".466" stop-color="#fce4d7"/><stop offset=".500" stop-color="#fcd9c6"/><stop offset=".543" stop-color="#fbd6c2"/><stop offset=".612" stop-color="#f9bd9f"/><stop offset=".681" stop-color="#f7a683"/><stop offset=".698" stop-color="#f7a480"/><stop offset=".716" stop-color="#f7a885"/><stop offset=".737" stop-color="#f8b798"/><stop offset=".772" stop-color="#fcddcd"/><stop offset=".793" stop-color="#fdefe7"/><stop offset=".797" stop-color="#f2f5f9"/><stop offset=".823" stop-color="#e5ecf5"/><stop offset=".836" stop-color="#e5ecf5"/><stop offset=".879" stop-color="#eff2f8"/><stop offset="1" stop-color="#eef2f8"/></linearGradient><linearGradient id="w78" gradientUnits="userSpaceOnUse" x1="18" x2="714" y1="0" y2="0"><stop offset=".000" stop-color="#e1e9f4"/><stop offset=".121" stop-color="#e3eaf4"/><stop offset=".159" stop-color="#e0e9f3"/><stop offset=".177" stop-color="#eaf0f7"/><stop offset=".185" stop-color="#f4f6fa"/><stop offset=".190" stop-color="#fdece3"/><stop offset=".203" stop-color="#fce1d2"/><stop offset=".216" stop-color="#fcdccc"/><stop offset=".224" stop-color="#fcdfcf"/><stop offset=".246" stop-color="#fdefe7"/><stop offset=".250" stop-color="#f1f4f9"/><stop offset=".263" stop-color="#e7eef6"/><stop offset=".276" stop-color="#e4ecf5"/><stop offset=".293" stop-color="#e9eff6"/><stop offset=".306" stop-color="#f3f5fa"/><stop offset=".310" stop-color="#fdeee5"/><stop offset=".332" stop-color="#fce1d2"/><stop offset=".345" stop-color="#fce1d2"/><stop offset=".379" stop-color="#fdeee6"/><stop offset=".397" stop-color="#fdede3"/><stop offset=".418" stop-color="#fce6d9"/><stop offset=".466" stop-color="#fcdece"/><stop offset=".496" stop-color="#fbd5c0"/><stop offset=".543" stop-color="#fad0b9"/><stop offset=".573" stop-color="#f9c4a7"/><stop offset=".599" stop-color="#f8b596"/><stop offset=".651" stop-color="#f7a17d"/><stop offset=".681" stop-color="#f69b74"/><stop offset=".698" stop-color="#f69b74"/><stop offset=".720" stop-color="#f7a17c"/><stop offset=".737" stop-color="#f8b08f"/><stop offset=".780" stop-color="#fdece2"/><stop offset=".784" stop-color="#f4f6fa"/><stop offset=".806" stop-color="#e0e9f3"/><stop offset=".828" stop-color="#d9e4f1"/><stop offset=".875" stop-color="#e5ecf5"/><stop offset="1" stop-color="#e5ecf5"/></linearGradient><linearGradient id="w79" gradientUnits="userSpaceOnUse" x1="18" x2="714" y1="0" y2="0"><stop offset=".000" stop-color="#e4ebf5"/><stop offset=".121" stop-color="#e6ecf5"/><stop offset=".159" stop-color="#e1e9f4"/><stop offset=".168" stop-color="#e4ebf5"/><stop offset=".181" stop-color="#f0f3f9"/><stop offset=".185" stop-color="#fdefe7"/><stop offset=".190" stop-color="#fdeae0"/><stop offset=".203" stop-color="#fcdece"/><stop offset=".216" stop-color="#fcdac8"/><stop offset=".228" stop-color="#fce2d3"/><stop offset=".241" stop-color="#fdefe7"/><stop offset=".246" stop-color="#f0f3f9"/><stop offset=".259" stop-color="#e1eaf4"/><stop offset=".276" stop-color="#d9e4f1"/><stop offset=".289" stop-color="#dde7f2"/><stop offset=".310" stop-color="#f1f4f9"/><stop offset=".315" stop-color="#fdefe6"/><stop offset=".323" stop-color="#fde8dc"/><stop offset=".336" stop-color="#fce2d4"/><stop offset=".349" stop-color="#fce5d8"/><stop offset=".366" stop-color="#fdefe6"/><stop offset=".371" stop-color="#f3f5fa"/><stop offset=".379" stop-color="#f0f3f9"/><stop offset=".392" stop-color="#f2f5f9"/><stop offset=".397" stop-color="#f8f3f2"/><stop offset=".401" stop-color="#fdeee5"/><stop offset=".431" stop-color="#fce0d1"/><stop offset=".487" stop-color="#fbd1bb"/><stop offset=".543" stop-color="#facab1"/><stop offset=".560" stop-color="#f9c3a7"/><stop offset=".582" stop-color="#f8b494"/><stop offset=".616" stop-color="#f7a27e"/><stop offset=".651" stop-color="#f6966e"/><stop offset=".672" stop-color="#f59268"/><stop offset=".685" stop-color="#f59168"/><stop offset=".707" stop-color="#f6956c"/><stop offset=".724" stop-color="#f69c76"/><stop offset=".733" stop-color="#f7a480"/><stop offset=".741" stop-color="#f8b08f"/><stop offset=".754" stop-color="#fac9af"/><stop offset=".776" stop-color="#fdece3"/><stop offset=".780" stop-color="#f1f4f9"/><stop offset=".806" stop-color="#d2dfef"/><stop offset=".823" stop-color="#cad9ec"/><stop offset=".836" stop-color="#ccdbed"/><stop offset=".875" stop-color="#dce6f2"/><stop offset="1" stop-color="#dbe5f2"/></linearGradient><linearGradient id="w80" gradientUnits="userSpaceOnUse" x1="18" x2="714" y1="0" y2="0"><stop offset=".000" stop-color="#e7edf6"/><stop offset=".121" stop-color="#e9eef6"/><stop offset=".159" stop-color="#e2eaf4"/><stop offset=".168" stop-color="#e5ecf5"/><stop offset=".181" stop-color="#f1f4f9"/><stop offset=".185" stop-color="#fdeee5"/><stop offset=".194" stop-color="#fce4d7"/><stop offset=".207" stop-color="#fcd9c7"/><stop offset=".216" stop-color="#fcd8c5"/><stop offset=".224" stop-color="#fcdece"/><stop offset=".237" stop-color="#fdede3"/><stop offset=".241" stop-color="#f1f4f9"/><stop offset=".263" stop-color="#d3dfef"/><stop offset=".272" stop-color="#cddbed"/><stop offset=".280" stop-color="#ccdbed"/><stop offset=".289" stop-color="#d1deee"/><stop offset=".315" stop-color="#f0f3f9"/><stop offset=".319" stop-color="#fdefe7"/><stop offset=".328" stop-color="#fde8dd"/><stop offset=".341" stop-color="#fce5d8"/><stop offset=".358" stop-color="#fdeee5"/><stop offset=".362" stop-color="#f3f5fa"/><stop offset=".379" stop-color="#eaeff7"/><stop offset=".388" stop-color="#ebf0f7"/><stop offset=".401" stop-color="#f2f5f9"/><stop offset=".405" stop-color="#fdefe6"/><stop offset=".431" stop-color="#fcdece"/><stop offset=".457" stop-color="#fbd3bd"/><stop offset=".496" stop-color="#facab1"/><stop offset=".539" stop-color="#f9c6ab"/><stop offset=".547" stop-color="#f9c3a7"/><stop offset=".599" stop-color="#f7a17c"/><stop offset=".651" stop-color="#f58c61"/><stop offset=".672" stop-color="#f4895c"/><stop offset=".694" stop-color="#f48b5f"/><stop offset=".716" stop-color="#f59268"/><stop offset=".733" stop-color="#f79e79"/><stop offset=".746" stop-color="#f8b494"/><stop offset=".772" stop-color="#fdeadf"/><stop offset=".776" stop-color="#f2f5f9"/><stop offset=".793" stop-color="#d3dfef"/><stop offset=".802" stop-color="#c7d7eb"/><stop offset=".810" stop-color="#c0d2e8"/><stop offset=".823" stop-color="#bccfe7"/><stop offset=".836" stop-color="#bfd1e8"/><stop offset=".862" stop-color="#ccdaec"/><stop offset=".879" stop-color="#d0ddee"/><stop offset=".918" stop-color="#cddced"/><stop offset="1" stop-color="#cedced"/></linearGradient><linearGradient id="w81" gradientUnits="userSpaceOnUse" x1="18" x2="714" y1="0" y2="0"><stop offset=".000" stop-color="#eaf0f7"/><stop offset=".082" stop-color="#e9eff6"/><stop offset=".116" stop-color="#ecf0f7"/><stop offset=".159" stop-color="#e3ebf4"/><stop offset=".168" stop-color="#e6ecf5"/><stop offset=".181" stop-color="#f2f5f9"/><stop offset=".185" stop-color="#fdede4"/><stop offset=".190" stop-color="#fde8dc"/><stop offset=".203" stop-color="#fcdbc9"/><stop offset=".211" stop-color="#fbd7c3"/><stop offset=".220" stop-color="#fcdac8"/><stop offset=".237" stop-color="#fdefe7"/><stop offset=".241" stop-color="#edf1f8"/><stop offset=".263" stop-color="#c8d8eb"/><stop offset=".276" stop-color="#c0d2e8"/><stop offset=".289" stop-color="#c6d6ea"/><stop offset=".319" stop-color="#f1f4f9"/><stop offset=".323" stop-color="#fdefe7"/><stop offset=".332" stop-color="#fde9de"/><stop offset=".341" stop-color="#fde8dd"/><stop offset=".353" stop-color="#fdefe7"/><stop offset=".358" stop-color="#f1f4f9"/><stop offset=".371" stop-color="#e6edf5"/><stop offset=".379" stop-color="#e3ebf4"/><stop offset=".388" stop-color="#e4ecf5"/><stop offset=".405" stop-color="#f2f5f9"/><stop offset=".409" stop-color="#fdeee6"/><stop offset=".414" stop-color="#fdebe0"/><stop offset=".440" stop-color="#fbd6c3"/><stop offset=".461" stop-color="#facbb2"/><stop offset=".483" stop-color="#f9c7ac"/><stop offset=".526" stop-color="#f9c4a9"/><stop offset=".543" stop-color="#f9bfa2"/><stop offset=".582" stop-color="#f7a480"/><stop offset=".608" stop-color="#f6966e"/><stop offset=".638" stop-color="#f4895c"/><stop offset=".664" stop-color="#f38152"/><stop offset=".681" stop-color="#f38253"/><stop offset=".716" stop-color="#f58d62"/><stop offset=".733" stop-color="#f69a73"/><stop offset=".737" stop-color="#f79f7a"/><stop offset=".746" stop-color="#f8b190"/><stop offset=".754" stop-color="#f9c8ae"/><stop offset=".772" stop-color="#fdeee5"/><stop offset=".776" stop-color="#edf1f8"/><stop offset=".789" stop-color="#cfdded"/><stop offset=".797" stop-color="#bfd1e8"/><stop offset=".810" stop-color="#b0c7e3"/><stop offset=".819" stop-color="#adc4e2"/><stop offset=".828" stop-color="#aec5e2"/><stop offset=".871" stop-color="#c4d5ea"/><stop offset="1" stop-color="#c3d4e9"/></linearGradient><linearGradient id="w82" gradientUnits="userSpaceOnUse" x1="18" x2="714" y1="0" y2="0"><stop offset=".000" stop-color="#edf1f8"/><stop offset=".086" stop-color="#ebf0f7"/><stop offset=".121" stop-color="#eef2f8"/><stop offset=".159" stop-color="#e4ebf5"/><stop offset=".168" stop-color="#e6edf5"/><stop offset=".181" stop-color="#f2f5f9"/><stop offset=".185" stop-color="#fdede3"/><stop offset=".198" stop-color="#fcdfcf"/><stop offset=".211" stop-color="#fbd7c4"/><stop offset=".220" stop-color="#fcdbca"/><stop offset=".233" stop-color="#fdebe1"/><stop offset=".237" stop-color="#f2f4f9"/><stop offset=".263" stop-color="#bfd2e8"/><stop offset=".272" stop-color="#b7cce5"/><stop offset=".280" stop-color="#b6cbe5"/><stop offset=".293" stop-color="#c2d3e9"/><stop offset=".310" stop-color="#e0e9f3"/><stop offset=".323" stop-color="#f1f4f9"/><stop offset=".328" stop-color="#fdefe7"/><stop offset=".336" stop-color="#fdece2"/><stop offset=".345" stop-color="#fdeee4"/><stop offset=".349" stop-color="#f6f5f6"/><stop offset=".353" stop-color="#f0f3f9"/><stop offset=".366" stop-color="#e3ebf4"/><stop offset=".379" stop-color="#dce6f2"/><stop offset=".392" stop-color="#e0e9f3"/><stop offset=".409" stop-color="#f2f5f9"/><stop offset=".414" stop-color="#fdede4"/><stop offset=".440" stop-color="#fbd5c0"/><stop offset=".457" stop-color="#fac8ae"/><stop offset=".478" stop-color="#f9c3a6"/><stop offset=".509" stop-color="#f9c3a7"/><stop offset=".534" stop-color="#f9bea1"/><stop offset=".547" stop-color="#f8b899"/><stop offset=".582" stop-color="#f79f7a"/><stop offset=".599" stop-color="#f6966d"/><stop offset=".642" stop-color="#f38151"/><stop offset=".664" stop-color="#f27c49"/><stop offset=".677" stop-color="#f27d4b"/><stop offset=".711" stop-color="#f4895c"/><stop offset=".720" stop-color="#f58c61"/><stop offset=".733" stop-color="#f6976f"/><stop offset=".741" stop-color="#f7a480"/><stop offset=".746" stop-color="#f8ae8d"/><stop offset=".754" stop-color="#f9c8ad"/><stop offset=".767" stop-color="#fde7db"/><stop offset=".772" stop-color="#f3f5fa"/><stop offset=".789" stop-color="#c5d5ea"/><stop offset=".797" stop-color="#b2c8e4"/><stop offset=".806" stop-color="#a6bfdf"/><stop offset=".815" stop-color="#a0bbdd"/><stop offset=".836" stop-color="#a6c0df"/><stop offset=".871" stop-color="#bbcee7"/><stop offset="1" stop-color="#b9cde6"/></linearGradient><linearGradient id="w83" gradientUnits="userSpaceOnUse" x1="18" x2="714" y1="0" y2="0"><stop offset=".000" stop-color="#eef2f8"/><stop offset=".091" stop-color="#ecf1f7"/><stop offset=".116" stop-color="#eff2f8"/><stop offset=".159" stop-color="#e4ecf5"/><stop offset=".168" stop-color="#e6edf5"/><stop offset=".181" stop-color="#f2f4f9"/><stop offset=".185" stop-color="#fdeee5"/><stop offset=".198" stop-color="#fce0d1"/><stop offset=".211" stop-color="#fcdac8"/><stop offset=".220" stop-color="#fcdece"/><stop offset=".233" stop-color="#fdeee5"/><stop offset=".237" stop-color="#eef2f8"/><stop offset=".259" stop-color="#c0d2e9"/><stop offset=".267" stop-color="#b4c9e4"/><stop offset=".276" stop-color="#aec5e2"/><stop offset=".284" stop-color="#b2c8e3"/><stop offset=".293" stop-color="#bccfe7"/><stop offset=".310" stop-color="#dce6f2"/><stop offset=".328" stop-color="#f1f4f9"/><stop offset=".332" stop-color="#f5f5f8"/><stop offset=".336" stop-color="#fdefe7"/><stop offset=".341" stop-color="#fdf0e8"/><stop offset=".345" stop-color="#f2f5f9"/><stop offset=".371" stop-color="#d7e3f0"/><stop offset=".379" stop-color="#d2dfee"/><stop offset=".384" stop-color="#d2dfef"/><stop offset=".392" stop-color="#d9e4f1"/><stop offset=".414" stop-color="#f3f5fa"/><stop offset=".418" stop-color="#fdece2"/><stop offset=".444" stop-color="#fad0b9"/><stop offset=".461" stop-color="#f9c4a7"/><stop offset=".474" stop-color="#f9bfa2"/><stop offset=".517" stop-color="#f9c1a4"/><stop offset=".539" stop-color="#f8ba9c"/><stop offset=".595" stop-color="#f6956d"/><stop offset=".642" stop-color="#f27d4c"/><stop offset=".659" stop-color="#f17945"/><stop offset=".681" stop-color="#f27c4a"/><stop offset=".716" stop-color="#f4895d"/><stop offset=".733" stop-color="#f6956d"/><stop offset=".737" stop-color="#f69b74"/><stop offset=".746" stop-color="#f8ad8b"/><stop offset=".767" stop-color="#fde9de"/><stop offset=".772" stop-color="#f0f4f9"/><stop offset=".789" stop-color="#bed0e8"/><stop offset=".797" stop-color="#a9c1e0"/><stop offset=".802" stop-color="#a1bcdd"/><stop offset=".810" stop-color="#99b6db"/><stop offset=".823" stop-color="#99b6da"/><stop offset=".862" stop-color="#b0c6e3"/><stop offset=".879" stop-color="#b5cae4"/><stop offset=".918" stop-color="#b1c8e3"/><stop offset="1" stop-color="#b1c7e3"/></linearGradient><linearGradient id="w84" gradientUnits="userSpaceOnUse" x1="18" x2="714" y1="0" y2="0"><stop offset=".000" stop-color="#eef2f8"/><stop offset=".125" stop-color="#eef2f8"/><stop offset=".164" stop-color="#e4ecf5"/><stop offset=".181" stop-color="#f0f3f9"/><stop offset=".185" stop-color="#fdf0e8"/><stop offset=".198" stop-color="#fce4d6"/><stop offset=".207" stop-color="#fcdfcf"/><stop offset=".216" stop-color="#fce0d0"/><stop offset=".228" stop-color="#fdece2"/><stop offset=".233" stop-color="#f2f5f9"/><stop offset=".241" stop-color="#e3eaf4"/><stop offset=".259" stop-color="#bed1e8"/><stop offset=".272" stop-color="#aec5e2"/><stop offset=".280" stop-color="#adc4e2"/><stop offset=".293" stop-color="#bacee6"/><stop offset=".310" stop-color="#d9e4f1"/><stop offset=".319" stop-color="#e5ecf5"/><stop offset=".332" stop-color="#f0f3f9"/><stop offset=".345" stop-color="#edf1f8"/><stop offset=".358" stop-color="#e0e8f3"/><stop offset=".371" stop-color="#cedced"/><stop offset=".379" stop-color="#c8d7eb"/><stop offset=".384" stop-color="#c8d8eb"/><stop offset=".392" stop-color="#cedced"/><stop offset=".418" stop-color="#f3f6fa"/><stop offset=".422" stop-color="#fdebe1"/><stop offset=".444" stop-color="#fbd1bc"/><stop offset=".457" stop-color="#f9c6aa"/><stop offset=".474" stop-color="#f9bea1"/><stop offset=".509" stop-color="#f9c2a6"/><stop offset=".522" stop-color="#f9c0a4"/><stop offset=".539" stop-color="#f8ba9c"/><stop offset=".582" stop-color="#f69d77"/><stop offset=".629" stop-color="#f38354"/><stop offset=".659" stop-color="#f17946"/><stop offset=".672" stop-color="#f17b48"/><stop offset=".720" stop-color="#f58c60"/><stop offset=".733" stop-color="#f6956d"/><stop offset=".741" stop-color="#f7a17d"/><stop offset=".746" stop-color="#f8ac8a"/><stop offset=".754" stop-color="#f9c7ad"/><stop offset=".767" stop-color="#fdeadf"/><stop offset=".772" stop-color="#eff3f8"/><stop offset=".793" stop-color="#aec5e2"/><stop offset=".802" stop-color="#9eb9dc"/><stop offset=".810" stop-color="#96b4d9"/><stop offset=".823" stop-color="#97b5da"/><stop offset=".849" stop-color="#a6bfdf"/><stop offset=".879" stop-color="#b1c7e3"/><stop offset=".927" stop-color="#adc5e2"/><stop offset="1" stop-color="#adc4e2"/></linearGradient><linearGradient id="w85" gradientUnits="userSpaceOnUse" x1="18" x2="714" y1="0" y2="0"><stop offset=".000" stop-color="#ecf1f7"/><stop offset=".125" stop-color="#ecf0f7"/><stop offset=".164" stop-color="#e3ebf4"/><stop offset=".172" stop-color="#e6edf5"/><stop offset=".185" stop-color="#f0f4f9"/><stop offset=".190" stop-color="#fdf0e8"/><stop offset=".207" stop-color="#fce6d9"/><stop offset=".216" stop-color="#fde6da"/><stop offset=".224" stop-color="#fdece3"/><stop offset=".228" stop-color="#f3f6fa"/><stop offset=".241" stop-color="#e0e9f3"/><stop offset=".259" stop-color="#c0d2e9"/><stop offset=".276" stop-color="#b2c8e4"/><stop offset=".284" stop-color="#b5cae4"/><stop offset=".293" stop-color="#bdd0e7"/><stop offset=".315" stop-color="#dee7f3"/><stop offset=".332" stop-color="#ebf0f7"/><stop offset=".345" stop-color="#e7edf6"/><stop offset=".353" stop-color="#dee7f3"/><stop offset=".371" stop-color="#c4d5ea"/><stop offset=".384" stop-color="#bed0e8"/><stop offset=".397" stop-color="#c9d8ec"/><stop offset=".422" stop-color="#f3f5fa"/><stop offset=".427" stop-color="#fdebe1"/><stop offset=".448" stop-color="#fbd0ba"/><stop offset=".461" stop-color="#f9c5aa"/><stop offset=".474" stop-color="#f9c1a4"/><stop offset=".504" stop-color="#f9c5aa"/><stop offset=".530" stop-color="#f9c1a5"/><stop offset=".552" stop-color="#f8b697"/><stop offset=".599" stop-color="#f6966e"/><stop offset=".634" stop-color="#f38456"/><stop offset=".655" stop-color="#f27e4d"/><stop offset=".672" stop-color="#f2804f"/><stop offset=".703" stop-color="#f48b5f"/><stop offset=".724" stop-color="#f59066"/><stop offset=".733" stop-color="#f6966e"/><stop offset=".741" stop-color="#f7a27e"/><stop offset=".746" stop-color="#f8ac8b"/><stop offset=".754" stop-color="#f9c7ad"/><stop offset=".767" stop-color="#fde9de"/><stop offset=".772" stop-color="#f0f3f9"/><stop offset=".784" stop-color="#c8d8eb"/><stop offset=".797" stop-color="#a7c0e0"/><stop offset=".810" stop-color="#9bb7db"/><stop offset=".823" stop-color="#9cb8dc"/><stop offset=".858" stop-color="#adc4e2"/><stop offset=".879" stop-color="#b2c8e3"/><stop offset=".918" stop-color="#afc6e3"/><stop offset="1" stop-color="#afc5e2"/></linearGradient><linearGradient id="w86" gradientUnits="userSpaceOnUse" x1="18" x2="714" y1="0" y2="0"><stop offset=".000" stop-color="#e8eef6"/><stop offset=".129" stop-color="#e7edf6"/><stop offset=".164" stop-color="#e1eaf4"/><stop offset=".181" stop-color="#e7eef6"/><stop offset=".203" stop-color="#f4f6fa"/><stop offset=".207" stop-color="#fdefe7"/><stop offset=".216" stop-color="#fdf0e8"/><stop offset=".220" stop-color="#f2f5f9"/><stop offset=".237" stop-color="#e3eaf4"/><stop offset=".259" stop-color="#c7d7eb"/><stop offset=".272" stop-color="#bfd1e8"/><stop offset=".289" stop-color="#c1d3e9"/><stop offset=".319" stop-color="#e1e9f4"/><stop offset=".332" stop-color="#e6edf5"/><stop offset=".349" stop-color="#dce6f2"/><stop offset=".375" stop-color="#b5cae5"/><stop offset=".384" stop-color="#b2c8e3"/><stop offset=".392" stop-color="#b8cde6"/><stop offset=".401" stop-color="#c3d4ea"/><stop offset=".427" stop-color="#f1f4f9"/><stop offset=".431" stop-color="#fdede4"/><stop offset=".435" stop-color="#fde7db"/><stop offset=".453" stop-color="#fbd2bd"/><stop offset=".461" stop-color="#facbb2"/><stop offset=".474" stop-color="#f9c7ac"/><stop offset=".500" stop-color="#facab1"/><stop offset=".526" stop-color="#fac8ae"/><stop offset=".547" stop-color="#f9c0a3"/><stop offset=".595" stop-color="#f79f7a"/><stop offset=".616" stop-color="#f5936a"/><stop offset=".651" stop-color="#f4875a"/><stop offset=".672" stop-color="#f4895c"/><stop offset=".698" stop-color="#f59167"/><stop offset=".724" stop-color="#f6956c"/><stop offset=".733" stop-color="#f69a73"/><stop offset=".741" stop-color="#f7a481"/><stop offset=".746" stop-color="#f8ae8d"/><stop offset=".767" stop-color="#fde8dc"/><stop offset=".772" stop-color="#f2f5f9"/><stop offset=".784" stop-color="#cedced"/><stop offset=".793" stop-color="#bacee6"/><stop offset=".802" stop-color="#acc4e1"/><stop offset=".810" stop-color="#a7c0e0"/><stop offset=".866" stop-color="#b8cce5"/><stop offset="1" stop-color="#b7cbe5"/></linearGradient><linearGradient id="w87" gradientUnits="userSpaceOnUse" x1="18" x2="714" y1="0" y2="0"><stop offset=".000" stop-color="#e1e9f4"/><stop offset=".121" stop-color="#e1e9f4"/><stop offset=".168" stop-color="#dee8f3"/><stop offset=".216" stop-color="#e5ecf5"/><stop offset=".241" stop-color="#dde6f2"/><stop offset=".259" stop-color="#d3e0ef"/><stop offset=".276" stop-color="#cfddee"/><stop offset=".293" stop-color="#d2dfef"/><stop offset=".319" stop-color="#e0e9f3"/><stop offset=".332" stop-color="#e1e9f4"/><stop offset=".341" stop-color="#dde6f2"/><stop offset=".375" stop-color="#a9c2e0"/><stop offset=".384" stop-color="#a5bedf"/><stop offset=".397" stop-color="#aec5e2"/><stop offset=".435" stop-color="#f3f5fa"/><stop offset=".440" stop-color="#fdebe1"/><stop offset=".453" stop-color="#fcdccb"/><stop offset=".466" stop-color="#fbd2bc"/><stop offset=".478" stop-color="#facfb8"/><stop offset=".504" stop-color="#fbd2bd"/><stop offset=".526" stop-color="#fad0b9"/><stop offset=".565" stop-color="#f9c0a4"/><stop offset=".616" stop-color="#f79e78"/><stop offset=".634" stop-color="#f6976f"/><stop offset=".651" stop-color="#f5946b"/><stop offset=".668" stop-color="#f6956c"/><stop offset=".703" stop-color="#f69c76"/><stop offset=".720" stop-color="#f69b75"/><stop offset=".733" stop-color="#f79f7a"/><stop offset=".737" stop-color="#f7a27f"/><stop offset=".746" stop-color="#f8b190"/><stop offset=".763" stop-color="#fcdccb"/><stop offset=".772" stop-color="#fdeee5"/><stop offset=".776" stop-color="#ecf1f7"/><stop offset=".793" stop-color="#c8d7eb"/><stop offset=".797" stop-color="#c2d4e9"/><stop offset=".810" stop-color="#bccfe7"/><stop offset=".849" stop-color="#c3d4e9"/><stop offset="1" stop-color="#c3d4e9"/></linearGradient><linearGradient id="w88" gradientUnits="userSpaceOnUse" x1="18" x2="714" y1="0" y2="0"><stop offset=".000" stop-color="#dce6f2"/><stop offset=".280" stop-color="#dae5f1"/><stop offset=".323" stop-color="#e0e9f3"/><stop offset=".341" stop-color="#d8e3f1"/><stop offset=".353" stop-color="#c6d6ea"/><stop offset=".371" stop-color="#a9c1e0"/><stop offset=".384" stop-color="#9ebadc"/><stop offset=".392" stop-color="#a1bcdd"/><stop offset=".401" stop-color="#abc3e1"/><stop offset=".418" stop-color="#cadaec"/><stop offset=".427" stop-color="#dde7f2"/><stop offset=".440" stop-color="#f3f5fa"/><stop offset=".444" stop-color="#fdebe1"/><stop offset=".457" stop-color="#fcdecd"/><stop offset=".470" stop-color="#fbd6c2"/><stop offset=".513" stop-color="#fbd7c4"/><stop offset=".534" stop-color="#fbd2bd"/><stop offset=".573" stop-color="#f9c3a7"/><stop offset=".621" stop-color="#f7a37f"/><stop offset=".647" stop-color="#f69c76"/><stop offset=".659" stop-color="#f69c76"/><stop offset=".694" stop-color="#f7a27e"/><stop offset=".724" stop-color="#f7a07b"/><stop offset=".737" stop-color="#f7a683"/><stop offset=".746" stop-color="#f8b393"/><stop offset=".772" stop-color="#fdebe1"/><stop offset=".776" stop-color="#f0f3f9"/><stop offset=".793" stop-color="#d1deee"/><stop offset=".802" stop-color="#c9d9ec"/><stop offset=".810" stop-color="#c7d7eb"/><stop offset=".836" stop-color="#ccdaec"/><stop offset="1" stop-color="#cadaec"/></linearGradient><linearGradient id="w89" gradientUnits="userSpaceOnUse" x1="18" x2="714" y1="0" y2="0"><stop offset=".000" stop-color="#dce6f2"/><stop offset=".280" stop-color="#dae5f1"/><stop offset=".323" stop-color="#e0e9f3"/><stop offset=".341" stop-color="#d8e3f1"/><stop offset=".353" stop-color="#c6d6ea"/><stop offset=".371" stop-color="#a9c1e0"/><stop offset=".384" stop-color="#9ebadc"/><stop offset=".392" stop-color="#a1bcdd"/><stop offset=".401" stop-color="#abc3e1"/><stop offset=".418" stop-color="#cadaec"/><stop offset=".427" stop-color="#dde7f2"/><stop offset=".440" stop-color="#f3f5fa"/><stop offset=".444" stop-color="#fdebe1"/><stop offset=".457" stop-color="#fcdecd"/><stop offset=".470" stop-color="#fbd6c2"/><stop offset=".513" stop-color="#fbd7c4"/><stop offset=".534" stop-color="#fbd2bd"/><stop offset=".573" stop-color="#f9c3a7"/><stop offset=".621" stop-color="#f7a37f"/><stop offset=".647" stop-color="#f69c76"/><stop offset=".659" stop-color="#f69c76"/><stop offset=".694" stop-color="#f7a27e"/><stop offset=".724" stop-color="#f7a07b"/><stop offset=".737" stop-color="#f7a683"/><stop offset=".746" stop-color="#f8b393"/><stop offset=".772" stop-color="#fdebe1"/><stop offset=".776" stop-color="#f0f3f9"/><stop offset=".793" stop-color="#d1deee"/><stop offset=".802" stop-color="#c9d9ec"/><stop offset=".810" stop-color="#c7d7eb"/><stop offset=".836" stop-color="#ccdaec"/><stop offset="1" stop-color="#cadaec"/></linearGradient></defs><rect x="18" y="58" width="696" height="4.6" fill="url(#w0)"/>
<rect x="18" y="62" width="696" height="4.6" fill="url(#w1)"/>
<rect x="18" y="66" width="696" height="4.6" fill="url(#w2)"/>
<rect x="18" y="70" width="696" height="4.6" fill="url(#w3)"/>
<rect x="18" y="74" width="696" height="4.6" fill="url(#w4)"/>
<rect x="18" y="78" width="696" height="4.6" fill="url(#w5)"/>
<rect x="18" y="82" width="696" height="4.6" fill="url(#w6)"/>
<rect x="18" y="86" width="696" height="4.6" fill="url(#w7)"/>
<rect x="18" y="90" width="696" height="4.6" fill="url(#w8)"/>
<rect x="18" y="94" width="696" height="4.6" fill="url(#w9)"/>
<rect x="18" y="98" width="696" height="4.6" fill="url(#w10)"/>
<rect x="18" y="102" width="696" height="4.6" fill="url(#w11)"/>
<rect x="18" y="106" width="696" height="4.6" fill="url(#w12)"/>
<rect x="18" y="110" width="696" height="4.6" fill="url(#w13)"/>
<rect x="18" y="114" width="696" height="4.6" fill="url(#w14)"/>
<rect x="18" y="118" width="696" height="4.6" fill="url(#w15)"/>
<rect x="18" y="122" width="696" height="4.6" fill="url(#w16)"/>
<rect x="18" y="126" width="696" height="4.6" fill="url(#w17)"/>
<rect x="18" y="130" width="696" height="4.6" fill="url(#w18)"/>
<rect x="18" y="134" width="696" height="4.6" fill="url(#w19)"/>
<rect x="18" y="138" width="696" height="4.6" fill="url(#w20)"/>
<rect x="18" y="142" width="696" height="4.6" fill="url(#w21)"/>
<rect x="18" y="146" width="696" height="4.6" fill="url(#w22)"/>
<rect x="18" y="150" width="696" height="4.6" fill="url(#w23)"/>
<rect x="18" y="154" width="696" height="4.6" fill="url(#w24)"/>
<rect x="18" y="158" width="696" height="4.6" fill="url(#w25)"/>
<rect x="18" y="162" width="696" height="4.6" fill="url(#w26)"/>
<rect x="18" y="166" width="696" height="4.6" fill="url(#w27)"/>
<rect x="18" y="170" width="696" height="4.6" fill="url(#w28)"/>
<rect x="18" y="174" width="696" height="4.6" fill="url(#w29)"/>
<rect x="18" y="178" width="696" height="4.6" fill="url(#w30)"/>
<rect x="18" y="182" width="696" height="4.6" fill="url(#w31)"/>
<rect x="18" y="186" width="696" height="4.6" fill="url(#w32)"/>
<rect x="18" y="190" width="696" height="4.6" fill="url(#w33)"/>
<rect x="18" y="194" width="696" height="4.6" fill="url(#w34)"/>
<rect x="18" y="198" width="696" height="4.6" fill="url(#w35)"/>
<rect x="18" y="202" width="696" height="4.6" fill="url(#w36)"/>
<rect x="18" y="206" width="696" height="4.6" fill="url(#w37)"/>
<rect x="18" y="210" width="696" height="4.6" fill="url(#w38)"/>
<rect x="18" y="214" width="696" height="4.6" fill="url(#w39)"/>
<rect x="18" y="218" width="696" height="4.6" fill="url(#w40)"/>
<rect x="18" y="222" width="696" height="4.6" fill="url(#w41)"/>
<rect x="18" y="226" width="696" height="4.6" fill="url(#w42)"/>
<rect x="18" y="230" width="696" height="4.6" fill="url(#w43)"/>
<rect x="18" y="234" width="696" height="4.6" fill="url(#w44)"/>
<rect x="18" y="238" width="696" height="4.6" fill="url(#w45)"/>
<rect x="18" y="242" width="696" height="4.6" fill="url(#w46)"/>
<rect x="18" y="246" width="696" height="4.6" fill="url(#w47)"/>
<rect x="18" y="250" width="696" height="4.6" fill="url(#w48)"/>
<rect x="18" y="254" width="696" height="4.6" fill="url(#w49)"/>
<rect x="18" y="258" width="696" height="4.6" fill="url(#w50)"/>
<rect x="18" y="262" width="696" height="4.6" fill="url(#w51)"/>
<rect x="18" y="266" width="696" height="4.6" fill="url(#w52)"/>
<rect x="18" y="270" width="696" height="4.6" fill="url(#w53)"/>
<rect x="18" y="274" width="696" height="4.6" fill="url(#w54)"/>
<rect x="18" y="278" width="696" height="4.6" fill="url(#w55)"/>
<rect x="18" y="282" width="696" height="4.6" fill="url(#w56)"/>
<rect x="18" y="286" width="696" height="4.6" fill="url(#w57)"/>
<rect x="18" y="290" width="696" height="4.6" fill="url(#w58)"/>
<rect x="18" y="294" width="696" height="4.6" fill="url(#w59)"/>
<rect x="18" y="298" width="696" height="4.6" fill="url(#w60)"/>
<rect x="18" y="302" width="696" height="4.6" fill="url(#w61)"/>
<rect x="18" y="306" width="696" height="4.6" fill="url(#w62)"/>
<rect x="18" y="310" width="696" height="4.6" fill="url(#w63)"/>
<rect x="18" y="314" width="696" height="4.6" fill="url(#w64)"/>
<rect x="18" y="318" width="696" height="4.6" fill="url(#w65)"/>
<rect x="18" y="322" width="696" height="4.6" fill="url(#w66)"/>
<rect x="18" y="326" width="696" height="4.6" fill="url(#w67)"/>
<rect x="18" y="330" width="696" height="4.6" fill="url(#w68)"/>
<rect x="18" y="334" width="696" height="4.6" fill="url(#w69)"/>
<rect x="18" y="338" width="696" height="4.6" fill="url(#w70)"/>
<rect x="18" y="342" width="696" height="4.6" fill="url(#w71)"/>
<rect x="18" y="346" width="696" height="4.6" fill="url(#w72)"/>
<rect x="18" y="350" width="696" height="4.6" fill="url(#w73)"/>
<rect x="18" y="354" width="696" height="4.6" fill="url(#w74)"/>
<rect x="18" y="358" width="696" height="4.6" fill="url(#w75)"/>
<rect x="18" y="362" width="696" height="4.6" fill="url(#w76)"/>
<rect x="18" y="366" width="696" height="4.6" fill="url(#w77)"/>
<rect x="18" y="370" width="696" height="4.6" fill="url(#w78)"/>
<rect x="18" y="374" width="696" height="4.6" fill="url(#w79)"/>
<rect x="18" y="378" width="696" height="4.6" fill="url(#w80)"/>
<rect x="18" y="382" width="696" height="4.6" fill="url(#w81)"/>
<rect x="18" y="386" width="696" height="4.6" fill="url(#w82)"/>
<rect x="18" y="390" width="696" height="4.6" fill="url(#w83)"/>
<rect x="18" y="394" width="696" height="4.6" fill="url(#w84)"/>
<rect x="18" y="398" width="696" height="4.6" fill="url(#w85)"/>
<rect x="18" y="402" width="696" height="4.6" fill="url(#w86)"/>
<rect x="18" y="406" width="696" height="4.6" fill="url(#w87)"/>
<rect x="18" y="410" width="696" height="4.6" fill="url(#w88)"/>
<rect x="18" y="414" width="696" height="4.6" fill="url(#w89)"/></g>
<path d="M20,227 L110,223 L205,222 L214,236 L205,250 L110,250 L20,247Z" fill="#cedced" opacity="0.8" filter="url(#b3)"/>
<ellipse cx="160" cy="233" rx="55" ry="9" fill="#b9cde6" opacity="0.5" filter="url(#b4)"/>
<path d="M80,252 L205,246 L226,318 L150,300 L80,268Z" fill="#dce6f2" opacity="0.6" filter="url(#b6)"/>
<ellipse cx="505" cy="80" rx="70" ry="9" fill="#cf4014" opacity="0.75" filter="url(#b5)"/>
<ellipse cx="205" cy="78" rx="35" ry="10" fill="#e65c24" opacity="0.8" filter="url(#b5)"/>
<ellipse cx="200" cy="118" rx="25" ry="14" fill="#b0c6e3" opacity="0.7" filter="url(#b6)"/>
<ellipse cx="482" cy="145" rx="28" ry="18" fill="#a2bcde" opacity="0.8" filter="url(#b6)"/>
<ellipse cx="525" cy="165" rx="27" ry="11" fill="#f17845" opacity="0.9" filter="url(#b4)"/>
<ellipse cx="535" cy="167" rx="12" ry="6" fill="#e65c24" opacity="0.6" filter="url(#b3)"/>
<ellipse cx="566" cy="176" rx="9" ry="8" fill="#cadaec" opacity="0.8" filter="url(#b3)"/>
<ellipse cx="306" cy="80" rx="16" ry="6" fill="#e1e9f4" opacity="0.7" filter="url(#b3)"/>
<ellipse cx="367" cy="205" rx="28" ry="4" fill="#e1e9f4" opacity="0.7" filter="url(#b3)"/>
<ellipse cx="292" cy="400" rx="18" ry="6" fill="#8aabd5" opacity="0.8" filter="url(#b4)"/>
<ellipse cx="485" cy="392" rx="30" ry="7" fill="#ef7038" opacity="0.8" filter="url(#b5)"/>
<ellipse cx="595" cy="372" rx="22" ry="6" fill="#8aabd5" opacity="0.8" filter="url(#b4)"/>
<ellipse cx="120" cy="372" rx="28" ry="6" fill="#cadaec" opacity="0.7" filter="url(#b4)"/>
<path d="M124.9,98.7 134.4,93.7 141.6,91.3 149,89.5 155.4,88.3 160.6,89 164.5,90 170.9,90.4 173.8,91.3 177.1,92.6 182.1,91.3 188.6,90.4 190.9,90.7 194.2,91.5 200.3,90.9 204.1,92.6 207.2,93.7 212.2,94.2 219.2,92.7 223.1,94.6 228.7,94.6 232.2,93.7 236.1,91.5 236.6,93.5 240.9,93.3 244.8,93.7 249.6,90.9 252.4,92.7 251,95.7 247.6,97.5 243.8,97 240.1,100.2 233.7,102.1 227.5,105.6 222.5,109.5 220.8,111.8 221.9,115 225.6,115.4 230.3,118.1 235.5,119.3 233.4,123.6 234.4,127.1 237.1,126.7 239.6,121.5 244.6,117.9 247.1,112.4 248.1,108.5 251.2,104.6 256.1,105 259.4,107.1 259.5,111.5 261.8,113 266.4,109.9 268.4,108.9 268.6,113.4 269.2,117.5 272.3,119.5 274.3,121.5 275.4,125.6 272.9,126.9 267.1,129.4 259.7,129.4 254.9,131.2 249.8,134 258,131.9 259,132.9 257.2,134.4 257.3,136.5 258.5,138.2 262.4,139 262.3,139.7 257.6,141.1 253,143.3 252.9,141.3 256.3,139.7 251.8,140.3 248.7,142 245.4,143.3 243.7,145.4 244.5,147.1 242.6,147.7 236.9,149.6 235.9,151.8 234.1,153.3 232.7,154.4 231.1,157.4 230.6,158.4 230.9,161 228.7,162.3 225.6,164 223.1,165.5 219.8,167.7 217.9,170.3 217.5,172.9 218.2,175.9 218.5,179.3 217.6,182.3 216,182.8 215.1,180.8 214,177.4 214.4,174.6 213.4,172.6 211.8,172.4 209.2,171.6 205.7,171.3 202.8,172 202.6,174.4 200.4,174.1 197.9,173.3 194.2,173.3 191.1,175 187.8,177.2 186.2,181 184.9,185.3 184.2,189.6 184.7,192.9 186.1,195.7 189,197.8 192.9,197 195.8,196.1 197.3,192.9 197.7,191.6 202.1,190.7 204.3,191.1 202.6,194.4 201.2,197.6 200.2,201.5 201.5,203 206.2,202.8 209.2,204.5 208.5,207.9 207.7,213.3 210.3,217.6 212.6,217.8 215.5,216.5 218.3,217.6 220.1,218.7 222.1,216.8 223.2,214.4 225.1,213.3 228,212.7 230,211.6 231.4,210.3 230.6,213.3 233.7,212 236.4,214.2 241.2,214.2 245,214.2 248.7,214 250.6,215.5 252.3,218.7 256,222.4 261.6,224.3 265.4,224.9 268.2,228 270,233.1 271,235.9 273.8,239.2 278.6,239.2 282.4,242.4 288.1,243.2 291.9,245.2 295.4,247.5 299,248.4 300,253.1 299.5,256.8 296,260.7 293,265 292.4,269.3 292.5,274.7 291.8,279 290.1,284.4 288,286.3 283.2,287.2 278.9,289.5 276.4,292.5 276.7,298.3 274.9,302.7 272.6,305.5 270.5,309.1 268.2,311.9 264.7,311.9 261.1,311.3 264,314.9 264.1,318.8 256.8,320.7 257.2,324.4 252.9,324.8 253.3,327.3 255.5,327.8 254.9,329.3 254.6,332.9 251.7,335.8 255.8,339.6 252.7,345.3 253.8,348.8 255,349 253.3,351 257,354.3 259.5,354.5 253.5,354.9 247.9,351.4 243.3,347.3 241,341.1 240.2,336.9 240.4,333.7 240.2,329.5 237.9,326.3 237.3,322 235.5,317.1 236.3,313.4 236.7,308 235.7,302.7 235.1,297.3 235.6,290.8 235.1,282.2 234.4,276.4 231.9,274 224.9,270.4 222.1,266.1 220.2,262.8 217.4,257.5 214.3,253.1 211.9,249.9 211.6,246.3 213.5,244.3 214.2,241.7 212.2,239.2 213.9,235.3 215.9,233.3 216.8,231.4 218.8,228.4 219.4,223 218.3,221.3 217.3,219.1 215.4,217.8 213.4,219.8 211.5,219.6 208.7,219.1 206,216.3 203.9,214.2 204,212.9 201.3,209.2 199.1,208.6 195.4,207.1 192.4,205.6 189.5,202.6 187.5,202.1 184.6,203.2 181,201.9 176.6,199.8 172.2,197.6 169.2,192.9 170.1,190.7 169.1,187.5 166.2,183.2 164.3,179.3 162.2,176.7 160.9,173.5 159.7,169.6 157.7,168.5 157.4,171.3 158.6,175 159.4,178.4 160.5,181.5 161.2,184.9 162.7,187.1 161.8,187.7 161.3,186.4 159,184 158.8,181.5 156.9,179.3 155.7,177.2 156.6,175.7 154.8,172.4 154.3,169.2 154.1,167 152.8,163.8 149.5,162.5 149,158.2 149.1,155.6 148.6,152 150.3,146.7 154.1,141.3 156.4,137.5 158,133.1 161.4,132.3 159.8,129.8 157.1,127.7 158.7,124.6 158.8,120.5 159.8,117.5 158.6,114.4 157.4,112.4 154.9,111.8 153,109.9 148.9,109.5 146,107.9 141.6,108.5 136.4,110.5 136.3,108.5 130.8,111.5 127.8,113.4 121.6,115.6 114.5,117.9 108.8,119.5 103.8,120.5 107.7,119.1 114.5,116.5 120.4,113.8 124.7,112 119.9,112.2 119.6,109.9 117.9,108.1 120.6,105 124,103.2 131,101.7 132.3,100.8 128.9,100.6 124.8,100.4 124.9,98.7Z M356,159.5 354.6,157.8 352.9,156.9 350.2,157.4 350.5,154.1 349.3,153.5 350.4,149.9 350.7,146.7 350,144.5 352.3,143 356.5,143.5 360.8,143.7 363.4,143.7 364,140.7 364,137.8 362.3,135.6 358.5,134.2 358.2,132.7 361,132.3 363.3,132.5 363.7,130.4 366.3,130.8 368.5,129.4 368.9,127.7 371.2,127.1 372.8,125.6 373.7,123.6 376.4,122.6 379.6,122.3 379.7,119.5 378.7,116.5 379.4,115.2 382.4,114 382.1,116.5 383.1,116.9 382.2,119.1 381.6,119.9 383.4,121.5 385.9,120.7 388.7,121.7 392.3,120.5 395.6,120.1 397.6,120.7 399.6,119.1 398.8,115.8 400.9,114 404,115 402.1,112.2 403.8,110.5 408.7,110.5 410.8,109.5 406.8,108.5 403.9,109.1 400.2,109.5 398.2,107.9 397.9,104.6 398.9,102.1 402.1,99.8 402.3,98.5 400.4,98.3 397.9,98.9 396.8,101.1 393.9,103 392,105 391.9,107.5 394.5,109.5 393.3,111.6 391.6,114.4 391.1,117.1 388.5,118.7 386.2,118.3 385.6,116.5 384.2,113.4 382.9,111.5 382,109.9 380.6,111.5 378.4,113.2 376,113.2 374.4,111.8 373.6,108.5 373.4,105.6 375.6,104.4 378.5,102.7 380.5,100.8 383.2,98.9 384.5,97 386.3,94.8 387.5,93.3 389.5,92.4 392,90.9 395.9,90 399.7,88.8 403.8,88.8 407.7,90.6 411.5,91.8 415.8,92.4 423.6,94.9 423.4,97.4 420.3,97.9 415.5,97 411.9,96.1 415.6,98.9 416.5,100.8 420.1,102.1 421.2,100.8 424.8,100.8 428.9,97.9 426.9,93.3 430.2,93.8 433.3,94.8 439.7,93.3 442,93.8 446.4,92.7 449.3,93.1 449.5,90.9 454.2,91.8 459,93.1 461.5,93.8 460.3,90.6 456.4,88.8 456.7,86.1 457.5,84.4 460.3,85.6 463.3,87.9 468.1,94.2 470.2,94.2 466,87 468.7,86.1 470.4,84.2 477.6,83.6 476.7,81.9 482.3,80.5 489,79.7 490.7,79 493.6,77.4 499.2,78.9 504.6,79.2 510.2,81 511.8,83.9 520.2,84.4 527.9,85.3 532,84.4 538.6,87 543.1,87.9 548.4,87.9 551.3,86.5 556.5,86 567.2,87.9 572.8,89 577.9,88.8 584.6,90.6 587.9,91.5 593.6,91.1 598.2,90.6 602.9,90.9 607,90.9 615.4,92.7 626,99.8 628.3,104.6 624.9,106.5 624.1,109.5 618,109.5 614.7,109.9 616.5,113.4 620.7,115.4 621.8,117.5 622.4,119.5 624.2,123.6 623.7,125.6 622.7,127.7 617.7,123.6 610.8,117.5 608.3,114.4 610.4,113.4 610.1,110.5 610.8,108.5 609.5,105.6 605.4,106.5 600.9,106.5 602.4,110.5 598.5,111.1 592.2,110.9 586.1,110.9 583.6,111.5 583.3,113.4 583.2,117.5 584.4,120.5 588.5,121.5 594,123.6 595.6,125.6 597.8,129.8 599.9,132.9 599.1,136.1 598.7,139.2 598.1,143.5 595.5,145 592.5,145.6 591.7,148.8 592.9,150.9 591.4,153.1 595.1,156.3 597.4,160.6 594.8,162.3 592.7,162.5 591.8,159.5 590.1,156.3 588.3,155.9 585,151.6 580.1,149.9 577.4,149 579.9,153.1 577.1,149.2 575,152 573.9,154.1 576.6,156.3 578.2,156.9 580.4,155.9 583.5,156.9 581.1,159.5 580.2,161.7 583.6,166 586.3,168.1 587.6,170.3 588.3,172.4 588.8,175.7 587.5,177.8 586.5,181 585.4,184.3 583.1,186.4 579.7,187.9 577.1,189.2 572.7,190.7 571.2,192.9 569.9,190.7 567.1,190.5 564.7,192.9 564.1,195 563.5,197.2 565.9,200.4 568,202.6 570.8,204.7 572.2,209 572.4,212.2 570.2,213.8 568.1,214.8 564.9,218.3 564.4,216.5 564.6,214.4 561.8,214.4 559.6,211.2 556.6,209.7 554.6,208.2 554.9,211.2 553.7,215.5 555,217.2 556.1,219.8 556.6,221.9 558.5,222.4 560.5,224.1 562.3,227.3 562.5,231 564.1,234 562.7,234.2 559.8,232.3 557.9,230.5 556.6,227.3 556.3,224.1 555.1,221.9 552.3,219.8 552.1,217 552.7,214 552.1,211.2 550.1,205.1 548.7,201.5 545.2,203 543.2,201.9 543.1,198.3 540.9,195 538.4,191.8 536.7,188.8 534.4,189.6 531.7,190.1 528,190.7 527.5,193.9 524.9,195.5 520.4,200.4 517,203.6 517.2,207.9 516.8,212.7 516,214.8 513.8,218.7 512.3,219.6 510.4,216.5 508.9,212.2 507.1,209 505.3,204.7 503.6,200.4 502.2,196.1 501.5,191.8 501,190.1 497.5,192.2 494.3,189 496.1,187.9 493.1,186.4 490.6,184.3 488.9,182.3 484.3,182.5 479.7,182.8 475,182.3 471.8,181.2 470,178.7 466.4,179.7 461.5,177.2 458.7,173.5 455.4,172 453.6,172.4 454.9,175.7 457.1,178.9 459.2,181 460.4,184.3 463.3,184.9 466.1,184.9 469.5,182.1 470.2,183.6 472.7,186 475.7,188.6 477.2,189 475.1,192.9 474.1,196.1 471.5,198.5 469.2,200.4 463.7,202.6 458.3,206.4 450.9,209.4 448.1,209.9 446.6,205.8 445.8,201.5 443.1,197.2 439.7,192.9 438.6,189.6 437.4,185.8 435.4,183.2 433.3,180.4 430.6,176.7 429.8,173.5 428.8,176.7 427.7,177.2 425.4,172.9 427.6,177.8 429.7,181 432.2,186.4 434.7,189.6 435.7,195 438.1,198.3 440.3,203.6 444.2,207.3 447.8,212 450.2,214.6 454.8,212.9 459.6,212.7 462.7,211.6 462.7,214.4 461.3,218.7 459,224.1 456.8,227.7 453.4,232.3 449.6,234.8 445.8,238.7 443.7,242.4 441,246.7 440,251 440.9,254.2 441.7,259 442.5,261.8 442.5,267.1 441,271.9 435.3,275.3 432.1,280.1 431.8,284.8 431.8,288.7 427,291.5 426.4,294.3 425.6,298.3 423.2,300.5 420.5,304.2 416.6,307.6 412.8,309.8 408.3,310.2 402.2,311.9 399.3,310.6 398.9,307.6 397.5,302.7 396.2,298.6 394,295.1 392.9,286.5 392.1,283.3 388.5,276.8 388.1,273.6 389.2,267.1 391.5,263.9 391,257.5 389.3,250.3 389.2,247.8 386.9,245.2 384.1,241.7 383.7,237 384.2,232.7 384.6,229.5 382.5,227.3 379.3,227.5 377,227.7 374.5,223.4 370.7,223.4 367.9,224.3 364.1,226.2 362.2,226.9 358.4,225.8 355.6,226 351.8,227.5 348.9,226.2 344.2,222.1 341,218.7 340.8,215.9 338,213.8 337.7,211.6 334.5,210.1 333.8,205.8 335,202.6 335.7,197.2 335.2,195 334.3,191.8 336.3,186.4 338.2,183.6 339.2,181 341.7,177.4 344.9,176.3 347.7,173.5 348.3,170.7 349.2,167 353.4,164.2 355.5,159.9 357,161.2 360.6,161 362.4,161.4 366,159.7 369.6,158.2 374.9,157.8 380.2,157.6 383.7,156.7 385.5,157.4 384.7,158.6 385.7,160.6 384.3,163.4 386.2,165.5 388.6,166.4 393.2,167.5 394.3,169.2 397.8,170.3 400.6,171.8 402.4,170.3 402.4,167.7 404.9,166.4 407.6,166.8 411.4,168.5 415.1,169.6 418.8,170.5 422.3,169.2 424.7,169.8 428.1,169.6 429.2,167 429.3,164.9 430.2,161.7 430.3,159.7 429.7,158 427.4,157.8 424,159.3 420.3,158.4 417.6,158 414.9,157.4 413.8,155.2 412.6,152.4 411.9,150.9 414.1,150.3 416.6,149 417.4,148.8 420,148.6 423.2,146.7 426.7,146.7 429.5,148.2 433.1,149 435.7,148.8 438.1,147.7 437.9,145.4 434.8,143.7 431.8,141.6 430,140.9 431.2,138.2 431.9,135.9 430,136.1 426.7,136.7 425.4,138.8 426.3,140.1 423.2,141.3 421.2,139.4 422.9,138.2 419.1,136.9 417.6,137.8 416.3,139.7 415.2,141.3 414.3,144.5 414.6,147.5 416.5,148.8 414.8,148.8 411.9,149.6 409.6,149 407.4,149.6 405.8,149.9 407.3,152 406.6,154.1 408.4,154.8 405.9,155.9 406.1,158.4 404.6,157.6 403.2,155.6 403.4,154.1 401.5,152 399.9,149.9 399.9,147.3 398,145.6 395.3,143.9 392.6,142.4 390.7,139.9 389.1,138.8 386.9,139.7 387,141.3 389.4,143.5 391.1,146.7 393.8,147.7 396,149 398.4,150.7 397.4,150.9 395.7,149.9 395,152 396.1,153.1 394.7,155.2 393.8,155.2 393.6,152 392.3,150.5 390.4,149.2 387.7,147.7 385,145.6 384.1,144.5 383.1,142.4 381,141.6 378.9,142.8 376.3,144.3 373.7,143.5 371.3,144.3 371.6,146.9 369.5,148.4 367.4,148.8 366,151.4 365.5,152.4 366.4,153.7 364.8,156.1 362.4,158 358,158 356,159.5Z M116.6,92.7 122.8,91.5 121.4,95.1 123.7,96.4 123.4,97.9 116.3,100.8 114.6,98.9 108.9,99.8 106,99.8 M169.3,406.1 181.9,406.8 193,406.9 202.8,406.5 205.7,405.3 198.3,403.5 188.3,401.5 180.2,399.3 179.8,397.4 180.4,395.8 183.2,393.8 187.4,392.5 192,391.3 197.9,390.9 203.3,390.1 209.6,389.9 217.1,390.8 224.8,391.8 231.6,392.1 235.8,390.1 241.3,389.1 247.6,388.7 254.6,389.2 260.7,388.7 263.4,387 264.1,384.3 267.1,382.5 268.7,380.7 270.4,378.9 271.7,376.1 273.6,374.2 275.8,372.9 280.7,371 282.4,371.3 280.3,373.2 278.8,376.1 277.4,378.9 276.2,381.6 281.8,384.3 285.2,387.9 287.4,391.3 284.1,393.8 279.8,396.2 276.7,399.3 284.7,401.5 298,403.5 308.9,402.9 319.5,401.5 324,398.6 329.1,396.2 334.5,393.8 340,390.4 346.2,388.4 352.5,385.6 359.2,384.7 366,383.8 372.8,384 379.7,383.4 386.4,384 393.3,383.4 400,384 407.2,382.5 414.2,382.2 421.3,381.6 429.1,379.4 436.8,377.6 444.6,376.1 450.5,378.5 457.4,378.9 460.5,380.7 461.6,383.4 464.9,382.5 469.1,382.5 477.8,379.8 486.4,377.6 493.9,377 501.8,376.1 508.9,376.1 516,376.1 523.2,376.1 528.6,377.9 535.6,377.9 543.7,377 551.4,376.5 558.9,376.1 564.8,377.2 569.8,378.9 574.5,380.7 580.2,381.6 584.6,383.4 586.6,384.9 588.7,386.1 591.2,387.9 584.1,390.4 576.9,393 566.7,396.2 560.9,400.1 555.2,403.5 556.1,405.3 562.7,406.1 M261.7,84.1 265.7,85.6 269.9,89.1 273.1,90.6 273.6,92 276,95.1 278.1,96.6 274.1,98.9 270.9,100.8 270.6,103.6 264.3,105 261.1,102.7 260.5,101.1 258.2,100.2 254.4,99.2 260.5,97.5 263.4,95.1 260.4,93.3 259.5,90.9 254,90.6 248.9,90.9 246.5,89.7 245.9,87.9 252.1,86.1 254.9,84.4 261.7,84.1Z M206.4,87.9 211,85.6 218.4,85.5 224.9,84.9 223.4,89.7 227.7,90.9 225,92.4 219.7,92.2 208.9,93.3 204.7,92 203.7,89.7 206.4,87.9Z M199.4,87 208.3,83.1 212.4,84.4 212.3,86.1 206.4,87.9 200,88.8 199.4,87Z M255.9,79.4 262.9,79.9 269.8,77.3 277.3,74.7 285.1,72.1 295.5,70.7 293,69.9 281.9,69.7 267.1,70.7 259.1,72.5 259.7,73.9 250.9,76.2 255.9,79.4Z M247.6,82.5 263,82.5 264.8,79.9 255.9,79.4 250.2,80 247.6,82.5Z M239.4,87 243.4,87 247.7,84.4 245.3,83.6 240.5,84.4 239.4,87Z M229.2,87.9 233.7,88.8 238.4,85.3 235.8,83.9 229.2,87.9Z M216.3,81.9 224.8,82.2 232.6,80.5 228.8,79 220.4,79.7 216.3,81.9Z M237.7,81 242.8,81 245.2,78.9 239.5,79.5 237.7,81Z M248.4,77.3 256.5,76.6 260.3,72.5 252.6,73.9 248.4,77.3Z M213.4,79.4 218.5,80.2 222.7,78.1 217.5,78.2 213.4,79.4Z M242.6,82.4 246.5,82.4 247.9,81 243.9,81.2 242.6,82.4Z M259.1,85.6 265.5,86 266.8,84.2 261.6,84.2 259.1,85.6Z M227.5,92.7 232.5,93.3 234.4,91.1 230.4,90.9 227.5,92.7Z M243,104.6 245.6,105.2 245.8,103.6 243,104.6Z M240.2,77 243.9,77 245.9,75.4 241.9,75.7 240.2,77Z M229.2,77 233.3,76.6 233.4,75.7 229.2,77Z M228.9,78.1 232.4,78.2 233.9,77.1 230,77.3 228.9,78.1Z M245.9,77.3 248.4,77.3 249.5,75.9 247.3,76.2 245.9,77.3Z M238.4,102.7 249.1,101.9 246.8,98.9 240,99.2 238.4,102.7Z M266.4,134.8 272.5,136.5 277.3,136.1 277.8,133.8 276.6,130.8 275.5,126.5 272.3,128.7 267.7,132.9 266.4,134.8Z M155.5,128.1 160,129.4 160.3,133.1 158.1,132.7 155.5,128.1Z M208,189.9 212.7,188.1 217.5,187.1 221.7,190.1 227.5,193.5 221.1,194.2 217.9,190.7 213.3,190.5 208,189.9Z M226.7,197.2 230,194.2 235.2,194.6 238,197 232,198.9 226.7,197.2Z M219.4,197.4 223.1,198 221.7,198.7 219.4,197.4Z M240.2,197.4 243.2,197.6 242.3,198.3 240.2,197.4Z M74.8,193.5 76.3,195 74.4,196.1 74.8,193.5Z M71.2,190.5 72.2,191.1 71.2,191.4 71.2,190.5Z M68.8,189.2 69.6,189.4 69,189.9 68.8,189.2Z M277.6,76.2 289.3,72.5 297.5,71.1 315,70.5 332.6,69.3 343.3,70.5 352.2,71.8 343.2,75.4 343.7,78.6 340.4,81.9 336.9,86.1 336.1,89.7 331.4,92.4 322.7,94.2 316,97.9 311.4,98.9 306.2,101.7 301,108.5 297.7,109.5 293.1,107.5 291.9,102.7 290.6,98.9 290.8,95.1 295.5,92.4 292.2,89.3 293.1,86.1 292.3,81 286.9,79.7 279.7,79.4 277.6,76.2Z M331.1,98.9 334.7,97.2 339.6,97.5 344.7,97 346.4,99.4 344.2,101.1 338.8,102.9 333.8,102.1 333.4,100.2 331.1,98.9Z M446.1,140.3 448.7,137.1 452.7,136.1 455.3,136.5 456.5,139.9 453.7,141.3 453.8,144.1 457.5,147.1 460.2,149.2 458.9,150.9 461,153.3 461.8,156.5 456.8,158 452.8,156.1 452.3,153.1 452.5,149.9 450.2,147.1 447.9,144.5 447.2,141.3 446.1,140.3Z M356.6,129.6 361.1,128.5 366,128.1 368.3,127.3 368.7,124.2 366.5,122.8 365.7,120.5 363.6,118.5 362.9,117.5 361.3,117.5 363.2,114.2 360.9,112.2 358.3,112.2 357.8,114.4 357.1,116.9 358.3,117.9 358,119.9 360.9,120.1 361.2,121.7 361.2,123 358.6,123 359.2,124.2 359.2,126.3 357.4,126.3 360.8,126.9 358.6,127.7 356.6,129.6Z M356.3,125.2 356,122.6 356.4,120.5 355.7,119.1 352.8,119.1 352.3,120.9 350,121.5 350.2,123.6 349.3,125.6 352.1,126.5 356.3,125.2Z M379.3,76.2 386,79.4 389.4,77.8 391.4,76.2 398.2,74.7 395.4,73.5 387.2,73.6 380.2,74.2 379.3,76.2Z M435.1,87.9 437.8,89.3 444.1,89.7 439.5,86.1 440.1,82.7 444.4,80.5 451.3,78.9 447.9,78.6 441.1,79.4 436.4,81.9 435.9,84.4 435.1,87.9Z M479.2,74.7 486.1,75.4 494.2,77 493.4,74.7 485.6,72.5 478.4,73.2 479.2,74.7Z M540,81 548.3,82.2 554.6,81.4 547.5,80.2 541.2,80.2 540,81Z M606.5,138.2 603.6,130.8 606.1,131.9 598.5,125.6 594.9,121.5 593.5,120.9 596.2,125.6 603.5,134 605.4,137.1 606.5,138.2Z M601.5,163.8 602.1,160.6 608.1,160.2 608.9,156.9 611.2,155.6 611.6,152 609.8,148.4 612.2,148.2 615.4,152 615.4,155.2 617.7,159.5 618.1,161.2 616.5,161.7 615.3,162.1 612,162.7 610.1,164.5 608.3,162.5 605,163.2 601.8,164 601.5,163.8Z M609.4,147.7 609.1,144.5 606.8,139.4 611.9,142.4 616.4,143.9 614.4,146.7 610.7,147.1 609.4,147.7Z M600,165.3 601.5,163.8 603.7,164.2 604.8,169.2 603.4,170.3 600,165.3Z M589.1,187.5 589.7,182.8 591.7,183.2 591.2,189.6 589.1,187.5Z M569.1,195.7 572.3,193.7 573.4,194.8 571.1,197.8 569.1,195.7Z M590.6,197.2 594.8,197.2 595.1,201.5 594.7,204.7 600,209 599.1,209.7 593.2,206.4 591.5,202.6 590.6,197.2Z M597.4,221.9 603.3,215.9 605.8,220.9 604.1,224.1 601.2,223 597.4,221.9Z M600.7,210.1 603.6,212.9 602.5,214.8 600.9,212.2 600.7,210.1Z M596.5,211.6 598.7,213.3 597.7,214.4 596.5,211.6Z M588.3,218.9 592.4,214.4 591.9,212.7 588,218.3 588.3,218.9Z M573.2,233.1 576,233.3 580.7,230.1 585.3,226.2 587.9,222.1 592.3,225.8 590.5,227.7 589.4,230.1 590.3,234.8 589.4,237 587.6,240.2 587.3,244.1 583.5,245.2 577.8,243.5 575.4,243.2 575.1,239.6 573.2,237 573.2,233.1Z M546.9,224.9 551.1,225.8 556.6,231.6 563.1,239.2 567.4,243.5 567.1,249.7 564.3,249.7 560.3,245.6 557,240.2 554.2,235.9 551.3,232.3 546.9,224.9Z M565.5,251.6 567.1,249.7 571.5,250.3 575.6,251.9 579.4,251.9 583,253.8 582.9,255.7 576.3,254.7 570.7,253.8 565.5,251.6Z M592.8,248.8 594.5,248.8 595.9,242.4 599.2,246.7 600.2,244.5 596.9,240.2 600.4,238.9 603.6,233.8 602.1,236.1 596,235.9 594.1,235.5 593.7,239.2 592.8,248.8Z M600.6,259 607,255.1 602.7,256.8 600.6,259Z M593.1,255.5 599.1,254.9 598.1,255.7 593.3,255.9 593.1,255.5Z M608.3,233.8 610.2,234.4 609.3,237 608.3,233.8Z M609.2,243.9 614.5,244.5 610.1,244.5 609.2,243.9Z M615,239.2 620.7,238.7 623.4,244.1 628.3,240.4 633.9,242.6 640.5,245.2 643.1,248.8 645.9,249.9 646.1,254.2 649.8,259.2 646.1,258.5 643,254.9 639,253.8 635.8,257 633,256.6 629.4,254.4 628.7,252.1 627,247.8 623.3,246.5 618.6,245.6 616.8,243 615,239.2Z M647.9,248.8 654.7,246 653.5,248.8 647.8,249.9 647.9,248.8Z M662.8,252.1 667.3,254.9 670.7,258.1 668.9,257.5 662.8,252.1Z M679.4,269.3 680.6,272.5 681.5,275.1 680.1,270.4 679.4,269.3Z M672.1,280.5 676.6,284.8 675.7,285 672.1,280.5Z M698.4,274.7 700.7,275.3 699.3,276.4 698.4,274.7Z M577.2,284.4 576.4,293 575.9,301.6 573.3,309.1 573.9,312.3 577.5,312.3 583.9,309.8 590,308 594.2,306.5 600.2,305 604.8,304.8 608.5,307 609,311.9 614.4,308 614,310.8 613.7,313.4 614.2,317.7 616,319.4 620.5,319.2 623.6,320.9 628.1,318.4 632.2,317.3 634.6,313.4 638.4,309.8 642.5,305.9 647.4,298.3 649,290.8 646.4,286.9 644,285 640.9,278.3 639.8,274.2 639.5,269.3 636.8,267.1 635.5,260.2 633,265 632.3,270.4 629.4,274.7 626.8,273.6 623.6,271 621.1,268.9 624.3,263.3 622.9,262.8 617.3,261.8 613.4,263.3 609.9,268.2 606.9,269.3 603.5,267.1 599.9,272.1 595.3,274.7 593.3,277.9 588.2,280.1 583.7,281.3 578.6,283.9 577.2,284.4Z M618.4,324.6 624.6,325 620.8,329.9 617.7,330.7 617.4,327.8 618.4,324.6Z M676.3,311.1 677.4,314.5 677.9,316.6 677.9,317.9 682.2,318.1 678.9,321.4 676.4,322.2 670.6,326.5 669.8,325.8 672.8,322.9 671.7,321.4 674.9,318.8 676.1,316.6 676.3,311.1Z M667.8,324.1 668.7,326.7 664.7,329.5 662.3,331.2 658.6,332.7 655.1,335.6 651.1,337.1 648,335.8 649.8,334.1 654.4,331.6 659.9,329.5 663.6,326.9 667.8,324.1Z M459.1,262.8 461,270.4 459.5,273.6 456.5,281.1 454,289.7 449.5,291.9 447.3,287.6 446.6,283.3 449,279 448.6,273.6 453.1,270.8 456.5,266.1 459.1,262.8Z M517.6,223 517.5,216.5 519.8,218.7 521.1,221.9 518.9,224.1 517.6,223Z M387.9,155.2 393.6,154.6 392.9,158 388.2,156.1 387.9,155.2Z M380.3,148.8 382.7,148.4 383.1,152.6 381,153.3 380.7,150.9 380.3,148.8Z M380.9,145.8 382.2,144.5 382.6,146.7 382,147.9 380.9,145.8Z M408.1,161 413.1,161 412.6,161.7 409,161.9 408.1,161Z M423.9,161.4 425,160.8 427.8,160.2 427,161.9 424.7,162.5 423.9,161.4Z M265.8,346.9 271.2,346.9 271,348.8 266.8,348.4 265.8,346.9Z M305.2,352.5 308.5,352.9 307.1,353.7 305.2,352.5Z M480.9,341.5 483.1,342.1 481,343.4 480.9,341.5Z M418.7,73.2 429.9,72.5 438.6,73.2 431,73.9 418.7,73.2Z M606.1,88.3 607.5,87.9 609.2,89 606.1,88.3Z M383.1,116.9 385.8,117.5 385.5,119.5 383.4,118.9 383.1,116.9Z M394.2,114.8 395.3,113.6 395.3,115 394.2,114.8Z M389.6,73.9 397.8,73.6 394.7,75 389.6,73.9Z M125.3,115 129.7,113.8 130,112.8 125.3,115Z M114.4,102.7 117.6,103 115.4,103.6 114.4,102.7Z M259.5,130 263.6,131.7 263.3,130.8 259.5,130Z M210.9,136.7 217.5,133.3 222.9,132.3 223.6,136.1 219.1,137.1 214.1,136.9 210.9,136.7Z M213.8,146.7 216.5,141.3 220.3,138.4 220.3,140.3 217.2,144.5 214.6,147.3 213.8,146.7Z M222.7,138.6 227.9,138.4 229.7,140.3 225.4,143.9 223.9,144.1 222.9,142.4 222.7,138.6Z M221.2,147.3 229.7,144.7 227.9,146 221.2,147.3Z M228.7,143.9 235.4,142 234.4,143.7 228.7,143.9Z M205.7,128.7 207.3,128.7 207.7,122.6 206.3,123.6 205.7,128.7Z M190.1,107.5 196.4,107.1 202.8,104 196,105 190.1,107.5Z M187.9,98.9 192.7,99.8 197.9,97.4 195,96.1 189.8,97 187.9,98.9Z M194.5,112.2 200.8,111.1 201.4,110.3 194.5,112.2Z M206.1,115.4 207.9,114.4 207.2,113.8 206.1,115.4Z M426.5,237.6 429.7,236.4 430.6,238.1 429.7,242.4 426.8,242.4 426.3,240.2 426.5,237.6Z M421.5,244.1 422.2,244.5 423.9,249.9 425.1,255.3 424.3,255.7 422,251 421.5,244.1Z M430.9,257.5 431.8,260.7 432.3,267.1 431.2,266.7 430.7,260.7 430.9,257.5Z M535.3,126.5 536.9,124.6 538.9,121.5 539,117.9 538.3,118.5 537.8,123.6 535.4,126.1 535.3,126.5Z M491.1,137.5 496.1,137.3 499.4,137.1 498.3,136.5 492.3,136.3 491.1,137.5Z M465.4,139.2 469.6,139.2 471.3,142 469.1,143.5 466.3,142.4 465.4,139.2Z M411.1,107.5 414.7,106.9 415.5,108.3 412.3,109.7 411.1,107.5Z M417.5,106.1 419.3,104.6 420.2,106.5 419.3,107.1 417.5,106.1Z M234.7,269.7 236.6,270.4 235.8,272.3 234.7,269.7Z" fill="none" stroke="#1a1a1a" stroke-width="0.8" stroke-linejoin="round"/>
</g>
<path d="M183.9,63.4 L178.9,64.8 L173.2,66.5 L167,68.7 L160.4,71.1 L153.4,73.9 L146.2,77 L139.1,80.2 L132.3,83.6 L126,87 L120.1,90.6 L114.4,94.2 L108.8,97.9 L103.3,101.7 L98,105.6 L92.7,109.5 L87.6,113.4 L82.7,117.5 L77.9,121.5 L73.3,125.6 L69,129.8 L65,134 L61.2,138.2 L57.5,142.4 L54,146.7 L50.6,150.9 L47.6,155.2 L44.7,159.5 L42.1,163.8 L39.7,168.1 L37.5,172.4 L35.5,176.7 L33.8,181 L32.3,185.3 L31.1,189.6 L29.9,193.9 L28.8,198.3 L27.7,202.6 L26.8,206.9 L26,211.2 L25.4,215.5 L24.9,219.8 L24.4,224.1 L24.1,228.4 L23.9,232.7 L23.8,237 L23.9,241.3 L24.1,245.6 L24.4,249.9 L24.9,254.2 L25.4,258.5 L26,262.8 L26.8,267.1 L27.7,271.4 L28.8,275.7 L29.9,280.1 L31.1,284.4 L32.3,288.7 L33.8,293 L35.5,297.3 L37.5,301.6 L39.7,305.9 L42.1,310.2 L44.7,314.5 L47.6,318.8 L50.6,323.1 L54,327.3 L57.5,331.6 L61.2,335.8 L65,340 L69,344.2 L73.3,348.4 L77.9,352.5 L82.7,356.5 L87.6,360.6 L92.7,364.5 L98,368.4 L103.3,372.3 L108.8,376.1 L114.4,379.8 L120.1,383.4 L126,387 L132.3,390.4 L139.1,393.8 L146.2,397 L153.4,400.1 L160.4,402.9 L167,405.3 L173.2,407.5 L178.9,409.2 L183.9,410.6 L548.1,410.6 L553.1,409.2 L558.8,407.5 L565,405.3 L571.6,402.9 L578.6,400.1 L585.8,397 L592.9,393.8 L599.7,390.4 L606,387 L611.9,383.4 L617.6,379.8 L623.2,376.1 L628.7,372.3 L634,368.4 L639.3,364.5 L644.4,360.6 L649.3,356.5 L654.1,352.5 L658.7,348.4 L663,344.2 L667,340 L670.8,335.8 L674.5,331.6 L678,327.3 L681.4,323.1 L684.4,318.8 L687.3,314.5 L689.9,310.2 L692.3,305.9 L694.5,301.6 L696.5,297.3 L698.2,293 L699.7,288.7 L700.9,284.4 L702.1,280.1 L703.2,275.7 L704.3,271.4 L705.2,267.1 L706,262.8 L706.6,258.5 L707.1,254.2 L707.6,249.9 L707.9,245.6 L708.1,241.3 L708.2,237 L708.1,232.7 L707.9,228.4 L707.6,224.1 L707.1,219.8 L706.6,215.5 L706,211.2 L705.2,206.9 L704.3,202.6 L703.2,198.3 L702.1,193.9 L700.9,189.6 L699.7,185.3 L698.2,181 L696.5,176.7 L694.5,172.4 L692.3,168.1 L689.9,163.8 L687.3,159.5 L684.4,155.2 L681.4,150.9 L678,146.7 L674.5,142.4 L670.8,138.2 L667,134 L663,129.8 L658.7,125.6 L654.1,121.5 L649.3,117.5 L644.4,113.4 L639.3,109.5 L634,105.6 L628.7,101.7 L623.2,97.9 L617.6,94.2 L611.9,90.6 L606,87 L599.7,83.6 L592.9,80.2 L585.8,77 L578.6,73.9 L571.6,71.1 L565,68.7 L558.8,66.5 L553.1,64.8 L548.1,63.4Z" fill="none" stroke="#222" stroke-width="1"/>
<g clip-path="url(#eu)">
<rect x="720" y="55" width="380" height="360" fill="#f9bda0"/>
<g filter="url(#gb)"><defs><linearGradient id="e0" gradientUnits="userSpaceOnUse" x1="722" x2="1100" y1="0" y2="0"><stop offset=".000" stop-color="#fce0d1"/><stop offset=".095" stop-color="#fce1d2"/><stop offset=".190" stop-color="#fcdece"/><stop offset=".246" stop-color="#fcd9c7"/><stop offset=".294" stop-color="#fbd1bc"/><stop offset=".349" stop-color="#f9c3a6"/><stop offset=".373" stop-color="#f8b697"/><stop offset=".452" stop-color="#f48658"/><stop offset=".500" stop-color="#ee6a30"/><stop offset=".556" stop-color="#e1541d"/><stop offset=".595" stop-color="#dd4d17"/><stop offset=".627" stop-color="#dd4d17"/><stop offset=".675" stop-color="#e2561e"/><stop offset=".730" stop-color="#ec662c"/><stop offset=".754" stop-color="#ef6d35"/><stop offset=".802" stop-color="#f17a48"/><stop offset=".865" stop-color="#f4875b"/><stop offset=".929" stop-color="#f58d63"/><stop offset="1" stop-color="#f58c61"/></linearGradient><linearGradient id="e1" gradientUnits="userSpaceOnUse" x1="722" x2="1100" y1="0" y2="0"><stop offset=".000" stop-color="#fce0d1"/><stop offset=".095" stop-color="#fce1d2"/><stop offset=".190" stop-color="#fcdece"/><stop offset=".246" stop-color="#fcd9c7"/><stop offset=".294" stop-color="#fbd1bc"/><stop offset=".349" stop-color="#f9c3a6"/><stop offset=".373" stop-color="#f8b697"/><stop offset=".452" stop-color="#f48658"/><stop offset=".500" stop-color="#ee6a30"/><stop offset=".556" stop-color="#e1541d"/><stop offset=".595" stop-color="#dd4d17"/><stop offset=".627" stop-color="#dd4d17"/><stop offset=".675" stop-color="#e2561e"/><stop offset=".730" stop-color="#ec662c"/><stop offset=".754" stop-color="#ef6d35"/><stop offset=".802" stop-color="#f17a48"/><stop offset=".865" stop-color="#f4875b"/><stop offset=".929" stop-color="#f58d63"/><stop offset="1" stop-color="#f58c61"/></linearGradient><linearGradient id="e2" gradientUnits="userSpaceOnUse" x1="722" x2="1100" y1="0" y2="0"><stop offset=".000" stop-color="#fce1d2"/><stop offset=".119" stop-color="#fce1d3"/><stop offset=".175" stop-color="#fcdfd0"/><stop offset=".214" stop-color="#fcdccc"/><stop offset=".278" stop-color="#fbd3bf"/><stop offset=".349" stop-color="#f9c1a4"/><stop offset=".444" stop-color="#f58d62"/><stop offset=".508" stop-color="#ee6a30"/><stop offset=".556" stop-color="#e35720"/><stop offset=".595" stop-color="#de4e18"/><stop offset=".627" stop-color="#dd4d17"/><stop offset=".675" stop-color="#e2561e"/><stop offset=".738" stop-color="#ee692f"/><stop offset=".810" stop-color="#f27c4b"/><stop offset=".865" stop-color="#f48658"/><stop offset=".913" stop-color="#f4895d"/><stop offset="1" stop-color="#f48659"/></linearGradient><linearGradient id="e3" gradientUnits="userSpaceOnUse" x1="722" x2="1100" y1="0" y2="0"><stop offset=".000" stop-color="#fce2d4"/><stop offset=".111" stop-color="#fce2d4"/><stop offset=".198" stop-color="#fcdece"/><stop offset=".254" stop-color="#fbd7c4"/><stop offset=".302" stop-color="#facdb6"/><stop offset=".333" stop-color="#f9c5aa"/><stop offset=".365" stop-color="#f8b899"/><stop offset=".460" stop-color="#f4875a"/><stop offset=".516" stop-color="#ee6a31"/><stop offset=".540" stop-color="#e86027"/><stop offset=".579" stop-color="#e1531c"/><stop offset=".627" stop-color="#de4e18"/><stop offset=".667" stop-color="#e1541d"/><stop offset=".746" stop-color="#ef6d34"/><stop offset=".802" stop-color="#f27b49"/><stop offset=".849" stop-color="#f38354"/><stop offset=".921" stop-color="#f48659"/><stop offset="1" stop-color="#f38152"/></linearGradient><linearGradient id="e4" gradientUnits="userSpaceOnUse" x1="722" x2="1100" y1="0" y2="0"><stop offset=".000" stop-color="#fce3d5"/><stop offset=".056" stop-color="#fce3d6"/><stop offset=".159" stop-color="#fce1d2"/><stop offset=".222" stop-color="#fcdbca"/><stop offset=".286" stop-color="#fbd0ba"/><stop offset=".333" stop-color="#f9c4a8"/><stop offset=".373" stop-color="#f8b393"/><stop offset=".468" stop-color="#f48658"/><stop offset=".524" stop-color="#ee6a31"/><stop offset=".563" stop-color="#e55a23"/><stop offset=".595" stop-color="#e0521b"/><stop offset=".635" stop-color="#df501a"/><stop offset=".667" stop-color="#e2551e"/><stop offset=".730" stop-color="#ed692f"/><stop offset=".770" stop-color="#f0753f"/><stop offset=".825" stop-color="#f27f4f"/><stop offset=".857" stop-color="#f38354"/><stop offset=".913" stop-color="#f38456"/><stop offset="1" stop-color="#f27e4d"/></linearGradient><linearGradient id="e5" gradientUnits="userSpaceOnUse" x1="722" x2="1100" y1="0" y2="0"><stop offset=".000" stop-color="#fce4d7"/><stop offset=".159" stop-color="#fce1d2"/><stop offset=".214" stop-color="#fcdccb"/><stop offset=".262" stop-color="#fbd4c0"/><stop offset=".325" stop-color="#f9c6aa"/><stop offset=".357" stop-color="#f8b99b"/><stop offset=".468" stop-color="#f4885c"/><stop offset=".540" stop-color="#ec672d"/><stop offset=".579" stop-color="#e45821"/><stop offset=".595" stop-color="#e1551d"/><stop offset=".627" stop-color="#e0511b"/><stop offset=".675" stop-color="#e45921"/><stop offset=".722" stop-color="#ed682e"/><stop offset=".762" stop-color="#f0743e"/><stop offset=".810" stop-color="#f27d4c"/><stop offset=".857" stop-color="#f38253"/><stop offset=".905" stop-color="#f38354"/><stop offset="1" stop-color="#f27c4a"/></linearGradient><linearGradient id="e6" gradientUnits="userSpaceOnUse" x1="722" x2="1100" y1="0" y2="0"><stop offset=".000" stop-color="#fce5d8"/><stop offset=".103" stop-color="#fce3d6"/><stop offset=".175" stop-color="#fcdfd0"/><stop offset=".238" stop-color="#fbd8c5"/><stop offset=".278" stop-color="#fbd0ba"/><stop offset=".325" stop-color="#f9c5a9"/><stop offset=".373" stop-color="#f8b292"/><stop offset=".476" stop-color="#f4875b"/><stop offset=".548" stop-color="#ec672d"/><stop offset=".595" stop-color="#e35720"/><stop offset=".635" stop-color="#e1541d"/><stop offset=".667" stop-color="#e45921"/><stop offset=".722" stop-color="#ee692f"/><stop offset=".762" stop-color="#f0753f"/><stop offset=".802" stop-color="#f27c4b"/><stop offset=".857" stop-color="#f38253"/><stop offset=".921" stop-color="#f38152"/><stop offset="1" stop-color="#f27b49"/></linearGradient><linearGradient id="e7" gradientUnits="userSpaceOnUse" x1="722" x2="1100" y1="0" y2="0"><stop offset=".000" stop-color="#fde6da"/><stop offset=".143" stop-color="#fce1d3"/><stop offset=".206" stop-color="#fcdccb"/><stop offset=".278" stop-color="#facfb9"/><stop offset=".325" stop-color="#f9c4a8"/><stop offset=".357" stop-color="#f8b89a"/><stop offset=".484" stop-color="#f4875a"/><stop offset=".548" stop-color="#ee6b31"/><stop offset=".571" stop-color="#e96129"/><stop offset=".603" stop-color="#e45921"/><stop offset=".635" stop-color="#e35720"/><stop offset=".667" stop-color="#e55b23"/><stop offset=".722" stop-color="#ee6b31"/><stop offset=".762" stop-color="#f07641"/><stop offset=".802" stop-color="#f27d4c"/><stop offset=".841" stop-color="#f38152"/><stop offset=".905" stop-color="#f38253"/><stop offset="1" stop-color="#f27c4a"/></linearGradient><linearGradient id="e8" gradientUnits="userSpaceOnUse" x1="722" x2="1100" y1="0" y2="0"><stop offset=".000" stop-color="#fde7db"/><stop offset=".127" stop-color="#fce2d4"/><stop offset=".206" stop-color="#fcdbca"/><stop offset=".278" stop-color="#facfb8"/><stop offset=".325" stop-color="#f9c4a8"/><stop offset=".452" stop-color="#f6956d"/><stop offset=".492" stop-color="#f48659"/><stop offset=".556" stop-color="#ee6b31"/><stop offset=".603" stop-color="#e65d24"/><stop offset=".635" stop-color="#e55a22"/><stop offset=".675" stop-color="#e86027"/><stop offset=".706" stop-color="#ed682e"/><stop offset=".770" stop-color="#f17945"/><stop offset=".802" stop-color="#f27e4d"/><stop offset=".849" stop-color="#f38253"/><stop offset=".905" stop-color="#f38354"/><stop offset="1" stop-color="#f27d4c"/></linearGradient><linearGradient id="e9" gradientUnits="userSpaceOnUse" x1="722" x2="1100" y1="0" y2="0"><stop offset=".000" stop-color="#fde8dc"/><stop offset=".079" stop-color="#fce5d8"/><stop offset=".183" stop-color="#fcddcd"/><stop offset=".278" stop-color="#faceb7"/><stop offset=".333" stop-color="#f9c1a4"/><stop offset=".468" stop-color="#f59168"/><stop offset=".563" stop-color="#ee6c32"/><stop offset=".595" stop-color="#e96229"/><stop offset=".619" stop-color="#e75e26"/><stop offset=".667" stop-color="#e96128"/><stop offset=".706" stop-color="#ee6a30"/><stop offset=".778" stop-color="#f27b49"/><stop offset=".849" stop-color="#f38354"/><stop offset=".921" stop-color="#f38355"/><stop offset="1" stop-color="#f38050"/></linearGradient><linearGradient id="e10" gradientUnits="userSpaceOnUse" x1="722" x2="1100" y1="0" y2="0"><stop offset=".000" stop-color="#fde9dd"/><stop offset=".071" stop-color="#fce5d9"/><stop offset=".190" stop-color="#fcdccb"/><stop offset=".286" stop-color="#faccb4"/><stop offset=".333" stop-color="#f9c1a4"/><stop offset=".460" stop-color="#f6966e"/><stop offset=".500" stop-color="#f4885c"/><stop offset=".579" stop-color="#ee6a30"/><stop offset=".603" stop-color="#eb642b"/><stop offset=".651" stop-color="#ea6229"/><stop offset=".675" stop-color="#ec662c"/><stop offset=".698" stop-color="#ee6b31"/><stop offset=".754" stop-color="#f17844"/><stop offset=".833" stop-color="#f38354"/><stop offset=".897" stop-color="#f48558"/><stop offset="1" stop-color="#f38455"/></linearGradient><linearGradient id="e11" gradientUnits="userSpaceOnUse" x1="722" x2="1100" y1="0" y2="0"><stop offset=".000" stop-color="#fde9de"/><stop offset=".024" stop-color="#fde9de"/><stop offset=".151" stop-color="#fcdfd0"/><stop offset=".214" stop-color="#fbd8c5"/><stop offset=".294" stop-color="#facab1"/><stop offset=".333" stop-color="#f9c1a4"/><stop offset=".468" stop-color="#f6956d"/><stop offset=".571" stop-color="#ef7139"/><stop offset=".595" stop-color="#ee6a30"/><stop offset=".619" stop-color="#ec662d"/><stop offset=".675" stop-color="#ed692f"/><stop offset=".778" stop-color="#f27d4c"/><stop offset=".857" stop-color="#f48558"/><stop offset="1" stop-color="#f4885b"/></linearGradient><linearGradient id="e12" gradientUnits="userSpaceOnUse" x1="722" x2="1100" y1="0" y2="0"><stop offset=".000" stop-color="#fdeadf"/><stop offset=".024" stop-color="#fde9df"/><stop offset=".167" stop-color="#fcddcd"/><stop offset=".286" stop-color="#facbb3"/><stop offset=".341" stop-color="#f9bfa1"/><stop offset=".476" stop-color="#f5946c"/><stop offset=".571" stop-color="#f0743f"/><stop offset=".595" stop-color="#ef6e36"/><stop offset=".627" stop-color="#ee6a30"/><stop offset=".651" stop-color="#ee6a30"/><stop offset=".683" stop-color="#ef6e35"/><stop offset=".770" stop-color="#f27d4c"/><stop offset=".825" stop-color="#f38456"/><stop offset=".905" stop-color="#f48a5e"/><stop offset="1" stop-color="#f58d62"/></linearGradient><linearGradient id="e13" gradientUnits="userSpaceOnUse" x1="722" x2="1100" y1="0" y2="0"><stop offset=".000" stop-color="#fdebe1"/><stop offset=".175" stop-color="#fcdccb"/><stop offset=".325" stop-color="#f9c4a8"/><stop offset=".492" stop-color="#f59168"/><stop offset=".587" stop-color="#f0743f"/><stop offset=".635" stop-color="#ef6e36"/><stop offset=".683" stop-color="#ef713a"/><stop offset=".833" stop-color="#f48659"/><stop offset="1" stop-color="#f5936a"/></linearGradient><linearGradient id="e14" gradientUnits="userSpaceOnUse" x1="722" x2="1100" y1="0" y2="0"><stop offset=".000" stop-color="#fdece2"/><stop offset=".032" stop-color="#fdeae0"/><stop offset=".159" stop-color="#fcddcd"/><stop offset=".333" stop-color="#f9c2a6"/><stop offset=".571" stop-color="#f27c4a"/><stop offset=".627" stop-color="#f0733d"/><stop offset=".690" stop-color="#f07540"/><stop offset=".833" stop-color="#f4885b"/><stop offset=".976" stop-color="#f69871"/><stop offset="1" stop-color="#f69972"/></linearGradient><linearGradient id="e15" gradientUnits="userSpaceOnUse" x1="722" x2="1100" y1="0" y2="0"><stop offset=".000" stop-color="#fdede3"/><stop offset=".032" stop-color="#fdebe1"/><stop offset=".167" stop-color="#fcdccb"/><stop offset=".317" stop-color="#f9c6ab"/><stop offset=".365" stop-color="#f8bb9d"/><stop offset=".460" stop-color="#f69d78"/><stop offset=".556" stop-color="#f38455"/><stop offset=".595" stop-color="#f27b49"/><stop offset=".635" stop-color="#f17743"/><stop offset=".675" stop-color="#f17743"/><stop offset=".722" stop-color="#f27b49"/><stop offset=".889" stop-color="#f59067"/><stop offset=".984" stop-color="#f7a07b"/><stop offset="1" stop-color="#f7a07b"/></linearGradient><linearGradient id="e16" gradientUnits="userSpaceOnUse" x1="722" x2="1100" y1="0" y2="0"><stop offset=".000" stop-color="#fdede4"/><stop offset=".032" stop-color="#fdece2"/><stop offset=".143" stop-color="#fcdfcf"/><stop offset=".333" stop-color="#f9c4a8"/><stop offset=".373" stop-color="#f8ba9c"/><stop offset=".444" stop-color="#f7a380"/><stop offset=".524" stop-color="#f58e63"/><stop offset=".595" stop-color="#f2804f"/><stop offset=".627" stop-color="#f27c4a"/><stop offset=".683" stop-color="#f27b49"/><stop offset=".770" stop-color="#f38353"/><stop offset=".913" stop-color="#f69870"/><stop offset=".984" stop-color="#f7a886"/><stop offset="1" stop-color="#f7a886"/></linearGradient><linearGradient id="e17" gradientUnits="userSpaceOnUse" x1="722" x2="1100" y1="0" y2="0"><stop offset=".000" stop-color="#fdeee5"/><stop offset=".032" stop-color="#fdece3"/><stop offset=".095" stop-color="#fce5d8"/><stop offset=".333" stop-color="#f9c5a9"/><stop offset=".373" stop-color="#f9bc9e"/><stop offset=".452" stop-color="#f7a27e"/><stop offset=".524" stop-color="#f59066"/><stop offset=".595" stop-color="#f38455"/><stop offset=".643" stop-color="#f2804f"/><stop offset=".698" stop-color="#f27f4e"/><stop offset=".786" stop-color="#f48658"/><stop offset=".897" stop-color="#f69871"/><stop offset=".944" stop-color="#f7a481"/><stop offset=".984" stop-color="#f8b292"/><stop offset="1" stop-color="#f8b292"/></linearGradient><linearGradient id="e18" gradientUnits="userSpaceOnUse" x1="722" x2="1100" y1="0" y2="0"><stop offset=".000" stop-color="#fdefe7"/><stop offset=".040" stop-color="#fdece3"/><stop offset=".230" stop-color="#fbd2bc"/><stop offset=".333" stop-color="#f9c5aa"/><stop offset=".373" stop-color="#f9bda0"/><stop offset=".500" stop-color="#f6976f"/><stop offset=".579" stop-color="#f4895d"/><stop offset=".643" stop-color="#f38455"/><stop offset=".722" stop-color="#f38253"/><stop offset=".817" stop-color="#f58c60"/><stop offset=".897" stop-color="#f69c76"/><stop offset=".929" stop-color="#f7a582"/><stop offset=".984" stop-color="#f9bc9e"/><stop offset="1" stop-color="#f9bc9e"/></linearGradient><linearGradient id="e19" gradientUnits="userSpaceOnUse" x1="722" x2="1100" y1="0" y2="0"><stop offset=".000" stop-color="#fbf1ec"/><stop offset=".016" stop-color="#fbf1ec"/><stop offset=".032" stop-color="#fdeee5"/><stop offset=".159" stop-color="#fcddcd"/><stop offset=".230" stop-color="#fbd2bc"/><stop offset=".341" stop-color="#f9c5aa"/><stop offset=".373" stop-color="#f9bfa2"/><stop offset=".460" stop-color="#f7a27e"/><stop offset=".532" stop-color="#f59369"/><stop offset=".571" stop-color="#f58d63"/><stop offset=".659" stop-color="#f48759"/><stop offset=".738" stop-color="#f48557"/><stop offset=".802" stop-color="#f48b5f"/><stop offset=".881" stop-color="#f69c75"/><stop offset=".905" stop-color="#f7a27f"/><stop offset=".984" stop-color="#f9c5aa"/><stop offset="1" stop-color="#f9c5aa"/></linearGradient><linearGradient id="e20" gradientUnits="userSpaceOnUse" x1="722" x2="1100" y1="0" y2="0"><stop offset=".000" stop-color="#f3f5fa"/><stop offset=".024" stop-color="#f4f6fa"/><stop offset=".032" stop-color="#fdefe7"/><stop offset=".111" stop-color="#fce5d8"/><stop offset=".222" stop-color="#fbd3be"/><stop offset=".357" stop-color="#f9c4a8"/><stop offset=".421" stop-color="#f8b292"/><stop offset=".476" stop-color="#f79f7a"/><stop offset=".524" stop-color="#f6956d"/><stop offset=".675" stop-color="#f4895c"/><stop offset=".746" stop-color="#f4875a"/><stop offset=".825" stop-color="#f59167"/><stop offset=".889" stop-color="#f7a17d"/><stop offset=".984" stop-color="#facdb5"/><stop offset="1" stop-color="#facdb5"/></linearGradient><linearGradient id="e21" gradientUnits="userSpaceOnUse" x1="722" x2="1100" y1="0" y2="0"><stop offset=".000" stop-color="#f2f5f9"/><stop offset=".032" stop-color="#f4f6fa"/><stop offset=".040" stop-color="#fdf0e7"/><stop offset=".095" stop-color="#fde8dd"/><stop offset=".230" stop-color="#fbd3bd"/><stop offset=".365" stop-color="#f9c4a8"/><stop offset=".397" stop-color="#f9bc9e"/><stop offset=".468" stop-color="#f7a27e"/><stop offset=".508" stop-color="#f69972"/><stop offset=".563" stop-color="#f5936a"/><stop offset=".706" stop-color="#f48a5d"/><stop offset=".754" stop-color="#f48a5d"/><stop offset=".786" stop-color="#f58c61"/><stop offset=".841" stop-color="#f6976f"/><stop offset=".865" stop-color="#f69d78"/><stop offset=".897" stop-color="#f7aa87"/><stop offset=".984" stop-color="#fbd4bf"/><stop offset="1" stop-color="#fbd4bf"/></linearGradient><linearGradient id="e22" gradientUnits="userSpaceOnUse" x1="722" x2="1100" y1="0" y2="0"><stop offset=".000" stop-color="#f0f4f9"/><stop offset=".040" stop-color="#f3f5fa"/><stop offset=".048" stop-color="#f7f4f4"/><stop offset=".056" stop-color="#fdefe7"/><stop offset=".230" stop-color="#fbd3be"/><stop offset=".373" stop-color="#f9c4a8"/><stop offset=".397" stop-color="#f9bda0"/><stop offset=".460" stop-color="#f7a683"/><stop offset=".516" stop-color="#f69972"/><stop offset=".706" stop-color="#f58c60"/><stop offset=".746" stop-color="#f48b5f"/><stop offset=".778" stop-color="#f58d62"/><stop offset=".849" stop-color="#f69c75"/><stop offset=".881" stop-color="#f7a784"/><stop offset=".984" stop-color="#fcdbca"/><stop offset="1" stop-color="#fcdbca"/></linearGradient><linearGradient id="e23" gradientUnits="userSpaceOnUse" x1="722" x2="1100" y1="0" y2="0"><stop offset=".000" stop-color="#eff3f8"/><stop offset=".056" stop-color="#f3f5fa"/><stop offset=".063" stop-color="#fdf0e8"/><stop offset=".246" stop-color="#fbd2bc"/><stop offset=".349" stop-color="#fac9af"/><stop offset=".381" stop-color="#f9c4a8"/><stop offset=".476" stop-color="#f7a27e"/><stop offset=".508" stop-color="#f69c75"/><stop offset=".548" stop-color="#f69870"/><stop offset=".635" stop-color="#f5946c"/><stop offset=".722" stop-color="#f58d62"/><stop offset=".786" stop-color="#f59066"/><stop offset=".849" stop-color="#f79e79"/><stop offset=".897" stop-color="#f8b494"/><stop offset=".984" stop-color="#fce1d3"/><stop offset="1" stop-color="#fce1d3"/></linearGradient><linearGradient id="e24" gradientUnits="userSpaceOnUse" x1="722" x2="1100" y1="0" y2="0"><stop offset=".000" stop-color="#eef2f8"/><stop offset=".032" stop-color="#eef2f8"/><stop offset=".071" stop-color="#f3f5fa"/><stop offset=".079" stop-color="#fdf0e8"/><stop offset=".238" stop-color="#fbd4bf"/><stop offset=".373" stop-color="#f9c6ac"/><stop offset=".397" stop-color="#f9c1a4"/><stop offset=".476" stop-color="#f7a380"/><stop offset=".500" stop-color="#f79e78"/><stop offset=".540" stop-color="#f69972"/><stop offset=".619" stop-color="#f69770"/><stop offset=".730" stop-color="#f58f64"/><stop offset=".786" stop-color="#f59269"/><stop offset=".849" stop-color="#f7a17d"/><stop offset=".897" stop-color="#f8b99a"/><stop offset=".984" stop-color="#fde7dc"/><stop offset="1" stop-color="#fde7dc"/></linearGradient><linearGradient id="e25" gradientUnits="userSpaceOnUse" x1="722" x2="1100" y1="0" y2="0"><stop offset=".000" stop-color="#ecf1f7"/><stop offset=".032" stop-color="#ecf1f7"/><stop offset=".087" stop-color="#f3f5fa"/><stop offset=".095" stop-color="#fdf0e8"/><stop offset=".246" stop-color="#fbd4bf"/><stop offset=".357" stop-color="#facab1"/><stop offset=".389" stop-color="#f9c5a9"/><stop offset=".476" stop-color="#f7a481"/><stop offset=".500" stop-color="#f79f79"/><stop offset=".548" stop-color="#f69a73"/><stop offset=".635" stop-color="#f69871"/><stop offset=".722" stop-color="#f59167"/><stop offset=".778" stop-color="#f5936a"/><stop offset=".841" stop-color="#f7a27d"/><stop offset=".881" stop-color="#f8b595"/><stop offset=".984" stop-color="#fdede4"/><stop offset="1" stop-color="#fdede4"/></linearGradient><linearGradient id="e26" gradientUnits="userSpaceOnUse" x1="722" x2="1100" y1="0" y2="0"><stop offset=".000" stop-color="#eaf0f7"/><stop offset=".048" stop-color="#ebf0f7"/><stop offset=".103" stop-color="#f3f5fa"/><stop offset=".111" stop-color="#fdf0e7"/><stop offset=".254" stop-color="#fbd4bf"/><stop offset=".341" stop-color="#facdb5"/><stop offset=".381" stop-color="#f9c7ad"/><stop offset=".397" stop-color="#f9c4a8"/><stop offset=".460" stop-color="#f8ab89"/><stop offset=".500" stop-color="#f79f7a"/><stop offset=".532" stop-color="#f69c75"/><stop offset=".611" stop-color="#f69a74"/><stop offset=".706" stop-color="#f5936a"/><stop offset=".746" stop-color="#f59369"/><stop offset=".802" stop-color="#f69973"/><stop offset=".849" stop-color="#f7a986"/><stop offset=".873" stop-color="#f8b595"/><stop offset=".968" stop-color="#fde9de"/><stop offset=".976" stop-color="#fdeee5"/><stop offset=".984" stop-color="#f1f4f9"/><stop offset="1" stop-color="#f1f4f9"/></linearGradient><linearGradient id="e27" gradientUnits="userSpaceOnUse" x1="722" x2="1100" y1="0" y2="0"><stop offset=".000" stop-color="#e9eff6"/><stop offset=".056" stop-color="#e9eff6"/><stop offset=".119" stop-color="#f4f6fa"/><stop offset=".127" stop-color="#fdefe7"/><stop offset=".135" stop-color="#fdede4"/><stop offset=".254" stop-color="#fbd5c1"/><stop offset=".357" stop-color="#faccb4"/><stop offset=".389" stop-color="#f9c6ac"/><stop offset=".460" stop-color="#f8ac8a"/><stop offset=".500" stop-color="#f7a07b"/><stop offset=".532" stop-color="#f69c76"/><stop offset=".619" stop-color="#f69b75"/><stop offset=".730" stop-color="#f5946b"/><stop offset=".794" stop-color="#f69a73"/><stop offset=".841" stop-color="#f7a986"/><stop offset=".881" stop-color="#f9bea0"/><stop offset=".968" stop-color="#fdeee5"/><stop offset=".976" stop-color="#f1f4f9"/><stop offset=".984" stop-color="#ebf0f7"/><stop offset="1" stop-color="#ebf0f7"/></linearGradient><linearGradient id="e28" gradientUnits="userSpaceOnUse" x1="722" x2="1100" y1="0" y2="0"><stop offset=".000" stop-color="#e7eef6"/><stop offset=".063" stop-color="#e7edf6"/><stop offset=".127" stop-color="#f3f5fa"/><stop offset=".135" stop-color="#fdf0e8"/><stop offset=".143" stop-color="#fdeee5"/><stop offset=".262" stop-color="#fbd5c1"/><stop offset=".357" stop-color="#facdb5"/><stop offset=".389" stop-color="#f9c7ad"/><stop offset=".476" stop-color="#f7a784"/><stop offset=".508" stop-color="#f79f7a"/><stop offset=".540" stop-color="#f69c76"/><stop offset=".619" stop-color="#f69c76"/><stop offset=".706" stop-color="#f6966e"/><stop offset=".770" stop-color="#f69871"/><stop offset=".817" stop-color="#f7a27e"/><stop offset=".857" stop-color="#f8b494"/><stop offset=".944" stop-color="#fce5d7"/><stop offset=".960" stop-color="#fdeee5"/><stop offset=".968" stop-color="#f1f4f9"/><stop offset=".984" stop-color="#e5ecf5"/><stop offset="1" stop-color="#e5ecf5"/></linearGradient><linearGradient id="e29" gradientUnits="userSpaceOnUse" x1="722" x2="1100" y1="0" y2="0"><stop offset=".000" stop-color="#e6edf5"/><stop offset=".071" stop-color="#e5ecf5"/><stop offset=".143" stop-color="#f4f6fa"/><stop offset=".151" stop-color="#fdefe6"/><stop offset=".159" stop-color="#fdede3"/><stop offset=".262" stop-color="#fbd7c3"/><stop offset=".357" stop-color="#facdb6"/><stop offset=".381" stop-color="#fac9b0"/><stop offset=".405" stop-color="#f9c4a8"/><stop offset=".476" stop-color="#f7a885"/><stop offset=".508" stop-color="#f7a07b"/><stop offset=".548" stop-color="#f69c77"/><stop offset=".627" stop-color="#f69c76"/><stop offset=".722" stop-color="#f6976f"/><stop offset=".778" stop-color="#f69b75"/><stop offset=".817" stop-color="#f7a582"/><stop offset=".857" stop-color="#f8b899"/><stop offset=".952" stop-color="#fdede3"/><stop offset=".960" stop-color="#f2f5f9"/><stop offset=".984" stop-color="#dfe8f3"/><stop offset="1" stop-color="#dfe8f3"/></linearGradient><linearGradient id="e30" gradientUnits="userSpaceOnUse" x1="722" x2="1100" y1="0" y2="0"><stop offset=".000" stop-color="#e5ecf5"/><stop offset=".063" stop-color="#e2eaf4"/><stop offset=".103" stop-color="#e7eef6"/><stop offset=".151" stop-color="#f3f6fa"/><stop offset=".159" stop-color="#fdefe6"/><stop offset=".206" stop-color="#fce3d5"/><stop offset=".270" stop-color="#fbd7c3"/><stop offset=".373" stop-color="#facbb3"/><stop offset=".405" stop-color="#f9c4a8"/><stop offset=".484" stop-color="#f7a682"/><stop offset=".508" stop-color="#f7a07b"/><stop offset=".540" stop-color="#f69d77"/><stop offset=".619" stop-color="#f69c77"/><stop offset=".698" stop-color="#f69971"/><stop offset=".762" stop-color="#f69b74"/><stop offset=".810" stop-color="#f7a582"/><stop offset=".849" stop-color="#f8b798"/><stop offset=".944" stop-color="#fdebe1"/><stop offset=".952" stop-color="#f4f6fa"/><stop offset=".984" stop-color="#dae4f1"/><stop offset="1" stop-color="#dae4f1"/></linearGradient><linearGradient id="e31" gradientUnits="userSpaceOnUse" x1="722" x2="1100" y1="0" y2="0"><stop offset=".000" stop-color="#e3ebf4"/><stop offset=".071" stop-color="#e0e9f3"/><stop offset=".119" stop-color="#e8eef6"/><stop offset=".159" stop-color="#f3f6fa"/><stop offset=".167" stop-color="#fdefe6"/><stop offset=".190" stop-color="#fde9dd"/><stop offset=".278" stop-color="#fbd7c3"/><stop offset=".373" stop-color="#facbb3"/><stop offset=".405" stop-color="#f9c4a8"/><stop offset=".492" stop-color="#f7a480"/><stop offset=".532" stop-color="#f79e78"/><stop offset=".619" stop-color="#f69d77"/><stop offset=".698" stop-color="#f69972"/><stop offset=".762" stop-color="#f69c76"/><stop offset=".810" stop-color="#f7a885"/><stop offset=".873" stop-color="#f9c8ad"/><stop offset=".944" stop-color="#fdefe6"/><stop offset=".952" stop-color="#f0f3f9"/><stop offset=".976" stop-color="#dde7f2"/><stop offset=".984" stop-color="#d3e0ef"/><stop offset="1" stop-color="#d3e0ef"/></linearGradient><linearGradient id="e32" gradientUnits="userSpaceOnUse" x1="722" x2="1100" y1="0" y2="0"><stop offset=".000" stop-color="#e2eaf4"/><stop offset=".071" stop-color="#dee8f3"/><stop offset=".111" stop-color="#e4ecf5"/><stop offset=".167" stop-color="#f4f6fa"/><stop offset=".175" stop-color="#fdeee6"/><stop offset=".222" stop-color="#fce2d4"/><stop offset=".278" stop-color="#fbd7c4"/><stop offset=".381" stop-color="#fac9b0"/><stop offset=".405" stop-color="#f9c4a8"/><stop offset=".492" stop-color="#f7a480"/><stop offset=".548" stop-color="#f69d77"/><stop offset=".627" stop-color="#f69c77"/><stop offset=".690" stop-color="#f69a73"/><stop offset=".746" stop-color="#f69c75"/><stop offset=".778" stop-color="#f7a07c"/><stop offset=".810" stop-color="#f7aa88"/><stop offset=".873" stop-color="#facab1"/><stop offset=".937" stop-color="#fdede3"/><stop offset=".944" stop-color="#f3f5fa"/><stop offset=".968" stop-color="#e0e9f3"/><stop offset=".984" stop-color="#cedced"/><stop offset="1" stop-color="#cedced"/></linearGradient><linearGradient id="e33" gradientUnits="userSpaceOnUse" x1="722" x2="1100" y1="0" y2="0"><stop offset=".000" stop-color="#e1eaf4"/><stop offset=".048" stop-color="#dde6f2"/><stop offset=".079" stop-color="#dde7f2"/><stop offset=".119" stop-color="#e4ecf5"/><stop offset=".167" stop-color="#f2f5f9"/><stop offset=".175" stop-color="#fdf0e8"/><stop offset=".230" stop-color="#fce2d3"/><stop offset=".286" stop-color="#fbd7c3"/><stop offset=".389" stop-color="#f9c7ad"/><stop offset=".492" stop-color="#f7a480"/><stop offset=".540" stop-color="#f79e78"/><stop offset=".675" stop-color="#f69b74"/><stop offset=".722" stop-color="#f69b74"/><stop offset=".754" stop-color="#f69d78"/><stop offset=".802" stop-color="#f7aa87"/><stop offset=".873" stop-color="#facdb4"/><stop offset=".937" stop-color="#fdefe7"/><stop offset=".944" stop-color="#f0f3f9"/><stop offset=".968" stop-color="#dde6f2"/><stop offset=".984" stop-color="#c9d9ec"/><stop offset="1" stop-color="#c9d9ec"/></linearGradient><linearGradient id="e34" gradientUnits="userSpaceOnUse" x1="722" x2="1100" y1="0" y2="0"><stop offset=".000" stop-color="#e1e9f4"/><stop offset=".040" stop-color="#dce6f2"/><stop offset=".079" stop-color="#dce6f2"/><stop offset=".111" stop-color="#e1e9f4"/><stop offset=".175" stop-color="#f3f5fa"/><stop offset=".183" stop-color="#fdefe7"/><stop offset=".190" stop-color="#fdede3"/><stop offset=".270" stop-color="#fcdac8"/><stop offset=".381" stop-color="#f9c8ae"/><stop offset=".492" stop-color="#f7a480"/><stop offset=".540" stop-color="#f79e78"/><stop offset=".675" stop-color="#f69b74"/><stop offset=".730" stop-color="#f69c75"/><stop offset=".754" stop-color="#f79e79"/><stop offset=".786" stop-color="#f7a682"/><stop offset=".817" stop-color="#f8b292"/><stop offset=".841" stop-color="#f9bfa1"/><stop offset=".929" stop-color="#fdede3"/><stop offset=".937" stop-color="#f3f5fa"/><stop offset=".960" stop-color="#e1e9f4"/><stop offset=".984" stop-color="#c6d6ea"/><stop offset="1" stop-color="#c6d6ea"/></linearGradient><linearGradient id="e35" gradientUnits="userSpaceOnUse" x1="722" x2="1100" y1="0" y2="0"><stop offset=".000" stop-color="#e0e9f3"/><stop offset=".063" stop-color="#dae5f1"/><stop offset=".111" stop-color="#e0e9f3"/><stop offset=".175" stop-color="#f2f5f9"/><stop offset=".183" stop-color="#fdf0e8"/><stop offset=".278" stop-color="#fcd9c6"/><stop offset=".389" stop-color="#f9c5a9"/><stop offset=".484" stop-color="#f7a582"/><stop offset=".532" stop-color="#f79e79"/><stop offset=".675" stop-color="#f69b74"/><stop offset=".714" stop-color="#f69b74"/><stop offset=".746" stop-color="#f69d78"/><stop offset=".794" stop-color="#f7aa87"/><stop offset=".857" stop-color="#fac9af"/><stop offset=".929" stop-color="#fdeee6"/><stop offset=".937" stop-color="#f1f4f9"/><stop offset=".960" stop-color="#dfe8f3"/><stop offset=".984" stop-color="#c3d4ea"/><stop offset="1" stop-color="#c3d4ea"/></linearGradient><linearGradient id="e36" gradientUnits="userSpaceOnUse" x1="722" x2="1100" y1="0" y2="0"><stop offset=".000" stop-color="#e0e8f3"/><stop offset=".056" stop-color="#dae5f1"/><stop offset=".079" stop-color="#dbe6f2"/><stop offset=".111" stop-color="#e0e9f3"/><stop offset=".183" stop-color="#f4f6fa"/><stop offset=".190" stop-color="#fdeee6"/><stop offset=".214" stop-color="#fde8dc"/><stop offset=".294" stop-color="#fbd5c1"/><stop offset=".381" stop-color="#f9c5a9"/><stop offset=".492" stop-color="#f7a37f"/><stop offset=".548" stop-color="#f79e78"/><stop offset=".675" stop-color="#f69b74"/><stop offset=".714" stop-color="#f69b74"/><stop offset=".746" stop-color="#f79e78"/><stop offset=".778" stop-color="#f7a581"/><stop offset=".825" stop-color="#f8ba9b"/><stop offset=".929" stop-color="#fcf0e9"/><stop offset=".937" stop-color="#eff2f8"/><stop offset=".960" stop-color="#dde7f2"/><stop offset=".984" stop-color="#c2d4e9"/><stop offset="1" stop-color="#c2d4e9"/></linearGradient><linearGradient id="e37" gradientUnits="userSpaceOnUse" x1="722" x2="1100" y1="0" y2="0"><stop offset=".000" stop-color="#e0e8f3"/><stop offset=".063" stop-color="#dae5f1"/><stop offset=".111" stop-color="#e0e9f3"/><stop offset=".183" stop-color="#f3f5fa"/><stop offset=".190" stop-color="#fdefe6"/><stop offset=".302" stop-color="#fbd3be"/><stop offset=".373" stop-color="#f9c5a9"/><stop offset=".468" stop-color="#f7a885"/><stop offset=".524" stop-color="#f79f7a"/><stop offset=".667" stop-color="#f69b74"/><stop offset=".714" stop-color="#f69b74"/><stop offset=".746" stop-color="#f79e78"/><stop offset=".778" stop-color="#f7a582"/><stop offset=".825" stop-color="#f8bb9d"/><stop offset=".921" stop-color="#fdede3"/><stop offset=".929" stop-color="#f3f5fa"/><stop offset=".960" stop-color="#dce6f2"/><stop offset=".984" stop-color="#c2d3e9"/><stop offset="1" stop-color="#c2d3e9"/></linearGradient><linearGradient id="e38" gradientUnits="userSpaceOnUse" x1="722" x2="1100" y1="0" y2="0"><stop offset=".000" stop-color="#dfe8f3"/><stop offset=".079" stop-color="#dce6f2"/><stop offset=".119" stop-color="#e2eaf4"/><stop offset=".183" stop-color="#f3f5fa"/><stop offset=".190" stop-color="#fdefe7"/><stop offset=".302" stop-color="#fbd3bd"/><stop offset=".381" stop-color="#f9c0a3"/><stop offset=".460" stop-color="#f7a986"/><stop offset=".524" stop-color="#f79f7a"/><stop offset=".683" stop-color="#f69a73"/><stop offset=".738" stop-color="#f69c76"/><stop offset=".778" stop-color="#f7a582"/><stop offset=".810" stop-color="#f8b393"/><stop offset=".921" stop-color="#fdeee5"/><stop offset=".929" stop-color="#f2f4f9"/><stop offset=".960" stop-color="#dce6f2"/><stop offset=".984" stop-color="#c2d4e9"/><stop offset="1" stop-color="#c2d4e9"/></linearGradient><linearGradient id="e39" gradientUnits="userSpaceOnUse" x1="722" x2="1100" y1="0" y2="0"><stop offset=".000" stop-color="#dfe8f3"/><stop offset=".079" stop-color="#dde7f2"/><stop offset=".135" stop-color="#e6edf5"/><stop offset=".183" stop-color="#f3f5fa"/><stop offset=".190" stop-color="#fdefe7"/><stop offset=".437" stop-color="#f8ad8b"/><stop offset=".484" stop-color="#f7a37f"/><stop offset=".524" stop-color="#f79f7a"/><stop offset=".611" stop-color="#f69d78"/><stop offset=".675" stop-color="#f69a73"/><stop offset=".714" stop-color="#f69a73"/><stop offset=".746" stop-color="#f69d77"/><stop offset=".778" stop-color="#f7a582"/><stop offset=".825" stop-color="#f9bd9f"/><stop offset=".921" stop-color="#fdeee6"/><stop offset=".929" stop-color="#f1f4f9"/><stop offset=".960" stop-color="#dce6f2"/><stop offset=".984" stop-color="#c4d5ea"/><stop offset="1" stop-color="#c4d5ea"/></linearGradient><linearGradient id="e40" gradientUnits="userSpaceOnUse" x1="722" x2="1100" y1="0" y2="0"><stop offset=".000" stop-color="#e0e8f3"/><stop offset=".079" stop-color="#dee8f3"/><stop offset=".127" stop-color="#e5ecf5"/><stop offset=".183" stop-color="#f3f6fa"/><stop offset=".190" stop-color="#fdefe6"/><stop offset=".429" stop-color="#f8ad8b"/><stop offset=".492" stop-color="#f7a27d"/><stop offset=".683" stop-color="#f69972"/><stop offset=".738" stop-color="#f69b75"/><stop offset=".762" stop-color="#f7a07b"/><stop offset=".794" stop-color="#f8ac8a"/><stop offset=".921" stop-color="#fdefe6"/><stop offset=".929" stop-color="#f1f4f9"/><stop offset=".960" stop-color="#dde6f2"/><stop offset=".984" stop-color="#c7d7eb"/><stop offset="1" stop-color="#c7d7eb"/></linearGradient><linearGradient id="e41" gradientUnits="userSpaceOnUse" x1="722" x2="1100" y1="0" y2="0"><stop offset=".000" stop-color="#e0e9f3"/><stop offset=".087" stop-color="#e0e9f3"/><stop offset=".127" stop-color="#e6edf5"/><stop offset=".183" stop-color="#f4f6fa"/><stop offset=".190" stop-color="#fdefe6"/><stop offset=".262" stop-color="#fcdccc"/><stop offset=".357" stop-color="#f9bfa2"/><stop offset=".421" stop-color="#f8ad8b"/><stop offset=".492" stop-color="#f7a17d"/><stop offset=".595" stop-color="#f79e79"/><stop offset=".690" stop-color="#f69971"/><stop offset=".746" stop-color="#f69c76"/><stop offset=".778" stop-color="#f7a581"/><stop offset=".794" stop-color="#f8ac8a"/><stop offset=".833" stop-color="#f9c3a6"/><stop offset=".921" stop-color="#fdefe6"/><stop offset=".929" stop-color="#f1f4f9"/><stop offset=".960" stop-color="#dee7f3"/><stop offset=".984" stop-color="#cad9ec"/><stop offset="1" stop-color="#cad9ec"/></linearGradient><linearGradient id="e42" gradientUnits="userSpaceOnUse" x1="722" x2="1100" y1="0" y2="0"><stop offset=".000" stop-color="#e0e9f3"/><stop offset=".071" stop-color="#e0e9f3"/><stop offset=".119" stop-color="#e6edf5"/><stop offset=".175" stop-color="#f2f5f9"/><stop offset=".183" stop-color="#fdf0e8"/><stop offset=".270" stop-color="#fcdac8"/><stop offset=".365" stop-color="#f8bb9c"/><stop offset=".413" stop-color="#f8ad8b"/><stop offset=".492" stop-color="#f7a17d"/><stop offset=".579" stop-color="#f79f7a"/><stop offset=".683" stop-color="#f69871"/><stop offset=".746" stop-color="#f69c75"/><stop offset=".770" stop-color="#f7a17d"/><stop offset=".786" stop-color="#f7a885"/><stop offset=".833" stop-color="#f9c3a6"/><stop offset=".921" stop-color="#fdeee5"/><stop offset=".929" stop-color="#f2f5f9"/><stop offset=".968" stop-color="#dbe5f2"/><stop offset=".984" stop-color="#cedced"/><stop offset="1" stop-color="#cedced"/></linearGradient><linearGradient id="e43" gradientUnits="userSpaceOnUse" x1="722" x2="1100" y1="0" y2="0"><stop offset=".000" stop-color="#e0e9f3"/><stop offset=".079" stop-color="#e2eaf4"/><stop offset=".175" stop-color="#f3f5fa"/><stop offset=".183" stop-color="#fdefe7"/><stop offset=".262" stop-color="#fcdccb"/><stop offset=".365" stop-color="#f8b99a"/><stop offset=".397" stop-color="#f8af8e"/><stop offset=".437" stop-color="#f7a784"/><stop offset=".492" stop-color="#f7a27d"/><stop offset=".603" stop-color="#f79e79"/><stop offset=".690" stop-color="#f69870"/><stop offset=".738" stop-color="#f69a73"/><stop offset=".770" stop-color="#f7a17d"/><stop offset=".794" stop-color="#f8ab89"/><stop offset=".841" stop-color="#f9c7ac"/><stop offset=".921" stop-color="#fdede4"/><stop offset=".929" stop-color="#f3f5fa"/><stop offset=".984" stop-color="#d3e0ef"/><stop offset="1" stop-color="#d3e0ef"/></linearGradient><linearGradient id="e44" gradientUnits="userSpaceOnUse" x1="722" x2="1100" y1="0" y2="0"><stop offset=".000" stop-color="#e1e9f4"/><stop offset=".063" stop-color="#e2eaf4"/><stop offset=".167" stop-color="#f2f5f9"/><stop offset=".175" stop-color="#fdf0e8"/><stop offset=".262" stop-color="#fcdbca"/><stop offset=".357" stop-color="#f8bb9c"/><stop offset=".397" stop-color="#f8ae8d"/><stop offset=".429" stop-color="#f7a885"/><stop offset=".476" stop-color="#f7a37f"/><stop offset=".603" stop-color="#f79e79"/><stop offset=".698" stop-color="#f6976f"/><stop offset=".738" stop-color="#f69972"/><stop offset=".778" stop-color="#f7a37f"/><stop offset=".833" stop-color="#f9c2a5"/><stop offset=".889" stop-color="#fcdece"/><stop offset=".929" stop-color="#fdefe7"/><stop offset=".937" stop-color="#f1f4f9"/><stop offset=".984" stop-color="#d9e4f1"/><stop offset="1" stop-color="#d9e4f1"/></linearGradient><linearGradient id="e45" gradientUnits="userSpaceOnUse" x1="722" x2="1100" y1="0" y2="0"><stop offset=".000" stop-color="#e1e9f4"/><stop offset=".063" stop-color="#e3ebf4"/><stop offset=".119" stop-color="#eaf0f7"/><stop offset=".167" stop-color="#f4f6fa"/><stop offset=".175" stop-color="#fdefe7"/><stop offset=".254" stop-color="#fcddcd"/><stop offset=".349" stop-color="#f9bd9f"/><stop offset=".389" stop-color="#f8b08f"/><stop offset=".421" stop-color="#f7a987"/><stop offset=".460" stop-color="#f7a581"/><stop offset=".603" stop-color="#f79e79"/><stop offset=".690" stop-color="#f6976f"/><stop offset=".738" stop-color="#f69972"/><stop offset=".762" stop-color="#f79e78"/><stop offset=".786" stop-color="#f7a683"/><stop offset=".889" stop-color="#fcddcc"/><stop offset=".929" stop-color="#fdede4"/><stop offset=".937" stop-color="#f4f6fa"/><stop offset=".984" stop-color="#dee8f3"/><stop offset="1" stop-color="#dee8f3"/></linearGradient><linearGradient id="e46" gradientUnits="userSpaceOnUse" x1="722" x2="1100" y1="0" y2="0"><stop offset=".000" stop-color="#e1e9f4"/><stop offset=".071" stop-color="#e5ecf5"/><stop offset=".159" stop-color="#f3f5fa"/><stop offset=".167" stop-color="#fdf0e7"/><stop offset=".262" stop-color="#fcdac9"/><stop offset=".349" stop-color="#f9bd9f"/><stop offset=".397" stop-color="#f8ae8d"/><stop offset=".444" stop-color="#f7a784"/><stop offset=".603" stop-color="#f79e79"/><stop offset=".698" stop-color="#f6966e"/><stop offset=".738" stop-color="#f69971"/><stop offset=".786" stop-color="#f7a582"/><stop offset=".857" stop-color="#faccb3"/><stop offset=".937" stop-color="#fdeee5"/><stop offset=".944" stop-color="#f3f5fa"/><stop offset=".984" stop-color="#e3ebf4"/><stop offset="1" stop-color="#e3ebf4"/></linearGradient><linearGradient id="e47" gradientUnits="userSpaceOnUse" x1="722" x2="1100" y1="0" y2="0"><stop offset=".000" stop-color="#e2eaf4"/><stop offset=".063" stop-color="#e5ecf5"/><stop offset=".151" stop-color="#f3f5fa"/><stop offset=".159" stop-color="#fdf0e8"/><stop offset=".238" stop-color="#fce0d1"/><stop offset=".365" stop-color="#f8b899"/><stop offset=".413" stop-color="#f8ad8b"/><stop offset=".675" stop-color="#f6976f"/><stop offset=".714" stop-color="#f6966e"/><stop offset=".762" stop-color="#f69d77"/><stop offset=".786" stop-color="#f7a581"/><stop offset=".889" stop-color="#fcd9c6"/><stop offset=".944" stop-color="#fdeee5"/><stop offset=".952" stop-color="#f4f6fa"/><stop offset=".984" stop-color="#e8eef6"/><stop offset="1" stop-color="#e8eef6"/></linearGradient><linearGradient id="e48" gradientUnits="userSpaceOnUse" x1="722" x2="1100" y1="0" y2="0"><stop offset=".000" stop-color="#e2eaf4"/><stop offset=".056" stop-color="#e5ecf5"/><stop offset=".143" stop-color="#f3f5fa"/><stop offset=".151" stop-color="#f6f5f6"/><stop offset=".159" stop-color="#fdefe6"/><stop offset=".238" stop-color="#fcdfd0"/><stop offset=".349" stop-color="#f9bfa1"/><stop offset=".413" stop-color="#f8ae8d"/><stop offset=".683" stop-color="#f6966e"/><stop offset=".714" stop-color="#f6966e"/><stop offset=".746" stop-color="#f69972"/><stop offset=".786" stop-color="#f7a480"/><stop offset=".849" stop-color="#f9c5a9"/><stop offset=".897" stop-color="#fcdac7"/><stop offset=".960" stop-color="#fdefe7"/><stop offset=".968" stop-color="#f3f5fa"/><stop offset=".984" stop-color="#eef2f8"/><stop offset="1" stop-color="#eef2f8"/></linearGradient><linearGradient id="e49" gradientUnits="userSpaceOnUse" x1="722" x2="1100" y1="0" y2="0"><stop offset=".000" stop-color="#e2eaf4"/><stop offset=".040" stop-color="#e4ecf5"/><stop offset=".143" stop-color="#f4f6fa"/><stop offset=".151" stop-color="#fdefe7"/><stop offset=".238" stop-color="#fcdfcf"/><stop offset=".397" stop-color="#f8b393"/><stop offset=".659" stop-color="#f69870"/><stop offset=".714" stop-color="#f6966e"/><stop offset=".746" stop-color="#f69972"/><stop offset=".778" stop-color="#f7a17c"/><stop offset=".817" stop-color="#f8b291"/><stop offset=".849" stop-color="#f9c3a6"/><stop offset=".913" stop-color="#fcddcc"/><stop offset=".976" stop-color="#fdefe6"/><stop offset=".984" stop-color="#f4f6fa"/><stop offset="1" stop-color="#f4f6fa"/></linearGradient><linearGradient id="e50" gradientUnits="userSpaceOnUse" x1="722" x2="1100" y1="0" y2="0"><stop offset=".000" stop-color="#e3eaf4"/><stop offset=".024" stop-color="#e3ebf4"/><stop offset=".135" stop-color="#f4f6fa"/><stop offset=".143" stop-color="#fdefe7"/><stop offset=".238" stop-color="#fcdece"/><stop offset=".373" stop-color="#f8bb9c"/><stop offset=".429" stop-color="#f8b190"/><stop offset=".683" stop-color="#f6966e"/><stop offset=".730" stop-color="#f6976f"/><stop offset=".778" stop-color="#f7a07b"/><stop offset=".802" stop-color="#f7a986"/><stop offset=".857" stop-color="#f9c4a8"/><stop offset=".921" stop-color="#fcdccb"/><stop offset=".984" stop-color="#fdece2"/><stop offset="1" stop-color="#fdece2"/></linearGradient><linearGradient id="e51" gradientUnits="userSpaceOnUse" x1="722" x2="1100" y1="0" y2="0"><stop offset=".000" stop-color="#e3ebf4"/><stop offset=".071" stop-color="#eaeff7"/><stop offset=".127" stop-color="#f3f6fa"/><stop offset=".135" stop-color="#fdefe7"/><stop offset=".230" stop-color="#fcdecf"/><stop offset=".365" stop-color="#f9bfa1"/><stop offset=".413" stop-color="#f8b596"/><stop offset=".516" stop-color="#f7aa88"/><stop offset=".627" stop-color="#f69b74"/><stop offset=".683" stop-color="#f6966e"/><stop offset=".714" stop-color="#f6966e"/><stop offset=".770" stop-color="#f79e78"/><stop offset=".794" stop-color="#f7a581"/><stop offset=".857" stop-color="#f9c1a4"/><stop offset=".937" stop-color="#fcdccc"/><stop offset=".984" stop-color="#fde7da"/><stop offset="1" stop-color="#fde7da"/></linearGradient><linearGradient id="e52" gradientUnits="userSpaceOnUse" x1="722" x2="1100" y1="0" y2="0"><stop offset=".000" stop-color="#e4ebf5"/><stop offset=".119" stop-color="#f3f6fa"/><stop offset=".127" stop-color="#fdf0e7"/><stop offset=".214" stop-color="#fce1d2"/><stop offset=".317" stop-color="#facab1"/><stop offset=".397" stop-color="#f8ba9c"/><stop offset=".492" stop-color="#f8af8e"/><stop offset=".627" stop-color="#f69b74"/><stop offset=".683" stop-color="#f6966e"/><stop offset=".722" stop-color="#f6976f"/><stop offset=".778" stop-color="#f79f7a"/><stop offset=".802" stop-color="#f7a683"/><stop offset=".881" stop-color="#f9c7ac"/><stop offset=".937" stop-color="#fbd8c5"/><stop offset=".984" stop-color="#fce2d3"/><stop offset="1" stop-color="#fce2d3"/></linearGradient><linearGradient id="e53" gradientUnits="userSpaceOnUse" x1="722" x2="1100" y1="0" y2="0"><stop offset=".000" stop-color="#e5ecf5"/><stop offset=".111" stop-color="#f3f5fa"/><stop offset=".119" stop-color="#fdf0e8"/><stop offset=".381" stop-color="#f9bfa2"/><stop offset=".492" stop-color="#f8b090"/><stop offset=".611" stop-color="#f69d77"/><stop offset=".675" stop-color="#f6976f"/><stop offset=".730" stop-color="#f69870"/><stop offset=".786" stop-color="#f7a17c"/><stop offset=".825" stop-color="#f8ae8c"/><stop offset=".889" stop-color="#f9c6ab"/><stop offset=".937" stop-color="#fbd3be"/><stop offset=".984" stop-color="#fcddcc"/><stop offset="1" stop-color="#fcddcc"/></linearGradient><linearGradient id="e54" gradientUnits="userSpaceOnUse" x1="722" x2="1100" y1="0" y2="0"><stop offset=".000" stop-color="#e6edf5"/><stop offset=".103" stop-color="#f3f5fa"/><stop offset=".111" stop-color="#fdf0e8"/><stop offset=".230" stop-color="#fcdccb"/><stop offset=".317" stop-color="#facbb2"/><stop offset=".508" stop-color="#f8b08f"/><stop offset=".595" stop-color="#f79f7b"/><stop offset=".667" stop-color="#f69870"/><stop offset=".722" stop-color="#f69870"/><stop offset=".778" stop-color="#f79f79"/><stop offset=".817" stop-color="#f7a986"/><stop offset=".889" stop-color="#f9c2a5"/><stop offset=".937" stop-color="#faceb7"/><stop offset=".984" stop-color="#fbd7c4"/><stop offset="1" stop-color="#fbd7c4"/></linearGradient><linearGradient id="e55" gradientUnits="userSpaceOnUse" x1="722" x2="1100" y1="0" y2="0"><stop offset=".000" stop-color="#e8eef6"/><stop offset=".024" stop-color="#e8eef6"/><stop offset=".095" stop-color="#f3f5fa"/><stop offset=".103" stop-color="#fdf0e8"/><stop offset=".302" stop-color="#faceb6"/><stop offset=".484" stop-color="#f8b596"/><stop offset=".611" stop-color="#f79e78"/><stop offset=".683" stop-color="#f69870"/><stop offset=".714" stop-color="#f69870"/><stop offset=".770" stop-color="#f69d77"/><stop offset=".817" stop-color="#f7a784"/><stop offset=".905" stop-color="#f9c2a5"/><stop offset=".937" stop-color="#fac9b0"/><stop offset=".976" stop-color="#fbd1bb"/><stop offset="1" stop-color="#fbd2bc"/></linearGradient><linearGradient id="e56" gradientUnits="userSpaceOnUse" x1="722" x2="1100" y1="0" y2="0"><stop offset=".000" stop-color="#e9eff6"/><stop offset=".087" stop-color="#f3f5fa"/><stop offset=".095" stop-color="#fdf0e8"/><stop offset=".278" stop-color="#fbd1bb"/><stop offset=".484" stop-color="#f8b797"/><stop offset=".595" stop-color="#f7a17c"/><stop offset=".667" stop-color="#f69972"/><stop offset=".730" stop-color="#f69972"/><stop offset=".786" stop-color="#f79f7a"/><stop offset=".825" stop-color="#f7a784"/><stop offset=".929" stop-color="#f9c3a7"/><stop offset=".984" stop-color="#facdb5"/><stop offset="1" stop-color="#facdb5"/></linearGradient><linearGradient id="e57" gradientUnits="userSpaceOnUse" x1="722" x2="1100" y1="0" y2="0"><stop offset=".000" stop-color="#ebf0f7"/><stop offset=".079" stop-color="#f3f6fa"/><stop offset=".087" stop-color="#fdf0e8"/><stop offset=".270" stop-color="#fbd2bc"/><stop offset=".325" stop-color="#facbb1"/><stop offset=".452" stop-color="#f9bc9f"/><stop offset=".508" stop-color="#f8b394"/><stop offset=".595" stop-color="#f7a27d"/><stop offset=".667" stop-color="#f69a73"/><stop offset=".746" stop-color="#f69b74"/><stop offset=".802" stop-color="#f7a17c"/><stop offset=".960" stop-color="#f9c4a9"/><stop offset="1" stop-color="#fac8ae"/></linearGradient><linearGradient id="e58" gradientUnits="userSpaceOnUse" x1="722" x2="1100" y1="0" y2="0"><stop offset=".000" stop-color="#edf2f8"/><stop offset=".071" stop-color="#f4f6fa"/><stop offset=".079" stop-color="#fdefe7"/><stop offset=".270" stop-color="#fbd1bb"/><stop offset=".452" stop-color="#f9bda0"/><stop offset=".500" stop-color="#f8b697"/><stop offset=".603" stop-color="#f7a17d"/><stop offset=".675" stop-color="#f69b74"/><stop offset=".730" stop-color="#f69b74"/><stop offset=".802" stop-color="#f7a07b"/><stop offset=".857" stop-color="#f7a986"/><stop offset=".984" stop-color="#f9c3a7"/><stop offset="1" stop-color="#f9c3a7"/></linearGradient><linearGradient id="e59" gradientUnits="userSpaceOnUse" x1="722" x2="1100" y1="0" y2="0"><stop offset=".000" stop-color="#f0f3f9"/><stop offset=".056" stop-color="#f4f6fa"/><stop offset=".063" stop-color="#fdf0e8"/><stop offset=".270" stop-color="#fbd1ba"/><stop offset=".468" stop-color="#f9bc9e"/><stop offset=".603" stop-color="#f7a27f"/><stop offset=".659" stop-color="#f69d77"/><stop offset=".730" stop-color="#f69c75"/><stop offset=".802" stop-color="#f79f7a"/><stop offset=".881" stop-color="#f7aa87"/><stop offset=".984" stop-color="#f9bea0"/><stop offset="1" stop-color="#f9bea0"/></linearGradient><linearGradient id="e60" gradientUnits="userSpaceOnUse" x1="722" x2="1100" y1="0" y2="0"><stop offset=".000" stop-color="#f2f5f9"/><stop offset=".040" stop-color="#f4f6fa"/><stop offset=".048" stop-color="#fdf0e7"/><stop offset=".127" stop-color="#fde6da"/><stop offset=".294" stop-color="#facdb5"/><stop offset=".460" stop-color="#f9bda0"/><stop offset=".595" stop-color="#f7a582"/><stop offset=".651" stop-color="#f79f79"/><stop offset=".730" stop-color="#f69c77"/><stop offset=".833" stop-color="#f7a17c"/><stop offset=".905" stop-color="#f7a987"/><stop offset=".984" stop-color="#f8b899"/><stop offset="1" stop-color="#f8b899"/></linearGradient><linearGradient id="e61" gradientUnits="userSpaceOnUse" x1="722" x2="1100" y1="0" y2="0"><stop offset=".000" stop-color="#fdf0e8"/><stop offset=".079" stop-color="#fdebe1"/><stop offset=".278" stop-color="#facfb7"/><stop offset=".468" stop-color="#f9bc9f"/><stop offset=".611" stop-color="#f7a480"/><stop offset=".651" stop-color="#f7a07b"/><stop offset=".698" stop-color="#f79e78"/><stop offset=".833" stop-color="#f79f7a"/><stop offset=".913" stop-color="#f7a683"/><stop offset=".984" stop-color="#f8b393"/><stop offset="1" stop-color="#f8b393"/></linearGradient><linearGradient id="e62" gradientUnits="userSpaceOnUse" x1="722" x2="1100" y1="0" y2="0"><stop offset=".000" stop-color="#fdeee5"/><stop offset=".079" stop-color="#fde9df"/><stop offset=".286" stop-color="#facdb5"/><stop offset=".484" stop-color="#f8bb9d"/><stop offset=".611" stop-color="#f7a582"/><stop offset=".659" stop-color="#f7a17c"/><stop offset=".722" stop-color="#f79e79"/><stop offset=".849" stop-color="#f79f79"/><stop offset=".921" stop-color="#f7a380"/><stop offset=".984" stop-color="#f8af8e"/><stop offset="1" stop-color="#f8af8e"/></linearGradient><linearGradient id="e63" gradientUnits="userSpaceOnUse" x1="722" x2="1100" y1="0" y2="0"><stop offset=".000" stop-color="#fdece2"/><stop offset=".087" stop-color="#fde7dc"/><stop offset=".302" stop-color="#facbb2"/><stop offset=".492" stop-color="#f8ba9c"/><stop offset=".643" stop-color="#f7a37f"/><stop offset=".794" stop-color="#f79e78"/><stop offset=".873" stop-color="#f79e78"/><stop offset=".921" stop-color="#f7a07c"/><stop offset=".984" stop-color="#f8ab89"/><stop offset="1" stop-color="#f8ab89"/></linearGradient><linearGradient id="e64" gradientUnits="userSpaceOnUse" x1="722" x2="1100" y1="0" y2="0"><stop offset=".000" stop-color="#fdeadf"/><stop offset=".063" stop-color="#fde8dd"/><stop offset=".111" stop-color="#fce4d7"/><stop offset=".294" stop-color="#faccb3"/><stop offset=".500" stop-color="#f8b99b"/><stop offset=".611" stop-color="#f7a885"/><stop offset=".651" stop-color="#f7a480"/><stop offset=".833" stop-color="#f69c76"/><stop offset=".889" stop-color="#f69c76"/><stop offset=".937" stop-color="#f79f7a"/><stop offset=".984" stop-color="#f7a885"/><stop offset="1" stop-color="#f7a885"/></linearGradient><linearGradient id="e65" gradientUnits="userSpaceOnUse" x1="722" x2="1100" y1="0" y2="0"><stop offset=".000" stop-color="#fde8dd"/><stop offset=".063" stop-color="#fde7db"/><stop offset=".143" stop-color="#fce0d1"/><stop offset=".325" stop-color="#fac8ae"/><stop offset=".508" stop-color="#f8b89a"/><stop offset=".619" stop-color="#f7a885"/><stop offset=".659" stop-color="#f7a581"/><stop offset=".841" stop-color="#f69b75"/><stop offset=".897" stop-color="#f69b74"/><stop offset=".937" stop-color="#f69d77"/><stop offset=".984" stop-color="#f7a582"/><stop offset="1" stop-color="#f7a582"/></linearGradient><linearGradient id="e66" gradientUnits="userSpaceOnUse" x1="722" x2="1100" y1="0" y2="0"><stop offset=".000" stop-color="#fde6da"/><stop offset=".056" stop-color="#fde6da"/><stop offset=".119" stop-color="#fce2d4"/><stop offset=".317" stop-color="#fac9af"/><stop offset=".492" stop-color="#f8bb9c"/><stop offset=".651" stop-color="#f7a683"/><stop offset=".865" stop-color="#f69a73"/><stop offset=".929" stop-color="#f69b74"/><stop offset=".984" stop-color="#f7a37f"/><stop offset="1" stop-color="#f7a37f"/></linearGradient><linearGradient id="e67" gradientUnits="userSpaceOnUse" x1="722" x2="1100" y1="0" y2="0"><stop offset=".000" stop-color="#fce5d8"/><stop offset=".063" stop-color="#fce5d8"/><stop offset=".151" stop-color="#fcdfcf"/><stop offset=".333" stop-color="#f9c8ad"/><stop offset=".500" stop-color="#f8ba9c"/><stop offset=".627" stop-color="#f7a986"/><stop offset=".738" stop-color="#f7a380"/><stop offset=".897" stop-color="#f69971"/><stop offset=".937" stop-color="#f69a73"/><stop offset=".984" stop-color="#f7a17d"/><stop offset="1" stop-color="#f7a17d"/></linearGradient><linearGradient id="e68" gradientUnits="userSpaceOnUse" x1="722" x2="1100" y1="0" y2="0"><stop offset=".000" stop-color="#fce4d6"/><stop offset=".063" stop-color="#fce4d7"/><stop offset=".111" stop-color="#fce2d4"/><stop offset=".183" stop-color="#fcdbca"/><stop offset=".310" stop-color="#facab1"/><stop offset=".508" stop-color="#f8b99b"/><stop offset=".587" stop-color="#f8ae8c"/><stop offset=".643" stop-color="#f7a885"/><stop offset=".730" stop-color="#f7a582"/><stop offset=".881" stop-color="#f69871"/><stop offset=".929" stop-color="#f69971"/><stop offset=".984" stop-color="#f7a07b"/><stop offset="1" stop-color="#f7a07b"/></linearGradient><linearGradient id="e69" gradientUnits="userSpaceOnUse" x1="722" x2="1100" y1="0" y2="0"><stop offset=".000" stop-color="#fce2d4"/><stop offset=".079" stop-color="#fce3d6"/><stop offset=".119" stop-color="#fce1d3"/><stop offset=".175" stop-color="#fcdccc"/><stop offset=".325" stop-color="#fac9af"/><stop offset=".516" stop-color="#f8b89a"/><stop offset=".635" stop-color="#f7a986"/><stop offset=".738" stop-color="#f7a683"/><stop offset=".897" stop-color="#f69870"/><stop offset=".937" stop-color="#f69871"/><stop offset=".984" stop-color="#f79f7a"/><stop offset="1" stop-color="#f79f7a"/></linearGradient><linearGradient id="e70" gradientUnits="userSpaceOnUse" x1="722" x2="1100" y1="0" y2="0"><stop offset=".000" stop-color="#fce1d3"/><stop offset=".111" stop-color="#fce2d4"/><stop offset=".190" stop-color="#fcdbca"/><stop offset=".325" stop-color="#facab0"/><stop offset=".500" stop-color="#f8bb9d"/><stop offset=".587" stop-color="#f8ad8c"/><stop offset=".635" stop-color="#f7a986"/><stop offset=".746" stop-color="#f7a684"/><stop offset=".905" stop-color="#f69870"/><stop offset=".937" stop-color="#f69871"/><stop offset=".984" stop-color="#f79f7a"/><stop offset="1" stop-color="#f79f7a"/></linearGradient><linearGradient id="e71" gradientUnits="userSpaceOnUse" x1="722" x2="1100" y1="0" y2="0"><stop offset=".000" stop-color="#fce0d2"/><stop offset=".056" stop-color="#fce3d5"/><stop offset=".135" stop-color="#fce1d2"/><stop offset=".190" stop-color="#fcdccb"/><stop offset=".349" stop-color="#f9c8ad"/><stop offset=".508" stop-color="#f8ba9c"/><stop offset=".619" stop-color="#f7aa87"/><stop offset=".738" stop-color="#f7a886"/><stop offset=".897" stop-color="#f69871"/><stop offset=".937" stop-color="#f69871"/><stop offset="1" stop-color="#f79f79"/></linearGradient><linearGradient id="e72" gradientUnits="userSpaceOnUse" x1="722" x2="1100" y1="0" y2="0"><stop offset=".000" stop-color="#fce0d0"/><stop offset=".071" stop-color="#fce3d5"/><stop offset=".151" stop-color="#fce0d1"/><stop offset=".190" stop-color="#fcdccc"/><stop offset=".341" stop-color="#fac9af"/><stop offset=".460" stop-color="#f9c0a3"/><stop offset=".619" stop-color="#f7a987"/><stop offset=".746" stop-color="#f7a987"/><stop offset=".857" stop-color="#f69c76"/><stop offset=".913" stop-color="#f69871"/><stop offset=".944" stop-color="#f69972"/><stop offset=".984" stop-color="#f79f7a"/><stop offset="1" stop-color="#f79f7a"/></linearGradient><linearGradient id="e73" gradientUnits="userSpaceOnUse" x1="722" x2="1100" y1="0" y2="0"><stop offset=".000" stop-color="#fcdfcf"/><stop offset=".079" stop-color="#fce3d5"/><stop offset=".135" stop-color="#fce1d3"/><stop offset=".206" stop-color="#fcdbca"/><stop offset=".341" stop-color="#facab0"/><stop offset=".476" stop-color="#f9bfa1"/><stop offset=".571" stop-color="#f8af8e"/><stop offset=".627" stop-color="#f7a986"/><stop offset=".754" stop-color="#f7aa88"/><stop offset=".913" stop-color="#f69972"/><stop offset=".937" stop-color="#f69972"/><stop offset="1" stop-color="#f79f7a"/></linearGradient><linearGradient id="e74" gradientUnits="userSpaceOnUse" x1="722" x2="1100" y1="0" y2="0"><stop offset=".000" stop-color="#fcdece"/><stop offset=".079" stop-color="#fce3d5"/><stop offset=".151" stop-color="#fce1d2"/><stop offset=".214" stop-color="#fcdbca"/><stop offset=".341" stop-color="#facab1"/><stop offset=".492" stop-color="#f9bda0"/><stop offset=".611" stop-color="#f7aa87"/><stop offset=".651" stop-color="#f7a886"/><stop offset=".714" stop-color="#f8ab8a"/><stop offset=".762" stop-color="#f8ab89"/><stop offset=".849" stop-color="#f79f7b"/><stop offset=".913" stop-color="#f69a73"/><stop offset=".937" stop-color="#f69a73"/><stop offset="1" stop-color="#f7a07b"/></linearGradient><linearGradient id="e75" gradientUnits="userSpaceOnUse" x1="722" x2="1100" y1="0" y2="0"><stop offset=".000" stop-color="#fcdecd"/><stop offset=".087" stop-color="#fce3d5"/><stop offset=".159" stop-color="#fce1d2"/><stop offset=".214" stop-color="#fcdccb"/><stop offset=".341" stop-color="#facbb2"/><stop offset=".468" stop-color="#f9c1a4"/><stop offset=".587" stop-color="#f8ac8b"/><stop offset=".619" stop-color="#f7a986"/><stop offset=".746" stop-color="#f8ad8c"/><stop offset=".905" stop-color="#f69c75"/><stop offset=".944" stop-color="#f69b75"/><stop offset="1" stop-color="#f7a07c"/></linearGradient><linearGradient id="e76" gradientUnits="userSpaceOnUse" x1="722" x2="1100" y1="0" y2="0"><stop offset=".000" stop-color="#fcddcc"/><stop offset=".095" stop-color="#fce3d5"/><stop offset=".183" stop-color="#fcdfd0"/><stop offset=".341" stop-color="#faccb3"/><stop offset=".492" stop-color="#f9bea1"/><stop offset=".579" stop-color="#f8ad8c"/><stop offset=".619" stop-color="#f7a986"/><stop offset=".754" stop-color="#f8ae8d"/><stop offset=".913" stop-color="#f69c76"/><stop offset=".952" stop-color="#f69d77"/><stop offset="1" stop-color="#f7a17d"/></linearGradient><linearGradient id="e77" gradientUnits="userSpaceOnUse" x1="722" x2="1100" y1="0" y2="0"><stop offset=".000" stop-color="#fcdccb"/><stop offset=".079" stop-color="#fce2d4"/><stop offset=".167" stop-color="#fce1d2"/><stop offset=".222" stop-color="#fcdccb"/><stop offset=".341" stop-color="#facdb4"/><stop offset=".468" stop-color="#f9c2a5"/><stop offset=".611" stop-color="#f7a987"/><stop offset=".643" stop-color="#f7a986"/><stop offset=".746" stop-color="#f8af8f"/><stop offset=".778" stop-color="#f8ae8c"/><stop offset=".897" stop-color="#f79f79"/><stop offset=".944" stop-color="#f79e78"/><stop offset="1" stop-color="#f7a27e"/></linearGradient><linearGradient id="e78" gradientUnits="userSpaceOnUse" x1="722" x2="1100" y1="0" y2="0"><stop offset=".000" stop-color="#fcdbca"/><stop offset=".087" stop-color="#fce2d4"/><stop offset=".167" stop-color="#fce1d2"/><stop offset=".238" stop-color="#fcdac9"/><stop offset=".373" stop-color="#facab0"/><stop offset=".452" stop-color="#f9c4a8"/><stop offset=".492" stop-color="#f9bfa2"/><stop offset=".571" stop-color="#f8af8e"/><stop offset=".619" stop-color="#f7a987"/><stop offset=".651" stop-color="#f7aa87"/><stop offset=".738" stop-color="#f8b190"/><stop offset=".762" stop-color="#f8b090"/><stop offset=".905" stop-color="#f79f7a"/><stop offset=".937" stop-color="#f79e79"/><stop offset="1" stop-color="#f7a37f"/></linearGradient><linearGradient id="e79" gradientUnits="userSpaceOnUse" x1="722" x2="1100" y1="0" y2="0"><stop offset=".000" stop-color="#fcdac8"/><stop offset=".087" stop-color="#fce1d3"/><stop offset=".167" stop-color="#fce1d2"/><stop offset=".222" stop-color="#fcdccc"/><stop offset=".357" stop-color="#faccb3"/><stop offset=".460" stop-color="#f9c4a7"/><stop offset=".500" stop-color="#f9bea1"/><stop offset=".579" stop-color="#f8ae8d"/><stop offset=".611" stop-color="#f7aa88"/><stop offset=".651" stop-color="#f7aa88"/><stop offset=".746" stop-color="#f8b292"/><stop offset=".802" stop-color="#f8ae8d"/><stop offset=".913" stop-color="#f7a07b"/><stop offset=".960" stop-color="#f7a17c"/><stop offset="1" stop-color="#f7a481"/></linearGradient><linearGradient id="e80" gradientUnits="userSpaceOnUse" x1="722" x2="1100" y1="0" y2="0"><stop offset=".000" stop-color="#fcd9c7"/><stop offset=".016" stop-color="#fcd9c7"/><stop offset=".071" stop-color="#fce0d1"/><stop offset=".159" stop-color="#fce1d2"/><stop offset=".246" stop-color="#fcdac8"/><stop offset=".349" stop-color="#facdb5"/><stop offset=".476" stop-color="#f9c2a6"/><stop offset=".603" stop-color="#f8ac8a"/><stop offset=".643" stop-color="#f8ab89"/><stop offset=".722" stop-color="#f8b292"/><stop offset=".762" stop-color="#f8b393"/><stop offset=".897" stop-color="#f7a27e"/><stop offset=".937" stop-color="#f7a17c"/><stop offset="1" stop-color="#f7a582"/></linearGradient><linearGradient id="e81" gradientUnits="userSpaceOnUse" x1="722" x2="1100" y1="0" y2="0"><stop offset=".000" stop-color="#fbd8c5"/><stop offset=".111" stop-color="#fce0d2"/><stop offset=".190" stop-color="#fcdecf"/><stop offset=".365" stop-color="#faccb3"/><stop offset=".468" stop-color="#f9c4a7"/><stop offset=".579" stop-color="#f8b090"/><stop offset=".611" stop-color="#f8ad8b"/><stop offset=".643" stop-color="#f8ac8b"/><stop offset=".730" stop-color="#f8b494"/><stop offset=".762" stop-color="#f8b494"/><stop offset=".905" stop-color="#f7a37f"/><stop offset=".952" stop-color="#f7a27e"/><stop offset="1" stop-color="#f7a683"/></linearGradient><linearGradient id="e82" gradientUnits="userSpaceOnUse" x1="722" x2="1100" y1="0" y2="0"><stop offset=".000" stop-color="#fbd6c3"/><stop offset=".016" stop-color="#fbd6c3"/><stop offset=".087" stop-color="#fcdfcf"/><stop offset=".159" stop-color="#fcdfd0"/><stop offset=".222" stop-color="#fcdcca"/><stop offset=".341" stop-color="#faceb7"/><stop offset=".460" stop-color="#f9c5a9"/><stop offset=".611" stop-color="#f8ae8d"/><stop offset=".651" stop-color="#f8ae8d"/><stop offset=".722" stop-color="#f8b495"/><stop offset=".762" stop-color="#f8b595"/><stop offset=".913" stop-color="#f7a480"/><stop offset=".944" stop-color="#f7a37f"/><stop offset="1" stop-color="#f7a785"/></linearGradient><linearGradient id="e83" gradientUnits="userSpaceOnUse" x1="722" x2="1100" y1="0" y2="0"><stop offset=".000" stop-color="#fbd5c0"/><stop offset=".016" stop-color="#fbd5c0"/><stop offset=".087" stop-color="#fcddcd"/><stop offset=".167" stop-color="#fcdece"/><stop offset=".460" stop-color="#f9c5a9"/><stop offset=".611" stop-color="#f8b190"/><stop offset=".635" stop-color="#f8b08f"/><stop offset=".746" stop-color="#f8b697"/><stop offset=".802" stop-color="#f8b292"/><stop offset=".913" stop-color="#f7a581"/><stop offset=".952" stop-color="#f7a581"/><stop offset="1" stop-color="#f7a886"/></linearGradient><linearGradient id="e84" gradientUnits="userSpaceOnUse" x1="722" x2="1100" y1="0" y2="0"><stop offset=".000" stop-color="#fbd3be"/><stop offset=".016" stop-color="#fbd3be"/><stop offset=".087" stop-color="#fcdbca"/><stop offset=".183" stop-color="#fcdccb"/><stop offset=".476" stop-color="#f9c4a8"/><stop offset=".611" stop-color="#f8b393"/><stop offset=".746" stop-color="#f8b798"/><stop offset=".913" stop-color="#f7a682"/><stop offset=".952" stop-color="#f7a582"/><stop offset="1" stop-color="#f7a987"/></linearGradient><linearGradient id="e85" gradientUnits="userSpaceOnUse" x1="722" x2="1100" y1="0" y2="0"><stop offset=".000" stop-color="#fbd1bb"/><stop offset=".111" stop-color="#fcdac8"/><stop offset=".206" stop-color="#fcd9c7"/><stop offset=".611" stop-color="#f8b797"/><stop offset=".762" stop-color="#f8b798"/><stop offset=".881" stop-color="#f7a886"/><stop offset=".921" stop-color="#f7a682"/><stop offset="1" stop-color="#f7a987"/></linearGradient><linearGradient id="e86" gradientUnits="userSpaceOnUse" x1="722" x2="1100" y1="0" y2="0"><stop offset=".000" stop-color="#faceb7"/><stop offset=".103" stop-color="#fbd6c3"/><stop offset=".198" stop-color="#fbd7c4"/><stop offset=".579" stop-color="#f9bc9e"/><stop offset=".746" stop-color="#f8b89a"/><stop offset=".897" stop-color="#f7a784"/><stop offset=".937" stop-color="#f7a682"/><stop offset="1" stop-color="#f7a987"/></linearGradient><linearGradient id="e87" gradientUnits="userSpaceOnUse" x1="722" x2="1100" y1="0" y2="0"><stop offset=".000" stop-color="#faccb3"/><stop offset=".127" stop-color="#fbd4bf"/><stop offset=".230" stop-color="#fbd4bf"/><stop offset=".460" stop-color="#f9c5a9"/><stop offset=".722" stop-color="#f8bb9d"/><stop offset=".889" stop-color="#f7a784"/><stop offset=".937" stop-color="#f7a582"/><stop offset="1" stop-color="#f7a987"/></linearGradient><linearGradient id="e88" gradientUnits="userSpaceOnUse" x1="722" x2="1100" y1="0" y2="0"><stop offset=".000" stop-color="#fac9af"/><stop offset=".143" stop-color="#fbd0ba"/><stop offset=".230" stop-color="#fbd1bb"/><stop offset=".437" stop-color="#f9c6aa"/><stop offset=".635" stop-color="#f9c4a7"/><stop offset=".675" stop-color="#f9c1a5"/><stop offset=".889" stop-color="#f7a683"/><stop offset=".929" stop-color="#f7a581"/><stop offset="1" stop-color="#f7a986"/></linearGradient><linearGradient id="e89" gradientUnits="userSpaceOnUse" x1="722" x2="1100" y1="0" y2="0"><stop offset=".000" stop-color="#fac9af"/><stop offset=".143" stop-color="#fbd0ba"/><stop offset=".230" stop-color="#fbd1bb"/><stop offset=".437" stop-color="#f9c6aa"/><stop offset=".635" stop-color="#f9c4a7"/><stop offset=".675" stop-color="#f9c1a5"/><stop offset=".889" stop-color="#f7a683"/><stop offset=".929" stop-color="#f7a581"/><stop offset="1" stop-color="#f7a986"/></linearGradient></defs><rect x="722" y="56" width="378" height="4.6" fill="url(#e0)"/>
<rect x="722" y="60" width="378" height="4.6" fill="url(#e1)"/>
<rect x="722" y="64" width="378" height="4.6" fill="url(#e2)"/>
<rect x="722" y="68" width="378" height="4.6" fill="url(#e3)"/>
<rect x="722" y="72" width="378" height="4.6" fill="url(#e4)"/>
<rect x="722" y="76" width="378" height="4.6" fill="url(#e5)"/>
<rect x="722" y="80" width="378" height="4.6" fill="url(#e6)"/>
<rect x="722" y="84" width="378" height="4.6" fill="url(#e7)"/>
<rect x="722" y="88" width="378" height="4.6" fill="url(#e8)"/>
<rect x="722" y="92" width="378" height="4.6" fill="url(#e9)"/>
<rect x="722" y="96" width="378" height="4.6" fill="url(#e10)"/>
<rect x="722" y="100" width="378" height="4.6" fill="url(#e11)"/>
<rect x="722" y="104" width="378" height="4.6" fill="url(#e12)"/>
<rect x="722" y="108" width="378" height="4.6" fill="url(#e13)"/>
<rect x="722" y="112" width="378" height="4.6" fill="url(#e14)"/>
<rect x="722" y="116" width="378" height="4.6" fill="url(#e15)"/>
<rect x="722" y="120" width="378" height="4.6" fill="url(#e16)"/>
<rect x="722" y="124" width="378" height="4.6" fill="url(#e17)"/>
<rect x="722" y="128" width="378" height="4.6" fill="url(#e18)"/>
<rect x="722" y="132" width="378" height="4.6" fill="url(#e19)"/>
<rect x="722" y="136" width="378" height="4.6" fill="url(#e20)"/>
<rect x="722" y="140" width="378" height="4.6" fill="url(#e21)"/>
<rect x="722" y="144" width="378" height="4.6" fill="url(#e22)"/>
<rect x="722" y="148" width="378" height="4.6" fill="url(#e23)"/>
<rect x="722" y="152" width="378" height="4.6" fill="url(#e24)"/>
<rect x="722" y="156" width="378" height="4.6" fill="url(#e25)"/>
<rect x="722" y="160" width="378" height="4.6" fill="url(#e26)"/>
<rect x="722" y="164" width="378" height="4.6" fill="url(#e27)"/>
<rect x="722" y="168" width="378" height="4.6" fill="url(#e28)"/>
<rect x="722" y="172" width="378" height="4.6" fill="url(#e29)"/>
<rect x="722" y="176" width="378" height="4.6" fill="url(#e30)"/>
<rect x="722" y="180" width="378" height="4.6" fill="url(#e31)"/>
<rect x="722" y="184" width="378" height="4.6" fill="url(#e32)"/>
<rect x="722" y="188" width="378" height="4.6" fill="url(#e33)"/>
<rect x="722" y="192" width="378" height="4.6" fill="url(#e34)"/>
<rect x="722" y="196" width="378" height="4.6" fill="url(#e35)"/>
<rect x="722" y="200" width="378" height="4.6" fill="url(#e36)"/>
<rect x="722" y="204" width="378" height="4.6" fill="url(#e37)"/>
<rect x="722" y="208" width="378" height="4.6" fill="url(#e38)"/>
<rect x="722" y="212" width="378" height="4.6" fill="url(#e39)"/>
<rect x="722" y="216" width="378" height="4.6" fill="url(#e40)"/>
<rect x="722" y="220" width="378" height="4.6" fill="url(#e41)"/>
<rect x="722" y="224" width="378" height="4.6" fill="url(#e42)"/>
<rect x="722" y="228" width="378" height="4.6" fill="url(#e43)"/>
<rect x="722" y="232" width="378" height="4.6" fill="url(#e44)"/>
<rect x="722" y="236" width="378" height="4.6" fill="url(#e45)"/>
<rect x="722" y="240" width="378" height="4.6" fill="url(#e46)"/>
<rect x="722" y="244" width="378" height="4.6" fill="url(#e47)"/>
<rect x="722" y="248" width="378" height="4.6" fill="url(#e48)"/>
<rect x="722" y="252" width="378" height="4.6" fill="url(#e49)"/>
<rect x="722" y="256" width="378" height="4.6" fill="url(#e50)"/>
<rect x="722" y="260" width="378" height="4.6" fill="url(#e51)"/>
<rect x="722" y="264" width="378" height="4.6" fill="url(#e52)"/>
<rect x="722" y="268" width="378" height="4.6" fill="url(#e53)"/>
<rect x="722" y="272" width="378" height="4.6" fill="url(#e54)"/>
<rect x="722" y="276" width="378" height="4.6" fill="url(#e55)"/>
<rect x="722" y="280" width="378" height="4.6" fill="url(#e56)"/>
<rect x="722" y="284" width="378" height="4.6" fill="url(#e57)"/>
<rect x="722" y="288" width="378" height="4.6" fill="url(#e58)"/>
<rect x="722" y="292" width="378" height="4.6" fill="url(#e59)"/>
<rect x="722" y="296" width="378" height="4.6" fill="url(#e60)"/>
<rect x="722" y="300" width="378" height="4.6" fill="url(#e61)"/>
<rect x="722" y="304" width="378" height="4.6" fill="url(#e62)"/>
<rect x="722" y="308" width="378" height="4.6" fill="url(#e63)"/>
<rect x="722" y="312" width="378" height="4.6" fill="url(#e64)"/>
<rect x="722" y="316" width="378" height="4.6" fill="url(#e65)"/>
<rect x="722" y="320" width="378" height="4.6" fill="url(#e66)"/>
<rect x="722" y="324" width="378" height="4.6" fill="url(#e67)"/>
<rect x="722" y="328" width="378" height="4.6" fill="url(#e68)"/>
<rect x="722" y="332" width="378" height="4.6" fill="url(#e69)"/>
<rect x="722" y="336" width="378" height="4.6" fill="url(#e70)"/>
<rect x="722" y="340" width="378" height="4.6" fill="url(#e71)"/>
<rect x="722" y="344" width="378" height="4.6" fill="url(#e72)"/>
<rect x="722" y="348" width="378" height="4.6" fill="url(#e73)"/>
<rect x="722" y="352" width="378" height="4.6" fill="url(#e74)"/>
<rect x="722" y="356" width="378" height="4.6" fill="url(#e75)"/>
<rect x="722" y="360" width="378" height="4.6" fill="url(#e76)"/>
<rect x="722" y="364" width="378" height="4.6" fill="url(#e77)"/>
<rect x="722" y="368" width="378" height="4.6" fill="url(#e78)"/>
<rect x="722" y="372" width="378" height="4.6" fill="url(#e79)"/>
<rect x="722" y="376" width="378" height="4.6" fill="url(#e80)"/>
<rect x="722" y="380" width="378" height="4.6" fill="url(#e81)"/>
<rect x="722" y="384" width="378" height="4.6" fill="url(#e82)"/>
<rect x="722" y="388" width="378" height="4.6" fill="url(#e83)"/>
<rect x="722" y="392" width="378" height="4.6" fill="url(#e84)"/>
<rect x="722" y="396" width="378" height="4.6" fill="url(#e85)"/>
<rect x="722" y="400" width="378" height="4.6" fill="url(#e86)"/>
<rect x="722" y="404" width="378" height="4.6" fill="url(#e87)"/>
<rect x="722" y="408" width="378" height="4.6" fill="url(#e88)"/>
<rect x="722" y="412" width="378" height="4.6" fill="url(#e89)"/></g>
<ellipse cx="862" cy="112" rx="55" ry="10" fill="#f8b08f" opacity="0.55" filter="url(#b6)" transform="rotate(-38 862 112)"/>
<ellipse cx="800" cy="152" rx="12" ry="7" fill="#fdf0e8" opacity="0.6" filter="url(#b3)"/>
<path d="M761.6,383.8 758.6,375.5 753.3,370.1 743.2,368.1 748.4,356.6 745,352.6 753.8,340.9 758.8,329.7 759,321 768.1,318.5 781.3,324.8 795.1,329.7 803.6,331.9 807.9,321.4 810.5,310.6 807.2,301.7 797,293.1 797.6,287.6 806.4,288.6 813.1,291.1 816,283.9 823.4,287.2 830.8,283.2 833.4,277.4 840.4,276.3 845.9,271.7 849.6,264.6 857.7,261.8 866.7,261.8 867.8,251.3 866.5,240 868.8,235.7 877,231.7 875.5,240.5 877.9,242.1 874.7,250.2 872.9,253.1 877.5,259.2 884.5,256.3 892.1,259.9 901.9,254.9 910.8,252.6 916.3,254.2 921.4,247.4 918.8,235.8 923.6,228.3 931.7,230.4 926.2,221.1 929.6,213.6 941.1,210.7 945.4,205.7 935.7,204.7 929.2,208.5 920.6,211.7 915.8,206.6 914.2,194.4 915.8,184.7 921.7,174.8 921.4,169.7 917.6,169.8 912.8,172.9 911.2,181.8 905.3,189.9 901.1,197.5 900.9,207 907.3,213.7 904.4,222 900.3,232.7 898.9,242.4 891.7,248.7 885.8,247.4 884.5,240.7 881.7,229.6 878.8,222.2 877.1,216.3 873.1,222 867,228.2 861.2,227.7 857.9,222.2 857.6,209.7 859,198.9 864.5,195.2 871.6,189.3 876.6,182.4 882.8,175.4 885.7,168.3 889.6,159.7 892,154 895.6,150.2 899.9,144.1 906.5,139.6 912.4,133.5 919,131.8 926.6,136.8 934,139.4 941.7,138.5 957.8,141.6 960.4,150.7 955.5,155.5 945.7,156 938.4,155.1 947.6,162.9 951.1,169.2 959.4,171 960.1,165.2 967,161.7 970.7,147.2 961,132.5 966.9,131.2 973.3,131 980.1,118.5 984.5,117.5 988,108.2 992.6,105.5 988,98 995.4,94.6 1003.8,91.5 1008.4,89.9 998.5,81.8 990.1,81.7 983.4,73.1 979.2,66.8 984.9,66.7 993.8,69.5 1015.8,80.5 1017.7,77 993.4,63 992.6,56.7 987.6,49 988.8,37.2 982.4,34.3 979.2,23.8 977.1,13.4 974.5,10.1 967.7,3.9 973.6,-0.9 974.3,-7.4 981,-12.8 993.1,-12.2 992.5,-24.1 992.7,-34.7 986.4,-40.7 993.6,-49.9 994,-56.4 989.4,-63.9 980.5,-66.8 972.9,-72.8 969.3,-87.3 966.9,-94.9 959.2,-99.9 957.3,-109.6 956,-114.5 945.7,-118.5 936,-120.6 929.8,-124.5 922.9,-126.7 915,-136 920.8,-162.2 934.3,-177.4 949.3,-180.2 963.2,-186.6 976.4,-180.6 985.2,-177.6 996.6,-186.3 996.2,-195.1 1002.3,-200.1 1009.7,-204.4 1023.2,-213.7 1033.2,-216.3 1044.5,-217.7 1038.2,-203.5 1026.6,-184.1 1018.3,-176.4 1009.8,-178 997.4,-173 987.4,-170.5 977.5,-163.7 989.6,-160.7 998.2,-154.9 1012.6,-162.4 1022.7,-157.1 1033.2,-146.5 1043.5,-135.7 1050.1,-131.4 1059.4,-131.6 1077.3,-132.4 1088.8,-135.3 1086.8,-144.7 1086.4,-157.4 1092.6,-161.8 1106.7,-168.7 1116.4,-175 1131.5,-174.6 1145.9,-174.7 1165.5,-174.1 1176.5,-167.1 1184.5,-157.9 1199.5,-155.6 1206.9,-159.3 1218.6,-154.4 1226.4,-167.1 1240.9,-176 1253,-167 1257.4,-159.6 1245.8,-156 1234.4,-150.1 1235.3,-143.9 1221.7,-133.2 1220.8,-117.3 1220.4,-108.6 1234.6,-115.5 1221.6,-107.6 1235.6,-98.9 1245.8,-93.7 1252.1,-102.4 1253.1,-107.6 1246,-115.9 1246.7,-126.8 1260.8,-117.2 1271.1,-113.2 1285.5,-125.3 1291.5,-135.2 1299.2,-140.3 1307.7,-143.3 1321.4,-145.6 1332.8,-140.8 1348.7,-137.1 1364.8,-133 1377.7,-122.8 1388.5,-107 1397.1,-94.8 1407.9,-73.4 1419.1,-65.6 1409.8,-59.7 1410.4,-45.8 1422.5,-32.8 1432.9,-28.7 1443.5,-24.5 1458.4,-35.4 1468.1,-46.3 1477.5,-60.8 1498.6,-68.6 1515.4,-69.6 1524.8,-57.1 1531.7,-44.1 1551.6,-24.6 1542.3,-21.9 1530.7,-23.6 1531.2,-6.7 1514.3,4.7 1506.3,21 1498.2,31.5 1513.8,32.2 1536.1,42.2 1545.8,35.8 1560.2,30.5 1572.3,28.5 1575,16.6 1584.8,4.5 1603.4,-6.9 1625.1,-7.3 1643.2,-18.2 1644.8,-9 1633,10.9 1622.5,23.7 1603.1,30.8 1584.4,31.4 1571.9,38.2 1558.9,54.1 1543.6,53 1527.8,47.4 1512.9,48.6 1481.5,53.9 1463,57.5 1468.2,78.6 1461.6,88 1444.2,83.6 1427.7,90 1411,97.9 1396.2,101.8 1397.8,114.2 1396.7,128 1395,146.6 1408.3,155.2 1411,171 1425,203.8 1432.6,228.6 1452.3,237.7 1473.4,251.1 1481.8,260.7 1495,282.9 1495.4,293.4 1476,295.8 1451.9,292.6 1432.9,292.8 1409.6,290 1387.5,286.1 1367,280.2 1348.9,271 1341,268.7 1340.1,289.7 1320.1,293.4 1320.8,283.1 1307.8,290.7 1293.8,293.9 1282.8,294.6 1270.6,312.3 1257.6,329.5 1241.8,344.2 1228.2,351.3 1215.5,348 1206.6,362.8 1183.6,367.9 1165.6,362.4 1151.1,365.5 1145.9,371.6 1157.1,380.4 1172,386.6 1184.4,388.9 1196.6,397.4 1208.6,391.3 1218.6,382.7 1222.9,361.8 1229.4,364.8 1244.4,365 1262.2,363.4 1268.6,359.4 1273.4,380.5 1279.6,395.9 1277.2,414.3 1274.2,430.1 1258.2,458 1245.7,492.6 1219.2,529.6 1206.5,540.1 1189.4,526 1175.9,509.1 1154.3,497.3 1130.3,486.9 1119.4,475.7 1107.6,461.9 1094.7,455.3 1081.8,447.7 1065.5,437.4 1058,425.7 1058,440.5 1054.1,444.1 1039.3,430 1054.3,447 1067.3,456.9 1086.2,475 1102.1,484 1116,505.2 1133.2,514.1 1154,533.1 1181.2,539.5 1210.4,550.9 1229.1,555.5 1247.5,532.4 1269.4,515.1 1280.8,499.1 1289.2,511.3 1296.4,535.3 1302.3,568.7 1302.8,594.7 1299,630 1285.4,657.6 1274.5,692.5 1272.6,720.7 1268.2,755.8 1275.2,785.9 1292.6,803.3 1316,831.1 1333.5,846.5 1355.6,884.1 1363.5,925.7 1329.2,976.7 1319.3,1029.4 1337.6,1072.4 1355.2,1108.6 1317.4,1156.5 1324.4,1187.5 1334.7,1234.8 1317.5,1269 1302.9,1323 1269.2,1381.3 1228,1423.2 1167.1,1442.9 1087.4,1481.6 1041.5,1468.3 1029.5,1426.9 1001.5,1363.4 978.8,1314.1 947.1,1275.3 928.1,1181.8 916.9,1149.3 877.3,1087.8 873.8,1058.5 883.1,1002.9 903.4,976.2 897.6,925.9 883.2,874.1 881.7,856 864.3,838.1 843.7,814.4 842.5,783.8 847.8,757.3 851.3,738 838.1,724.6 816.7,724.2 801.5,723.9 788.7,697.2 764.6,693.4 745.7,694.9 719.2,700.5 706.2,701.2 683.8,688.5 665.6,684.3 639.1,684.5 624.2,670.8 604.9,637.5 594.6,611.6 600.1,597.4 590,579.5 593.2,568.4 580.5,552.6 587.5,531.3 600.8,520.2 616,498.7 618.4,488.3 621.6,472.8 641.5,455.6 655.1,448.6 664.2,440.4 680.9,430.9 695.5,432.5 711.2,426.3 717.8,416.3 726.3,403.4 746.1,398.6 759.1,384.7 763.5,391.6 777.3,394.7 783.6,398.2 798.8,394.7 813.5,391.6 834,393 854.4,394.3 868.1,391.7 874.7,394.4 871.2,399.4 874.4,407.2 868.4,418.3 875.4,427.2 885,430.8 903.7,434.8 908.6,441.7 923.4,445.1 935.6,450.1 942.5,442.9 941.8,432.2 951.4,425.4 962.7,425.3 978.8,429.2 994.6,429.9 1010.3,429.2 1023.3,419.5 1033.6,418.7 1046.8,412.7 1047.7,400.8 1045.6,392.1 1045.2,378.2 1043.3,370.5 1039.4,364.8 1030.9,367.4 1020.2,378 1006.1,379.2 995.8,380.7 985.3,381 979.9,373.7 974,364 970.8,358.8 978.1,354.4 985.8,347.1 988.5,345.4 997.1,341.7 1006.1,330.7 1017.4,326.2 1028,327.9 1040.6,325.6 1048.5,320.6 1054.7,312.6 1050.9,304.5 1039.5,303.4 1028.1,300.1 1021.9,300.4 1022.5,288.7 1022,279.3 1016.6,282.8 1007.8,289.4 1005.9,298.8 1009.8,302.4 1001.7,310.8 993.9,306.1 997.9,299.5 985.5,299 981.4,303.8 978.8,312.1 976.3,319.5 975.2,332.3 978.3,343.3 985.5,346.3 979.6,348 970.2,353.9 961.8,353.3 954.3,357.4 949,359.3 954.9,366.6 953.3,375.4 960.2,376.6 951.2,382.6 953,392.6 947.1,390.2 941.2,383.4 941.6,377.4 934,370.1 927.9,362.6 927.3,352.7 920.6,347 911.1,341.4 902,336.3 895.9,327 890.8,323.2 883.6,326.5 883.6,332.8 891.2,340.8 896.9,352.7 906.2,356.4 913.9,360.7 922.7,366.5 919,367.7 913,364.1 910.4,372.6 914.6,376.4 909.4,385.2 906.1,385.4 905.3,372.9 900.6,367.4 894.1,362.7 884.8,357.1 875.8,348.8 872.9,344.7 870.3,336.6 863.6,333 855.8,337.3 846.5,342 838.2,337.7 829.6,339.7 828.6,349.4 820.4,353.8 812.8,354 805.9,362.6 803.1,366.3 805.2,371.8 797.4,379.6 787,384.9 770.6,380.3 761.6,383.8Z M805.7,12.7 823.8,18.7 832,22.9 840.9,33.9 854.1,39 856.5,49.5 860,59.1 844.8,70.4 839,82.9 829,93 816.2,105.3 808.4,116.8 796.3,121.1 780,116.4 762.1,118.5 753.7,114.2 739.6,113.7 715.2,122.9 708.2,118.9 708,104.5 720.7,90 730.8,78.2 742.5,69.7 754.9,71.1 762.1,58.4 773.3,52.5 790.6,39.7 793.4,30 792.7,20.2 805.7,12.7Z M783,142 792.1,140.7 799.7,147.2 809.5,150.2 809,160.3 802.3,164.1 789.5,164.4 781.6,155.9 784.4,149.2 783,142Z M796.3,275.1 810.1,275.2 824.6,277.2 831.8,275.5 835.3,264.6 830.1,258.2 829.7,249.6 826,241.1 824.9,237 820.9,235.9 828.6,225.7 824.8,217.1 818.6,215.2 815.1,222.6 810.8,230.6 812.8,235.1 810.2,242.1 817.5,245 816.7,251 815.5,255.4 808.6,253.4 809,258.2 806.9,265.5 801.9,264 810.8,269 804,270.2 796.3,275.1Z M799.9,259.4 802.2,249.8 805.4,242.9 805,237.3 797.8,234.7 794.2,240.5 787.7,240.3 785.6,247.6 780.6,253.8 787.4,259.7 799.9,259.4Z M882,84.7 889.7,98.3 893.7,91.1 895.6,83.9 901.9,75.6 898.3,70.8 890.4,72.8 883.4,75.8 882,84.7Z M963.9,104.7 970.1,106.8 978.7,100.7 965.8,93.8 959,81.1 957.8,69.1 958.7,56.5 955.3,58.9 952,68.4 953.3,81.7 958.1,91.4 963.9,104.7Z M1067.2,271.6 1069.3,255.5 1077.5,244.2 1084.7,240.2 1093.8,249.1 1089.1,260.2 1094.3,269.5 1109.3,271.8 1120.8,272.7 1120.4,281.8 1130.7,284.9 1139.6,293.9 1127.9,311.5 1112.5,313.7 1105.5,304.3 1100.6,292.4 1089.3,287.6 1078.8,283.1 1071.8,273.3 1067.2,271.6Z M884.2,386.1 905.3,383 902.6,396.6 884.9,389.5 884.2,386.1Z M858.2,360.2 866.9,359.1 866.8,375.6 858.9,377.7 858.9,368.5 858.2,360.2Z M861.4,349 866.4,344.4 867.2,352.6 864.6,357.4 861.4,349Z M961.7,401.5 981,397.2 979.5,400.2 965.9,404.1 961.7,401.5Z M1021.9,386.5 1025.6,382.4 1035.1,375.9 1033.7,383.8 1026,389.6 1021.9,386.5Z M877.9,242.1 884.9,244.4 883.7,251.8 878.1,249.5 877.9,242.1Z M906.7,233.6 909.4,228.9 909.6,234 906.7,233.6Z M918.8,60.8 925.4,51.4 933.2,48.2 930,56.5 918.8,60.8Z M944.9,198.2 952.5,193.3 955.2,197.7 949.1,205.3 944.9,198.2Z M957.9,188.2 960.3,180.9 963.8,187.2 962.4,190.2 957.9,188.2Z M772.4,1.8 766.2,9.8 753.1,21.6 748.5,29.4 743.4,32.8 733.4,42.9 729.3,49.7 719.6,46.3 711.6,43.5 701.7,48.3 694.3,36.9 701.6,26 707,22.3 710.1,15.9 713.4,6.8 720.1,16.8 729.5,18.9 736.1,10.6 745.2,6 747,-4 746.5,-12.6 752.2,-17.7 759.8,-19.7 765.3,-11 771.9,-8.1 772.4,1.8Z M892.9,73.9 900.7,70.9 898.6,77.8 892.9,73.9Z" fill="none" stroke="#1a1a1a" stroke-width="0.8" stroke-linejoin="round"/>
</g>
<rect x="728.5" y="62.5" width="366" height="347.5" fill="none" stroke="#333" stroke-width="1"/>
<rect x="1123.5" y="62.5" width="15" height="347.5" fill="url(#cbg)" stroke="#111" stroke-width="1"/>
<g class="d" font-size="18.3" fill="#000" stroke="#000" stroke-width="0.25">
<text x="1141.2" y="68.8">13</text>
<text x="1141.2" y="112.3">6</text>
<text x="1141.2" y="155.8">4</text>
<text x="1141.2" y="199.3">2</text>
<text x="1141.2" y="242.8">0</text>
<text x="1141.2" y="286.3">-2</text>
<text x="1141.2" y="329.8">-4</text>
<text x="1141.2" y="373.3">-6</text>
<text x="1141.2" y="416.8">-13</text>
<text x="1165.6" y="242.8">°C</text>
</g>
<text class="t" x="315" y="431.5" font-size="18.08" fill="#000" xml:space="preserve">(Data: ERA5.  Reference period: 1981-2010.  Credit: C3S/ECMWF)</text>
<text class="t" font-size="12" fill="#000" transform="translate(19.6 291.5) rotate(90) scale(0.91 1)" x="0" y="0">Date created: 2020-12-03</text>
<g fill="none" stroke="#b4b4b4" stroke-width="1.1">
<path d="M20,467.5 L41,467.5 Q56.0,463.5 68.0,454.5"/>
<path d="M20,470.7 L41,470.7 Q53.0,467.5 62.6,460.3"/>
<path d="M20,473.9 L41,473.9 Q50.0,471.5 57.2,466.1"/>
<path d="M20,477.1 L41,477.1 Q47.0,475.5 51.8,471.9"/>
<path d="M20,480.3 L41,480.3 Q44.0,479.5 46.4,477.7"/>
<path d="M20,483.5 L41,483.5"/>
<path d="M20,486.7 L41,486.7"/>
<path d="M20,489.9 L41,489.9"/>
<path d="M20,493.1 L41,493.1"/>
<path d="M20,496.3 L41,496.3"/>
</g><g fill="none" stroke="#bcbcbc" stroke-width="1.1">
<path d="M90.5,453.5 L104.5,464.3"/>
<path d="M90.5,456.9 L105.7,466.8"/>
<path d="M90.5,460.2 L106.9,469.2"/>
<path d="M90.5,463.6 L108.1,471.7"/>
<path d="M90.5,466.9 L109.3,474.1"/>
<path d="M90.5,470.2 L110.5,476.6"/>
<path d="M90.5,473.6 L111.7,479.0"/>
<path d="M90.5,476.9 L112.9,481.4"/>
<path d="M90.5,480.3 L114.1,483.9"/>
<path d="M90.5,483.6 L115.3,486.3"/>
<path d="M90.5,487.0 L116.5,488.8"/>
<path d="M90.5,490.4 L117.7,491.2"/>
<path d="M90.5,493.7 L120.0,493.7"/>
<path d="M90.5,497.1 L120.0,497.1"/>
<path d="M90.5,453 L90.5,498.5" stroke-width="1"/>
</g>
<rect x="41" y="471" width="43" height="27.5" fill="#1f4ea3"/>
<circle cx="72.0" cy="484.7" r="1.25" fill="#e3e84a"/>
<circle cx="70.7" cy="489.4" r="1.25" fill="#e3e84a"/>
<circle cx="67.2" cy="492.9" r="1.25" fill="#e3e84a"/>
<circle cx="62.5" cy="494.2" r="1.25" fill="#e3e84a"/>
<circle cx="57.8" cy="492.9" r="1.25" fill="#e3e84a"/>
<circle cx="54.3" cy="489.4" r="1.25" fill="#e3e84a"/>
<circle cx="53.0" cy="484.7" r="1.25" fill="#e3e84a"/>
<circle cx="54.3" cy="479.9" r="1.25" fill="#e3e84a"/>
<circle cx="57.7" cy="476.5" r="1.25" fill="#e3e84a"/>
<circle cx="62.5" cy="475.2" r="1.25" fill="#e3e84a"/>
<circle cx="67.2" cy="476.5" r="1.25" fill="#e3e84a"/>
<circle cx="70.7" cy="479.9" r="1.25" fill="#e3e84a"/>
<text x="42" y="507" font-family="Liberation Sans" font-size="5.8" fill="#555">European</text>
<text x="42" y="513.5" font-family="Liberation Sans" font-size="5.8" fill="#555" textLength="33" lengthAdjust="spacingAndGlyphs">Commission</text>
<rect x="41" y="516" width="43" height="2.8" fill="#1f4ea3"/>
<defs><linearGradient id="cpg" x1="0" y1="0" x2="1" y2="1"><stop offset="0" stop-color="#2f6fb0"/><stop offset="1" stop-color="#6aa6d8"/></linearGradient></defs>
<path d="M371,463.5 A22,21.8 0 1 0 357,498.6 A20.5,20.5 0 1 1 371,463.5 Z" fill="#3d7fc0"/>
<text x="346.2" y="490.6" font-family="Liberation Sans" font-size="26" fill="#1b2b5e" textLength="111" lengthAdjust="spacingAndGlyphs">opernicus</text>
<circle cx="409" cy="481.5" r="2.3" fill="#f5c518"/>
<text x="381" y="500.3" font-family="Liberation Sans" font-size="7.2" fill="#1b2b5e" textLength="77" lengthAdjust="spacingAndGlyphs">Europe's eyes on Earth</text>
<text x="688.7" y="464.6" font-family="Liberation Sans" font-weight="bold" font-size="6" fill="#1d5290" textLength="61" lengthAdjust="spacingAndGlyphs">IMPLEMENTED BY</text>
<g fill="#1e6fb5"><circle cx="700" cy="483.8" r="14.2"/><circle cx="714" cy="483.8" r="14.2"/></g>
<g fill="#fff"><circle cx="701.2" cy="483.8" r="5.8"/><circle cx="712.9" cy="483.8" r="6"/><rect x="712" y="480.4" width="18" height="7"/><rect x="684" y="480.4" width="17" height="1.7"/><rect x="684" y="485.7" width="17" height="1.7"/></g>
<text x="733.5" y="496.7" font-family="Liberation Sans" font-weight="bold" font-size="35.5" fill="#1e6fb5" textLength="127" lengthAdjust="spacingAndGlyphs">ECMWF</text>
<path d="M1099,466.4 A21.8,21.8 0 1 0 1087.6,497.6 A19.5,20.5 0 1 1 1099,466.4 Z" fill="#8a1538"/>
<path d="M1067.4,475.6 C1068,471 1071,469 1073,470.5 C1074,468 1078,467 1080,468.5 C1081.5,465.5 1087,465 1090,467.5 C1092,469 1093,471 1094,472.5 C1096,472.5 1098,474 1099,475.5" fill="none" stroke="#8a1538" stroke-width="1.1"/>
<rect x="1085.6" y="471.3" width="3" height="11" rx="1.2" fill="none" stroke="#8a1538" stroke-width="1"/>
<circle cx="1087.1" cy="484.3" r="2.9" fill="#8a1538"/>
<text x="1105.4" y="475.4" font-family="Liberation Sans" font-size="8.7" fill="#8a1538">Climate</text>
<text x="1105.4" y="484.5" font-family="Liberation Sans" font-size="8.7" fill="#8a1538" textLength="60.5" lengthAdjust="spacingAndGlyphs">Change Service</text>
<text x="1105" y="499.6" font-family="Liberation Sans" font-size="6" fill="#9a9a9a" textLength="75" lengthAdjust="spacingAndGlyphs">climate.copernicus.eu</text>
</svg>
</body></html>
